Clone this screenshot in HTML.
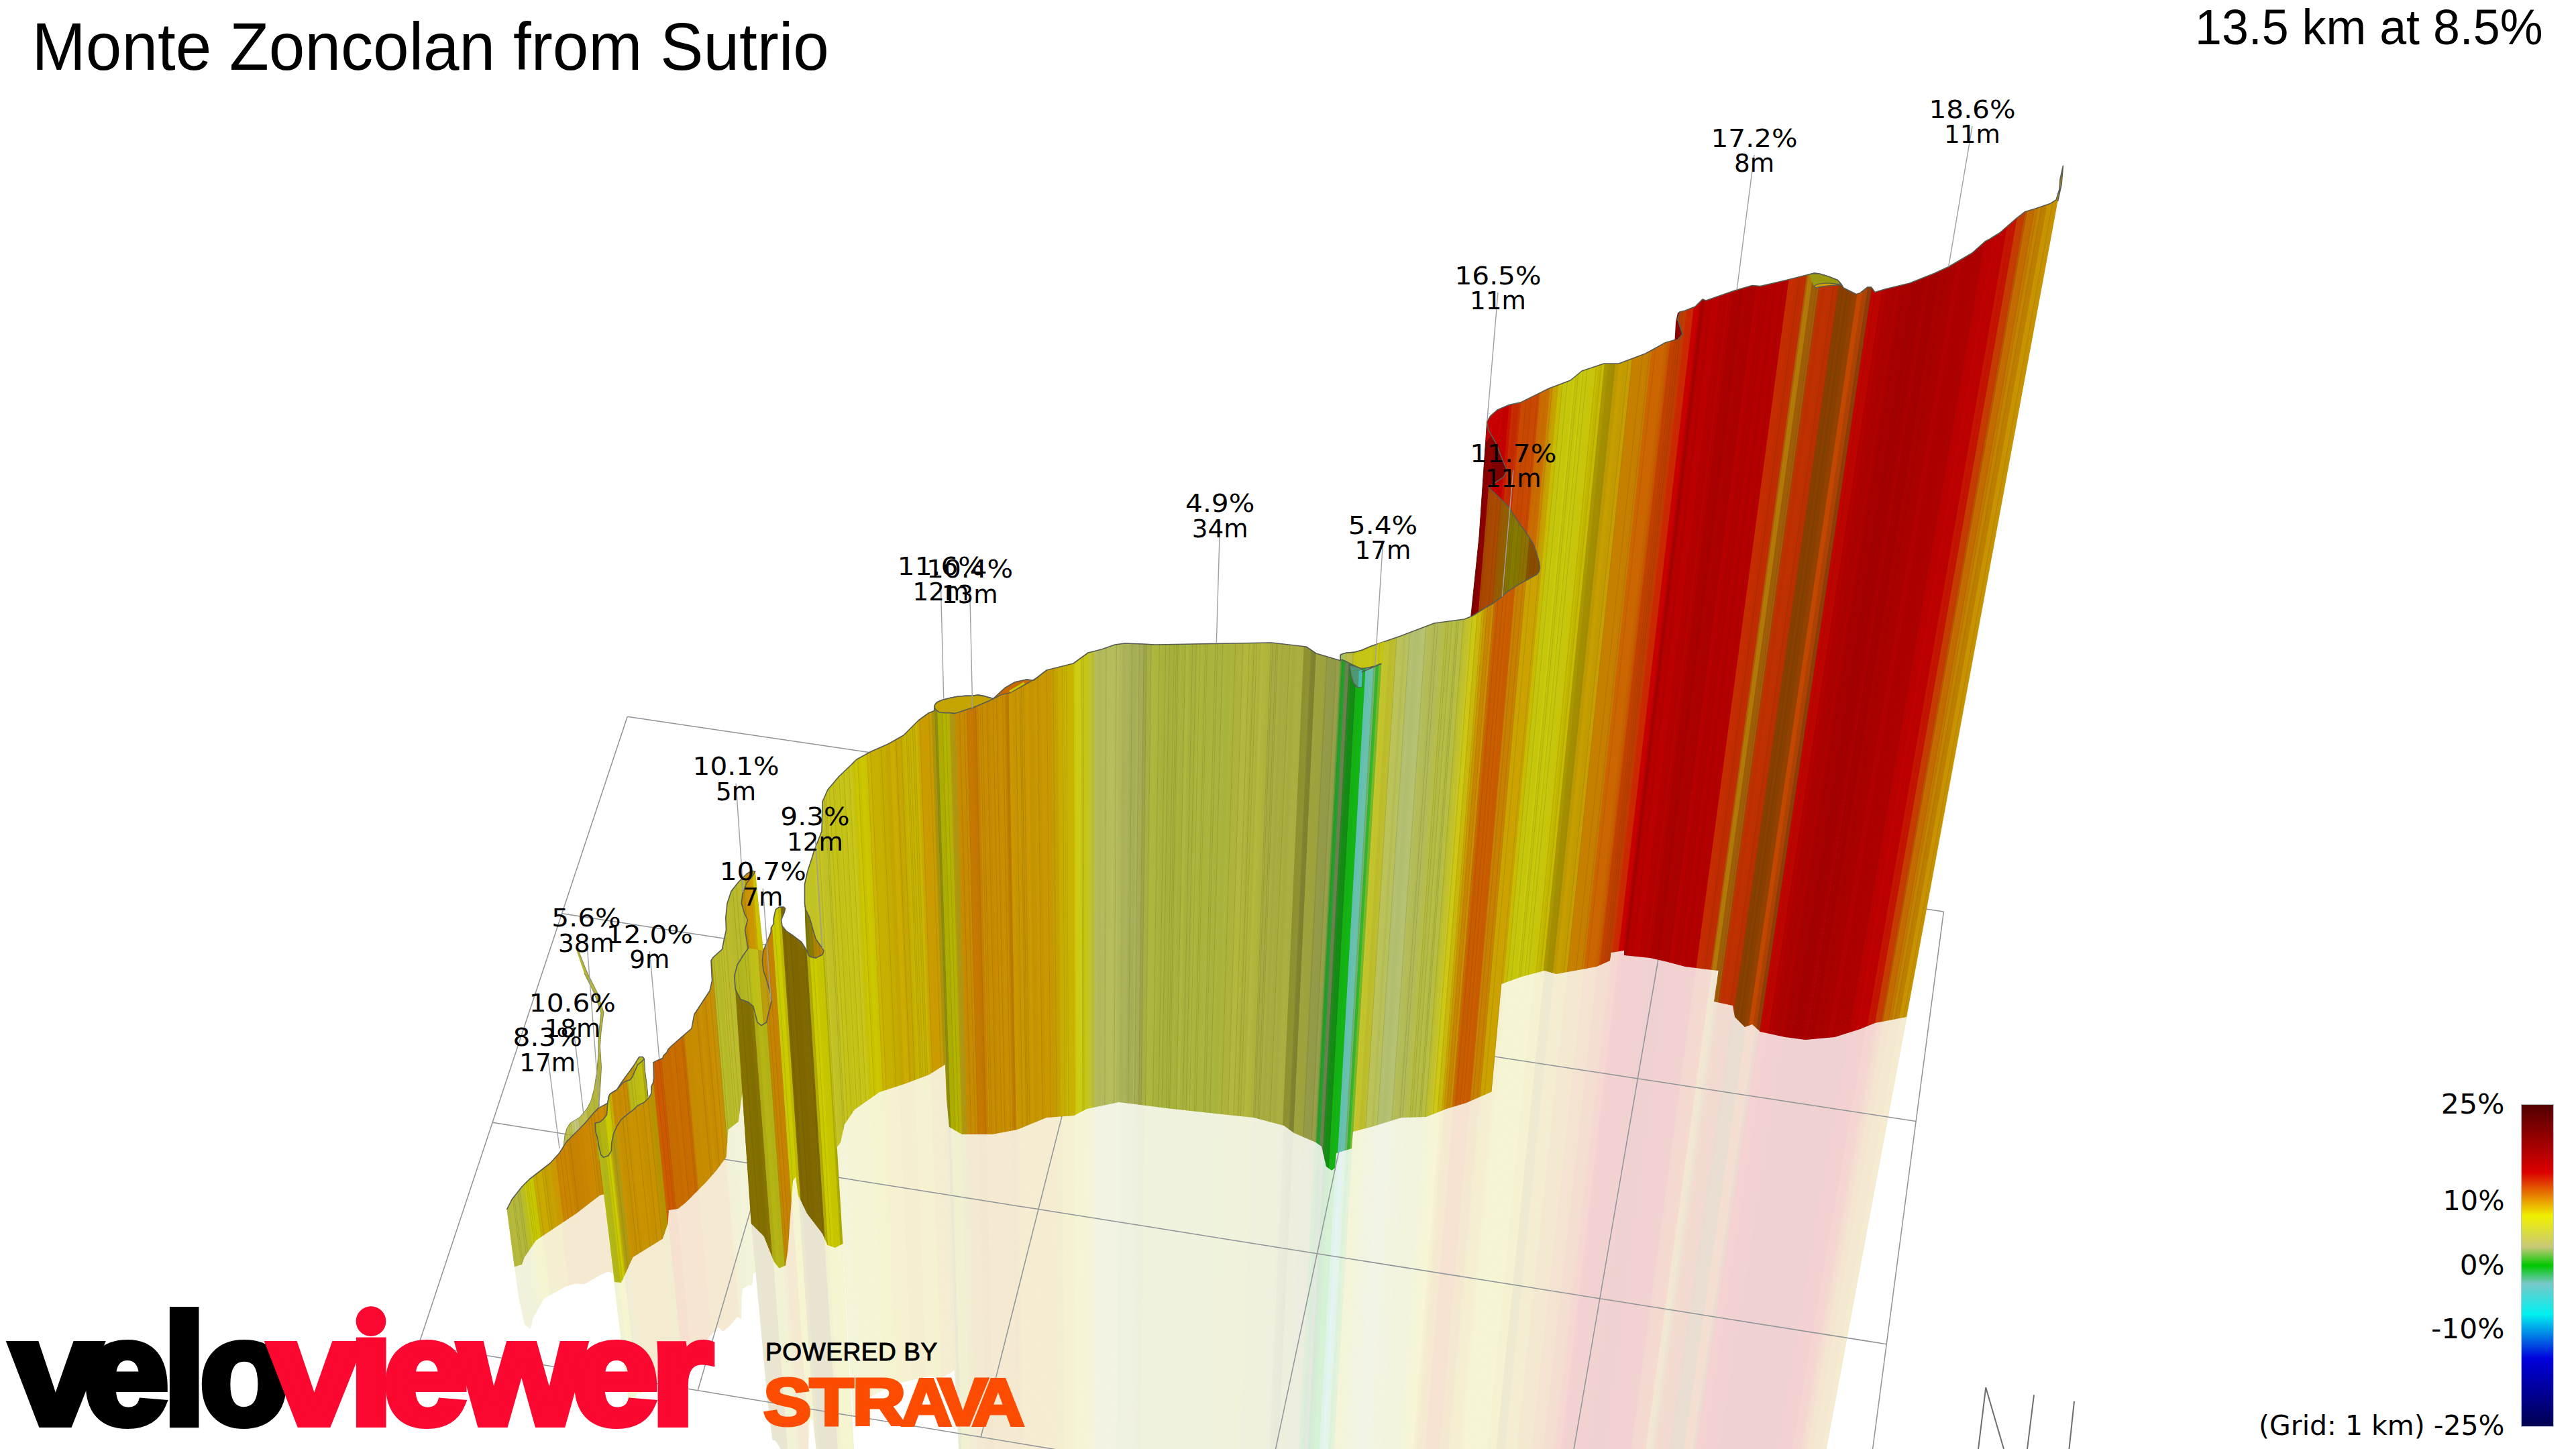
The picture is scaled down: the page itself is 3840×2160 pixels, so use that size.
<!DOCTYPE html>
<html><head><meta charset="utf-8"><title>Monte Zoncolan from Sutrio</title>
<style>
html,body{margin:0;padding:0;background:#fff;}
body{width:3840px;height:2160px;overflow:hidden;position:relative;font-family:"Liberation Sans",sans-serif;}
svg{position:absolute;left:0;top:0;display:block}
text{font-family:"DejaVu Sans","Liberation Sans",sans-serif}
.t{font-family:"Liberation Sans",sans-serif}
</style></head><body>
<svg width="3840" height="2160" viewBox="0 0 3840 2160">
<defs>
<clipPath id="c1"><polygon points="766.8,1887.5 769.7,1886.6 772.5,1885.7 775.3,1884.8 778.0,1883.5 780.2,1877.7 782.4,1872.2 784.8,1868.6 787.3,1865.0 789.8,1861.4 792.2,1857.8 794.7,1854.2 797.1,1850.5 799.7,1847.5 802.4,1845.6 805.1,1843.8 807.8,1842.0 810.6,1840.2 813.3,1838.4 816.0,1836.6 818.7,1834.8 821.4,1833.0 824.2,1831.1 826.9,1829.3 829.6,1827.5 832.4,1825.7 835.1,1823.9 837.8,1822.0 840.6,1820.2 843.3,1818.4 846.0,1816.6 848.8,1814.7 851.5,1812.9 854.3,1811.1 857.0,1809.2 859.7,1807.3 862.5,1805.2 865.2,1803.1 867.9,1801.0 870.6,1798.9 873.3,1796.8 876.1,1794.7 878.8,1792.6 881.5,1790.5 884.3,1788.4 887.0,1786.3 889.7,1784.2 892.5,1782.1 895.3,1780.6 898.2,1779.8 901.1,1779.1 903.9,1778.3 906.8,1777.5 909.7,1776.7 912.6,1775.9 915.5,1775.1 918.4,1774.3 921.3,1773.6 924.2,1772.8 927.1,1772.0 930.0,1771.2 932.9,1770.4 935.8,1769.6 938.7,1768.8 941.6,1768.0 944.5,1767.3 947.4,1766.5 950.3,1765.7 953.2,1764.9 956.1,1764.1 959.0,1763.3 961.9,1762.5 964.9,1761.7 967.8,1760.9 970.7,1760.1 973.6,1759.4 971.0,1704.2 983.7,1829.9 991.5,1935.1 988.6,1935.2 985.5,1933.1 982.3,1930.7 979.2,1928.6 976.1,1926.7 973.0,1924.8 969.9,1923.1 966.8,1921.4 963.7,1919.6 960.6,1917.7 957.5,1915.7 954.3,1913.4 951.1,1911.1 948.2,1910.7 945.2,1910.7 942.3,1910.4 939.2,1909.3 935.7,1903.7 932.4,1900.2 929.5,1900.3 926.6,1900.4 923.6,1900.5 920.7,1900.5 917.7,1899.7 914.7,1898.7 911.6,1897.6 908.5,1896.2 905.6,1896.1 902.8,1897.3 900.0,1898.4 897.2,1899.6 894.5,1901.1 891.7,1902.6 889.0,1904.1 886.2,1905.7 883.5,1907.2 880.8,1908.7 878.0,1910.3 875.3,1911.8 872.6,1913.4 869.7,1914.3 866.8,1914.1 863.9,1913.9 860.9,1913.7 858.0,1913.5 855.1,1914.2 852.3,1915.1 849.5,1915.9 846.7,1916.7 843.9,1917.5 841.1,1918.8 838.4,1920.4 835.7,1921.9 833.0,1923.4 830.3,1925.0 827.5,1926.5 824.8,1928.0 822.1,1929.6 819.4,1931.1 816.7,1932.6 814.0,1934.2 811.2,1935.5 808.8,1939.0 806.5,1943.6 804.2,1948.1 801.9,1952.6 799.5,1956.5 797.1,1960.5 794.8,1964.5 792.9,1972.0 791.1,1980.3 788.1,1979.4 784.9,1976.7 781.6,1974.1 773.2,1933.9"/></clipPath>
<clipPath id="c2"><polygon points="888.1,1687.2 916.4,1910.1 919.4,1910.3 922.3,1910.6 925.3,1910.9 927.8,1907.0 930.1,1902.0 932.5,1896.9 934.9,1891.8 937.2,1886.6 939.6,1881.4 941.9,1876.2 944.5,1872.3 947.2,1870.7 950.0,1869.0 952.7,1867.3 955.5,1865.6 958.3,1863.9 961.0,1862.2 963.8,1860.5 966.5,1858.8 969.3,1857.1 972.1,1855.4 974.8,1853.7 977.6,1852.0 980.4,1850.3 983.2,1848.5 985.9,1846.8 988.6,1843.6 990.8,1836.9 993.1,1830.1 995.4,1823.3 996.7,1806.3 999.3,1802.7 1002.2,1802.2 1005.1,1801.8 1008.1,1801.4 1011.0,1800.6 1013.7,1798.4 1016.5,1796.2 1019.2,1794.0 1022.0,1791.7 1024.7,1789.2 1027.5,1786.4 1030.2,1783.7 1032.9,1780.9 1035.6,1778.2 1038.4,1775.4 1041.1,1772.7 1043.8,1769.9 1046.6,1767.2 1049.3,1764.4 1052.0,1761.7 1054.8,1758.7 1057.5,1755.6 1060.2,1752.5 1062.9,1749.4 1065.6,1746.3 1068.4,1743.0 1071.0,1739.4 1073.7,1735.8 1076.4,1732.2 1079.1,1728.6 1081.8,1724.9 1083.5,1709.6 1084.9,1690.1 1087.2,1681.6 1090.1,1679.3 1092.9,1677.1 1095.8,1674.8 1098.6,1672.6 1101.2,1666.9 1103.1,1652.9 1105.0,1638.8 1107.3,1629.2 1110.4,1629.9 1113.5,1630.6 1116.6,1631.4 1119.7,1632.1 1122.8,1632.8 1125.9,1633.5 1129.0,1634.2 1132.1,1634.9 1135.2,1635.6 1138.3,1636.3 1141.4,1637.1 1144.5,1637.8 1147.6,1638.5 1170.4,1948.2 1167.4,1946.7 1164.3,1943.8 1161.1,1940.9 1158.0,1937.3 1154.8,1933.6 1151.6,1929.8 1148.4,1926.0 1145.1,1921.8 1141.9,1917.4 1138.6,1913.1 1135.3,1908.4 1131.8,1900.5 1128.2,1892.6 1125.7,1897.7 1122.9,1898.6 1121.3,1915.6 1118.5,1916.6 1115.5,1915.7 1112.7,1917.6 1110.0,1919.6 1107.2,1921.5 1105.4,1935.1 1105.2,1967.3 1102.1,1964.6 1099.1,1963.3 1096.5,1966.5 1093.9,1969.6 1091.2,1972.6 1088.6,1975.7 1085.9,1978.2 1083.2,1980.3 1080.5,1982.5 1077.8,1984.7 1074.8,1982.5 1071.5,1978.5 1068.8,1980.3 1066.2,1983.2 1063.6,1986.2 1060.9,1989.2 1058.3,1992.1 1055.7,1995.1 1053.1,1998.1 1050.5,2001.0 1047.9,2004.0 1045.3,2006.9 1042.7,2009.6 1040.0,2011.2 1037.1,2011.4 1034.4,2012.6 1031.7,2014.4 1028.6,2011.9 1025.7,2011.7 1022.8,2011.4 1019.8,2010.9 1017.5,2016.5 1015.5,2024.8 1013.2,2031.0 1010.5,2031.9 1008.4,2040.3 1005.9,2043.8 1003.2,2044.6 1000.4,2045.9 997.8,2047.9 995.1,2049.8 992.5,2051.8 989.7,2052.6 986.9,2053.4 984.2,2054.5 981.5,2055.8 978.8,2057.1 976.1,2058.4 973.3,2059.5 970.6,2060.6 967.9,2061.6 964.9,2061.1 962.5,2064.6 960.2,2070.1 957.9,2075.1 955.4,2077.8 952.4,2076.3 949.7,2077.5 947.5,2083.1 945.3,2089.5 942.3,2088.1 939.5,2088.1 937.5,2095.0 888.9,1694.3"/></clipPath>
<clipPath id="c3"><polygon points="1119.9,1823.3 1123.2,1826.5 1126.4,1829.8 1129.6,1833.0 1132.8,1836.2 1136.0,1839.4 1139.3,1843.6 1142.9,1852.8 1146.6,1861.9 1150.2,1870.9 1153.8,1880.0 1157.1,1884.1 1160.3,1888.1 1163.3,1888.6 1166.1,1887.5 1169.0,1886.4 1171.5,1881.5 1173.5,1868.4 1175.3,1851.8 1176.7,1831.0 1178.2,1810.3 1179.7,1789.4 1181.3,1768.4 1183.5,1757.1 1186.5,1757.9 1191.3,1783.8 1194.7,1791.0 1198.2,1798.2 1201.6,1805.3 1205.0,1810.7 1208.2,1814.9 1211.5,1819.1 1214.7,1823.3 1217.9,1827.6 1221.2,1831.8 1224.4,1836.0 1227.7,1842.0 1231.2,1849.8 1234.5,1855.4 1237.5,1856.4 1240.5,1857.4 1243.5,1858.5 1246.4,1858.2 1249.3,1856.7 1252.1,1855.2 1255.0,1853.7 1275.4,2200.0 1272.6,2200.0 1269.8,2200.0 1267.0,2200.0 1264.2,2200.0 1261.5,2200.0 1258.7,2200.0 1255.9,2200.0 1253.1,2200.0 1250.3,2200.0 1247.5,2200.0 1244.8,2200.0 1242.0,2200.0 1239.2,2199.7 1236.0,2194.2 1232.9,2188.7 1229.7,2182.9 1226.4,2175.2 1224.7,2191.0 1221.0,2178.4 1217.3,2165.7 1211.3,2118.2 1208.2,2114.0 1206.2,2125.6 1205.3,2153.5 1204.5,2182.3 1203.0,2200.0 1200.2,2200.0 1197.4,2200.0 1194.6,2200.0 1191.8,2200.0 1189.1,2200.0 1186.3,2200.0 1183.5,2200.0 1180.7,2200.0 1177.9,2200.0 1175.1,2200.0 1171.7,2191.0 1167.8,2176.7 1163.8,2161.2 1160.5,2154.5 1157.3,2149.7 1154.2,2146.8 1151.5,2147.0 1143.6,2083.5 1122.0,1848.5"/></clipPath>
<clipPath id="c4"><polygon points="2192.7,922.7 2191.4,979.6 2190.1,1035.6 2188.9,1090.6 2187.6,1144.9 2186.4,1198.3 2185.1,1250.9 2183.9,1302.8 2182.8,1353.8 2181.6,1404.1 2180.4,1453.7 2182.1,1468.9 2185.0,1468.7 2188.0,1468.6 2190.9,1468.4 2193.9,1468.3 2196.8,1468.1 2199.7,1468.0 2202.7,1467.8 2205.6,1467.7 2208.6,1467.5 2211.5,1467.4 2214.4,1467.2 2217.4,1467.1 2220.3,1466.9 2223.3,1466.8 2226.2,1466.6 2229.1,1466.5 2232.1,1466.3 2235.0,1466.2 2238.0,1466.0 2241.0,1464.9 2244.0,1463.8 2247.0,1462.7 2250.1,1461.6 2253.1,1460.5 2256.2,1459.4 2259.2,1458.3 2262.2,1457.2 2265.3,1456.0 2268.3,1454.9 2271.3,1454.2 2274.3,1453.4 2277.3,1452.6 2280.3,1451.8 2283.3,1451.0 2286.4,1450.2 2289.4,1449.4 2292.4,1448.6 2295.4,1447.8 2298.4,1447.0 2301.4,1446.2 2304.3,1446.6 2307.2,1447.4 2310.0,1448.2 2312.9,1449.0 2315.7,1449.8 2318.6,1450.6 2321.5,1450.7 2324.5,1450.2 2327.5,1449.6 2330.5,1449.1 2333.5,1448.5 2336.5,1448.0 2339.5,1447.5 2342.5,1446.9 2345.5,1446.4 2348.4,1445.8 2351.4,1445.3 2354.4,1444.7 2357.4,1444.2 2360.4,1443.6 2363.4,1443.1 2366.4,1442.5 2369.4,1442.0 2372.4,1441.4 2375.4,1440.9 2378.4,1440.3 2381.5,1439.4 2384.6,1438.0 2387.7,1436.6 2390.8,1435.2 2393.9,1433.8 2397.0,1432.4 2400.1,1431.0 2404.4,1418.6 2407.4,1418.2 2410.4,1417.7 2413.5,1417.2 2416.5,1416.7 2419.5,1416.3 2421.6,1423.1 2424.5,1423.3 2427.4,1423.6 2430.3,1423.9 2433.2,1424.2 2436.2,1424.5 2439.1,1424.8 2442.0,1425.1 2444.9,1425.4 2447.8,1425.7 2450.7,1426.0 2453.6,1426.3 2456.5,1426.6 2459.4,1426.9 2462.3,1427.5 2465.2,1428.2 2468.0,1428.8 2470.9,1429.5 2473.7,1430.1 2476.6,1430.8 2479.5,1431.5 2482.3,1432.1 2485.2,1432.8 2488.0,1433.5 2490.9,1434.3 2493.7,1435.0 2496.6,1435.8 2499.4,1436.6 2502.2,1437.3 2505.1,1438.1 2507.9,1438.9 2510.8,1439.6 2513.6,1440.2 2516.5,1440.5 2519.4,1440.9 2522.3,1441.2 2525.2,1441.6 2528.1,1441.9 2531.0,1442.3 2533.9,1442.6 2536.7,1443.0 2539.6,1443.3 2542.5,1443.7 2545.4,1444.0 2548.3,1444.4 2551.2,1444.7 2554.1,1445.1 2557.0,1445.4 2559.9,1445.8 2556.3,1492.2 2559.1,1492.9 2562.0,1493.5 2564.8,1494.1 2567.6,1494.7 2570.4,1495.3 2573.3,1495.9 2576.1,1496.5 2578.9,1497.1 2581.8,1497.7 2584.0,1502.6 2585.6,1511.7 2587.8,1516.6 2590.3,1519.1 2592.8,1521.7 2595.4,1524.2 2597.9,1526.7 2600.4,1529.3 2603.3,1529.2 2606.4,1528.1 2609.5,1527.0 2612.5,1526.3 2615.0,1528.6 2617.6,1531.0 2620.1,1533.3 2622.7,1535.6 2625.3,1537.3 2628.1,1537.9 2630.9,1538.5 2633.7,1539.1 2636.5,1539.7 2639.3,1540.3 2642.1,1540.9 2644.9,1541.5 2647.7,1542.1 2650.5,1542.7 2653.3,1543.3 2656.1,1543.9 2658.9,1544.5 2661.7,1545.1 2664.6,1545.5 2667.4,1545.8 2670.2,1546.2 2673.1,1546.6 2675.9,1547.0 2678.7,1547.3 2681.6,1547.7 2684.4,1548.1 2687.2,1548.5 2690.0,1548.9 2692.9,1548.8 2695.9,1548.6 2698.8,1548.3 2701.7,1548.0 2704.7,1547.8 2707.6,1547.5 2710.6,1547.2 2713.5,1547.0 2716.4,1546.7 2719.4,1546.4 2722.3,1546.2 2725.2,1545.9 2728.2,1545.6 2731.1,1545.4 2734.0,1545.1 2737.1,1544.4 2740.1,1543.4 2743.2,1542.5 2746.2,1541.5 2749.3,1540.5 2752.3,1539.6 2755.4,1538.6 2758.5,1537.6 2761.5,1536.7 2764.6,1535.7 2767.6,1534.7 2770.7,1533.8 2773.8,1532.7 2776.9,1531.5 2780.0,1530.2 2783.2,1528.9 2786.3,1527.6 2789.4,1526.4 2792.5,1525.1 2795.6,1523.9 2798.6,1523.3 2801.6,1522.8 2804.6,1522.2 2807.7,1521.6 2810.7,1521.0 2813.7,1520.5 2816.7,1519.9 2819.7,1519.3 2822.7,1518.7 2825.7,1518.2 2828.7,1517.6 2831.7,1517.0 2834.7,1516.4 2837.7,1515.9 2840.7,1515.3 2989.2,722.4 2913.0,1137.6 2715.4,2200.0 2712.8,2200.0 2710.2,2200.0 2707.6,2200.0 2705.0,2200.0 2702.4,2200.0 2699.7,2200.0 2697.1,2200.0 2694.5,2200.0 2691.9,2200.0 2689.3,2200.0 2686.7,2200.0 2684.1,2200.0 2681.5,2200.0 2678.9,2200.0 2676.3,2200.0 2673.7,2200.0 2671.1,2200.0 2668.5,2200.0 2665.9,2200.0 2663.3,2200.0 2660.7,2200.0 2658.1,2200.0 2655.4,2200.0 2652.8,2200.0 2650.2,2200.0 2647.6,2200.0 2645.0,2200.0 2642.4,2200.0 2639.8,2200.0 2637.2,2200.0 2634.6,2200.0 2632.0,2200.0 2629.4,2200.0 2626.8,2200.0 2624.2,2200.0 2621.6,2200.0 2619.0,2200.0 2616.4,2200.0 2613.8,2200.0 2611.1,2200.0 2608.5,2200.0 2605.9,2200.0 2603.3,2200.0 2600.7,2200.0 2598.1,2200.0 2595.5,2200.0 2592.9,2200.0 2590.3,2200.0 2587.7,2200.0 2585.1,2200.0 2582.5,2200.0 2579.9,2200.0 2577.3,2200.0 2574.7,2200.0 2572.1,2200.0 2569.5,2200.0 2566.8,2200.0 2564.2,2200.0 2561.6,2200.0 2559.0,2200.0 2556.4,2200.0 2553.8,2200.0 2551.2,2200.0 2548.6,2200.0 2546.0,2200.0 2543.4,2200.0 2540.8,2200.0 2538.2,2200.0 2535.6,2200.0 2533.0,2200.0 2530.4,2200.0 2527.8,2200.0 2525.2,2200.0 2522.5,2200.0 2519.9,2200.0 2517.3,2200.0 2514.7,2200.0 2512.1,2200.0 2509.5,2200.0 2506.9,2200.0 2504.3,2200.0 2501.7,2200.0 2499.1,2200.0 2496.5,2200.0 2493.9,2200.0 2491.3,2200.0 2488.7,2200.0 2486.1,2200.0 2483.5,2200.0 2480.9,2200.0 2478.2,2200.0 2475.6,2200.0 2473.0,2200.0 2470.4,2200.0 2467.8,2200.0 2465.2,2200.0 2462.6,2200.0 2460.0,2200.0 2457.4,2200.0 2454.8,2200.0 2452.2,2200.0 2449.6,2200.0 2447.0,2200.0 2444.4,2200.0 2441.8,2200.0 2439.2,2200.0 2436.6,2200.0 2434.0,2200.0 2431.3,2200.0 2428.7,2200.0 2426.1,2200.0 2423.5,2200.0 2420.9,2200.0 2418.3,2200.0 2415.7,2200.0 2413.1,2200.0 2410.5,2200.0 2407.9,2200.0 2405.3,2200.0 2402.7,2200.0 2400.1,2200.0 2397.5,2200.0 2394.9,2200.0 2392.3,2200.0 2389.7,2200.0 2387.0,2200.0 2384.4,2200.0 2381.8,2200.0 2379.2,2200.0 2376.6,2200.0 2374.0,2200.0 2371.4,2199.8 2369.0,2198.2 2366.6,2196.5 2364.2,2194.9 2361.8,2193.7 2359.3,2192.5 2356.8,2191.3 2354.4,2190.1 2351.9,2188.9 2349.5,2187.7 2347.0,2186.5 2344.5,2185.2 2342.1,2184.0 2339.6,2182.8 2337.1,2181.6 2334.5,2181.6 2331.9,2181.2 2330.9,2168.2 2328.4,2166.6 2325.9,2165.6 2323.3,2165.5 2320.7,2165.4 2318.1,2165.3 2313.3,2184.0 2310.5,2185.7 2307.7,2187.4 2307.7,2164.2 2304.9,2165.8 2302.1,2167.3 2299.3,2168.9 2296.6,2169.7 2294.0,2169.5 2291.5,2169.2 2288.9,2168.9 2286.3,2168.5 2283.7,2168.2 2281.1,2167.9 2278.5,2167.5 2276.0,2167.2 2273.3,2167.1 2270.7,2167.2 2268.1,2167.3 2265.5,2167.3 2262.8,2167.4 2260.2,2167.5 2257.6,2167.6 2254.9,2167.6 2252.3,2167.7 2249.7,2167.8 2247.1,2167.8 2244.5,2166.9 2242.1,2165.6 2239.6,2164.4 2237.1,2163.1 2234.6,2161.8 2232.1,2160.6 2229.5,2159.9 2226.8,2160.8 2224.1,2161.3 2221.5,2161.9 2218.8,2162.4 2216.1,2163.0 2213.4,2163.6 2210.7,2164.1 2208.1,2164.7 2205.4,2165.3 2202.7,2165.8 2200.1,2165.3 2197.5,2165.2 2194.9,2165.1 2192.3,2165.1 2189.7,2165.2 2187.0,2166.2 2184.2,2167.2 2181.5,2168.2 2178.8,2169.2 2176.1,2170.1 2173.4,2171.0 2170.8,2170.5 2168.3,2169.9 2165.7,2169.4 2163.2,2168.5 2160.6,2167.7 2158.1,2166.9 2155.5,2166.1 2153.0,2165.2 2150.4,2164.4 2147.9,2163.6 2145.3,2162.7 2142.8,2161.9 2140.2,2161.1 2137.7,2160.2 2135.1,2159.4 2132.5,2159.0 2129.9,2158.8 2127.3,2158.6 2124.7,2158.4 2124.2,2133.4 2128.2,2052.2 2132.4,1968.5 2136.7,1882.4 2141.1,1794.0 2145.7,1703.0 2150.4,1608.8 2155.3,1511.1 2160.4,1410.4 2165.8,1305.1 2191.2,942.1"/></clipPath>
<clipPath id="c5"><polygon points="1199.9,1348.7 1203.6,1360.4 1207.0,1367.4 1210.9,1381.3 1214.6,1393.9 1218.0,1401.6 1221.2,1406.1 1224.5,1410.5 1227.7,1416.2 1247.9,1708.8 1250.5,1705.3 1253.1,1701.4 1255.3,1691.3 1257.6,1681.2 1260.0,1673.5 1262.6,1669.6 1265.2,1665.8 1267.8,1661.9 1270.5,1658.1 1273.1,1654.2 1275.8,1651.7 1278.6,1649.8 1281.3,1647.8 1284.1,1645.9 1286.8,1644.0 1289.5,1642.0 1292.3,1640.1 1295.1,1638.2 1297.8,1636.2 1300.6,1634.3 1303.3,1632.4 1306.1,1630.4 1308.8,1628.5 1311.6,1626.8 1314.4,1625.9 1317.2,1625.0 1320.1,1624.0 1322.9,1623.1 1325.7,1622.2 1328.5,1621.3 1331.3,1620.4 1334.1,1619.5 1337.0,1618.6 1339.8,1617.7 1342.6,1616.7 1345.4,1615.8 1348.2,1614.9 1351.1,1613.8 1353.9,1612.8 1356.7,1611.7 1359.5,1610.6 1362.3,1609.6 1365.2,1608.5 1368.0,1607.4 1370.8,1606.4 1373.6,1605.3 1376.5,1604.2 1379.3,1603.1 1382.1,1602.1 1384.9,1601.0 1387.7,1599.2 1390.6,1597.5 1393.4,1595.7 1396.2,1593.9 1399.0,1592.1 1401.8,1590.4 1404.6,1588.6 1407.4,1586.8 1412.5,1653.6 1416.2,1679.7 1419.1,1681.4 1422.0,1683.0 1424.8,1684.7 1427.7,1686.4 1430.6,1688.0 1433.5,1689.7 1436.3,1690.0 1439.1,1690.0 1442.0,1690.0 1444.8,1690.0 1447.6,1690.0 1450.5,1690.0 1453.3,1690.0 1456.1,1690.0 1459.0,1690.0 1461.8,1690.0 1464.6,1690.0 1467.4,1690.0 1470.3,1690.0 1473.1,1690.0 1475.9,1690.0 1478.8,1690.0 1481.6,1689.5 1484.4,1689.0 1487.2,1688.4 1490.0,1687.9 1492.8,1687.4 1495.7,1686.8 1498.5,1686.3 1501.3,1685.8 1504.1,1685.2 1506.9,1684.7 1509.8,1684.2 1512.6,1683.6 1515.4,1683.1 1518.2,1682.1 1521.0,1680.9 1523.9,1679.8 1526.7,1678.6 1529.5,1677.5 1532.3,1676.3 1535.1,1675.2 1538.0,1674.0 1540.8,1672.9 1543.6,1671.7 1546.4,1670.6 1549.2,1669.4 1552.1,1668.2 1554.9,1667.1 1557.7,1665.9 1560.5,1665.0 1563.4,1664.8 1566.2,1664.5 1569.1,1664.3 1571.9,1664.1 1574.7,1663.9 1577.6,1663.7 1580.4,1663.5 1583.3,1663.3 1586.1,1663.1 1588.9,1662.9 1591.8,1662.7 1594.6,1662.5 1597.5,1662.3 1600.3,1662.1 1603.1,1660.9 1606.0,1659.4 1608.8,1657.9 1611.7,1656.4 1614.5,1654.9 1617.3,1653.4 1620.2,1652.0 1623.0,1651.4 1625.9,1650.8 1628.7,1650.2 1631.6,1649.6 1634.4,1649.0 1637.3,1648.4 1640.1,1647.8 1643.0,1647.2 1645.8,1646.6 1648.7,1646.0 1651.5,1645.4 1654.4,1644.8 1657.2,1644.2 1660.1,1643.7 1662.9,1643.1 1665.8,1642.5 1668.6,1642.1 1671.5,1642.4 1674.3,1642.8 1677.2,1643.2 1680.0,1643.5 1682.9,1643.9 1685.7,1644.2 1688.6,1644.6 1691.4,1645.0 1694.2,1645.3 1697.1,1645.7 1699.9,1646.0 1702.8,1646.4 1705.6,1646.8 1708.5,1647.1 1711.3,1647.5 1714.2,1647.8 1717.0,1648.2 1719.8,1648.6 1722.7,1648.9 1725.5,1649.3 1728.4,1649.6 1731.2,1650.0 1734.0,1650.4 1736.9,1650.7 1739.7,1651.1 1742.6,1651.4 1745.4,1651.7 1748.2,1652.0 1751.1,1652.3 1753.9,1652.6 1756.8,1652.9 1759.6,1653.3 1762.4,1653.6 1765.3,1653.9 1768.1,1654.2 1771.0,1654.5 1773.8,1654.8 1776.6,1655.1 1779.5,1655.4 1782.3,1655.8 1785.1,1656.1 1788.0,1656.4 1790.8,1656.7 1793.6,1657.0 1796.5,1657.3 1799.3,1657.6 1802.2,1657.9 1805.0,1658.2 1807.8,1658.6 1810.7,1658.9 1813.5,1659.2 1816.3,1659.5 1819.2,1659.8 1822.0,1660.1 1824.8,1660.4 1827.7,1660.7 1830.5,1661.0 1833.3,1661.3 1836.2,1661.6 1839.0,1661.9 1841.8,1662.2 1844.7,1662.5 1847.5,1662.8 1850.3,1663.0 1853.1,1663.3 1856.0,1663.6 1858.8,1663.9 1861.6,1664.2 1864.5,1664.5 1867.3,1664.8 1870.1,1665.3 1872.9,1666.0 1875.7,1666.8 1878.5,1667.5 1881.4,1668.3 1884.2,1669.0 1887.0,1669.8 1889.8,1670.5 1892.6,1671.3 1895.4,1672.0 1898.2,1672.8 1901.0,1673.5 1903.8,1674.3 1906.6,1675.0 1909.4,1675.8 1912.2,1676.5 1915.0,1677.7 1917.7,1679.7 1920.5,1681.7 1923.2,1683.7 1926.0,1685.7 1928.7,1687.7 1931.5,1689.0 1934.2,1690.2 1937.0,1691.4 1939.8,1692.6 1942.6,1693.8 1945.3,1695.0 1948.1,1696.2 1950.9,1697.4 1953.6,1698.6 1956.4,1699.7 1959.2,1700.9 1961.9,1702.2 1964.6,1704.1 1967.4,1706.1 1970.1,1708.1 1972.4,1717.9 1974.6,1727.7 1976.9,1737.5 1979.6,1739.8 1982.3,1741.7 1985.0,1743.6 1987.9,1741.6 1992.1,1718.0 1994.9,1717.1 1997.8,1716.2 2000.7,1715.4 2003.5,1714.5 2006.4,1713.6 2009.3,1712.8 2012.2,1711.9 2015.0,1711.0 2019.4,1685.4 2022.3,1684.6 2025.2,1683.9 2028.0,1683.2 2030.9,1682.4 2033.8,1681.7 2036.7,1680.9 2039.6,1680.2 2042.4,1679.4 2045.3,1678.6 2048.2,1677.7 2051.1,1676.8 2054.0,1675.9 2056.9,1675.0 2059.8,1674.1 2062.7,1673.2 2065.6,1672.3 2068.5,1671.4 2071.4,1670.5 2074.3,1669.6 2077.2,1668.7 2080.1,1667.8 2083.0,1666.9 2085.9,1666.0 2088.8,1665.1 2091.7,1664.9 2094.5,1664.9 2097.4,1664.8 2100.2,1664.7 2103.0,1664.6 2105.9,1664.5 2108.7,1664.5 2111.6,1664.4 2114.4,1664.3 2117.3,1664.2 2120.1,1664.2 2123.0,1664.1 2125.8,1664.0 2128.7,1662.9 2131.7,1661.8 2134.6,1660.6 2137.5,1659.4 2140.5,1658.2 2143.4,1657.1 2146.3,1655.9 2149.3,1654.7 2152.2,1653.5 2155.2,1652.4 2158.1,1651.4 2161.0,1650.5 2163.9,1649.6 2166.9,1648.8 2169.8,1647.9 2172.7,1647.0 2175.6,1646.1 2178.5,1645.3 2181.5,1644.4 2184.4,1643.5 2187.3,1642.4 2190.3,1641.1 2193.3,1639.8 2196.2,1638.5 2199.2,1637.2 2202.2,1635.9 2205.1,1634.5 2208.1,1633.2 2211.1,1631.9 2214.0,1630.6 2217.0,1629.3 2220.0,1628.0 2223.0,1626.6 2170.5,2200.0 2167.9,2200.0 2165.3,2200.0 2162.7,2200.0 2160.1,2200.0 2157.5,2200.0 2154.9,2200.0 2152.3,2200.0 2149.7,2200.0 2147.1,2200.0 2144.4,2200.0 2141.8,2200.0 2139.2,2200.0 2136.6,2200.0 2134.0,2200.0 2131.4,2200.0 2128.8,2200.0 2126.2,2200.0 2123.6,2200.0 2121.0,2200.0 2118.4,2200.0 2115.8,2200.0 2113.2,2200.0 2110.6,2200.0 2108.0,2200.0 2105.4,2200.0 2102.8,2200.0 2100.1,2200.0 2097.5,2200.0 2094.9,2200.0 2092.3,2200.0 2089.7,2200.0 2087.1,2200.0 2084.5,2200.0 2081.9,2200.0 2079.3,2200.0 2076.7,2200.0 2074.1,2200.0 2071.5,2200.0 2068.9,2200.0 2066.3,2200.0 2063.7,2200.0 2061.1,2200.0 2058.5,2200.0 2055.8,2200.0 2053.2,2200.0 2050.6,2200.0 2048.0,2200.0 2045.4,2200.0 2042.8,2200.0 2040.2,2200.0 2037.6,2200.0 2035.0,2200.0 2032.4,2200.0 2029.8,2200.0 2027.2,2200.0 2024.6,2200.0 2022.0,2200.0 2019.4,2200.0 2016.8,2200.0 2014.2,2200.0 2011.5,2200.0 2008.9,2200.0 2006.3,2200.0 2003.7,2200.0 2001.1,2200.0 1998.5,2200.0 1995.9,2200.0 1993.3,2200.0 1990.7,2200.0 1988.1,2200.0 1985.5,2200.0 1982.9,2200.0 1980.3,2200.0 1977.7,2200.0 1975.1,2200.0 1972.5,2200.0 1969.9,2200.0 1967.2,2200.0 1964.6,2200.0 1962.0,2200.0 1959.4,2200.0 1956.8,2200.0 1954.2,2200.0 1951.6,2200.0 1949.0,2200.0 1946.4,2200.0 1943.8,2200.0 1941.2,2200.0 1938.6,2200.0 1936.0,2200.0 1933.4,2200.0 1930.8,2200.0 1928.2,2200.0 1925.6,2200.0 1922.9,2200.0 1920.3,2200.0 1917.7,2200.0 1915.1,2200.0 1912.5,2200.0 1909.9,2200.0 1907.3,2200.0 1904.7,2200.0 1902.1,2200.0 1899.5,2200.0 1896.9,2200.0 1894.3,2200.0 1891.7,2200.0 1889.1,2200.0 1886.5,2200.0 1883.9,2200.0 1881.3,2200.0 1878.7,2200.0 1876.0,2200.0 1873.4,2200.0 1870.8,2200.0 1868.2,2200.0 1865.6,2200.0 1863.0,2200.0 1860.4,2200.0 1857.8,2200.0 1855.2,2200.0 1852.6,2200.0 1850.0,2200.0 1847.4,2200.0 1844.8,2200.0 1842.2,2200.0 1839.6,2200.0 1837.0,2200.0 1834.4,2200.0 1831.7,2200.0 1829.1,2200.0 1826.5,2200.0 1823.9,2200.0 1821.3,2200.0 1818.7,2200.0 1816.1,2200.0 1813.5,2200.0 1810.9,2200.0 1808.3,2200.0 1805.7,2200.0 1803.1,2200.0 1800.5,2200.0 1797.9,2200.0 1795.3,2200.0 1792.7,2200.0 1790.1,2200.0 1787.4,2200.0 1784.8,2200.0 1782.2,2200.0 1779.6,2200.0 1777.0,2200.0 1774.4,2200.0 1771.8,2200.0 1769.2,2200.0 1766.6,2200.0 1764.0,2200.0 1761.4,2200.0 1758.8,2200.0 1756.2,2200.0 1753.6,2200.0 1751.0,2200.0 1748.4,2200.0 1745.8,2200.0 1743.1,2200.0 1740.5,2200.0 1737.9,2200.0 1735.3,2200.0 1732.7,2200.0 1730.1,2200.0 1727.5,2200.0 1724.9,2200.0 1722.3,2200.0 1719.7,2200.0 1717.1,2200.0 1714.5,2200.0 1711.9,2200.0 1709.3,2200.0 1706.7,2200.0 1704.1,2200.0 1701.5,2200.0 1698.8,2200.0 1696.2,2200.0 1693.6,2200.0 1691.0,2200.0 1688.4,2200.0 1685.8,2200.0 1683.2,2200.0 1680.6,2200.0 1678.0,2200.0 1675.4,2200.0 1672.8,2200.0 1670.2,2200.0 1667.6,2200.0 1665.0,2200.0 1662.4,2200.0 1659.8,2200.0 1657.2,2200.0 1654.5,2200.0 1651.9,2200.0 1649.3,2200.0 1646.7,2200.0 1644.1,2200.0 1641.5,2200.0 1638.9,2200.0 1636.3,2200.0 1633.7,2200.0 1631.1,2200.0 1628.5,2200.0 1625.9,2200.0 1623.3,2200.0 1620.7,2200.0 1618.1,2200.0 1615.5,2200.0 1612.9,2200.0 1610.2,2200.0 1607.6,2200.0 1605.0,2200.0 1602.4,2200.0 1599.8,2200.0 1597.2,2200.0 1594.6,2200.0 1592.0,2200.0 1589.4,2200.0 1586.8,2200.0 1584.2,2200.0 1581.6,2200.0 1579.0,2200.0 1576.4,2200.0 1573.8,2200.0 1571.2,2200.0 1568.6,2200.0 1565.9,2200.0 1563.3,2200.0 1560.7,2200.0 1558.1,2200.0 1555.5,2200.0 1552.9,2200.0 1550.3,2200.0 1547.7,2200.0 1545.1,2200.0 1542.5,2200.0 1539.9,2200.0 1537.3,2200.0 1534.7,2200.0 1532.1,2200.0 1529.5,2200.0 1526.9,2200.0 1524.3,2200.0 1521.7,2200.0 1519.0,2200.0 1516.4,2200.0 1513.8,2200.0 1511.2,2200.0 1508.6,2200.0 1506.0,2200.0 1503.4,2200.0 1500.8,2200.0 1498.2,2200.0 1495.6,2200.0 1493.0,2200.0 1490.4,2200.0 1487.8,2200.0 1485.2,2200.0 1482.6,2200.0 1480.0,2200.0 1477.4,2200.0 1474.7,2200.0 1472.1,2200.0 1469.5,2200.0 1466.9,2200.0 1464.3,2200.0 1461.7,2200.0 1459.1,2200.0 1456.5,2200.0 1453.9,2200.0 1451.3,2200.0 1448.7,2200.0 1446.1,2200.0 1443.5,2200.0 1440.9,2200.0 1438.3,2200.0 1435.7,2200.0 1433.1,2200.0 1429.2,2162.0 1422.6,2042.0 1420.0,2044.2 1417.4,2046.3 1414.7,2047.7 1412.1,2049.1 1409.5,2050.6 1406.9,2052.0 1404.3,2053.4 1401.6,2054.2 1398.9,2053.9 1396.3,2053.5 1393.6,2053.1 1390.9,2052.8 1388.2,2052.4 1385.5,2052.0 1382.9,2052.4 1380.2,2052.9 1377.6,2053.5 1374.9,2054.1 1372.3,2054.7 1369.6,2055.3 1367.0,2055.8 1364.3,2056.2 1361.7,2056.8 1359.1,2057.4 1356.4,2058.0 1353.8,2058.6 1351.1,2059.2 1348.5,2059.8 1345.8,2060.4 1343.2,2061.0 1340.6,2061.4 1337.9,2061.7 1335.3,2062.1 1332.6,2062.4 1330.0,2064.2 1327.5,2066.3 1324.9,2068.5 1322.3,2070.1 1319.7,2071.3 1317.1,2072.5 1314.5,2073.8 1311.9,2075.1 1309.3,2076.3 1306.7,2077.6 1304.2,2078.9 1301.6,2080.2 1299.0,2081.2 1296.4,2083.1 1294.0,2087.3 1291.6,2091.5 1289.1,2095.6 1286.7,2099.8 1284.2,2102.6 1282.1,2111.4 1280.2,2124.5 1277.3,2120.2 1274.2,2111.6 1271.6,2112.6 1236.9,1570.9 1233.0,1554.0 1229.2,1538.7 1225.3,1522.5 1221.1,1500.3 1216.2,1468.7 1211.1,1433.1 1206.7,1409.2 1200.5,1357.4"/></clipPath>
<clipPath id="c6"><polygon points="858.0,1413.0 861.0,1414.0 875.0,1449.0 890.0,1479.0 900.0,1509.0 896.0,1539.0 894.5,1560.0 896.5,1591.0 894.0,1634.0 892.0,1652.0 885.0,1659.0 871.0,1675.0 857.0,1689.0 845.0,1702.0 840.0,1709.0 842.0,1692.0 845.0,1682.0 850.0,1674.0 863.5,1666.0 874.7,1653.0 881.0,1641.0 886.0,1622.0 889.6,1597.0 892.0,1572.0 892.0,1545.0 896.0,1510.0 886.0,1481.0 871.0,1451.0"/></clipPath>
<clipPath id="c7"><polygon points="755.5,1803.0 763.0,1788.0 778.0,1769.0 789.0,1758.0 820.0,1734.0 833.7,1719.0 844.8,1701.6 857.3,1689.2 870.9,1675.5 884.6,1659.4 892.0,1651.9 905.7,1644.5 907.6,1634.5 909.4,1630.8 915.7,1626.5 919.4,1624.6 925.6,1614.7 931.8,1606.0 939.3,1596.0 945.5,1587.3 949.2,1581.1 952.9,1575.5 957.9,1575.5 960.4,1578.6 961.6,1597.3 964.1,1615.9 966.0,1634.5 975.0,1760.0 894.0,1782.0 859.0,1809.0 829.0,1829.0 799.0,1849.0 782.0,1874.0 778.0,1885.0 766.7,1888.6"/></clipPath>
<clipPath id="c8"><polygon points="960.4,1578.6 956.6,1582.4 950.4,1587.3 946.7,1596.0 943.0,1604.7 939.3,1609.7 931.8,1612.2 928.0,1614.7 919.4,1624.6 909.4,1630.8 907.6,1634.5 905.7,1645.7 904.5,1661.9 899.5,1668.1 894.5,1672.4 887.1,1674.3 892.0,1730.0 975.0,1730.0 966.0,1634.5 964.1,1615.9 961.6,1597.3"/></clipPath>
<clipPath id="c9"><polygon points="887.1,1674.3 887.7,1686.7 890.8,1696.6 893.3,1711.6 895.8,1721.5 899.5,1725.2 907.0,1722.7 911.3,1715.3 911.9,1702.9 914.4,1690.4 919.4,1679.3 925.6,1669.3 934.3,1661.9 944.2,1654.4 950.4,1648.2 960.4,1643.2 967.8,1635.8 970.9,1629.6 970.9,1619.6 973.4,1614.7 974.7,1607.2 974.0,1583.6 981.5,1579.9 987.7,1577.4 988.9,1573.7 993.9,1568.7 996.4,1563.7 1000.0,1560.0 1031.0,1533.0 1035.0,1512.0 1058.0,1477.0 1061.5,1462.0 1060.0,1432.0 1062.8,1427.3 1076.4,1415.2 1079.5,1400.0 1082.5,1386.3 1081.8,1368.0 1084.0,1346.8 1090.0,1328.6 1100.7,1315.0 1112.9,1302.8 1120.5,1298.0 1125.8,1299.0 1150.0,1640.0 1106.4,1630.0 1100.7,1672.0 1085.5,1684.0 1082.6,1725.0 1067.7,1745.0 1052.8,1762.0 1023.0,1792.0 1010.6,1802.0 997.0,1804.0 995.6,1824.0 988.0,1846.6 968.0,1859.0 943.5,1874.0 933.5,1896.0 926.0,1912.0 916.0,1911.0"/></clipPath>
<clipPath id="c10"><polygon points="1125.8,1299.0 1122.0,1305.8 1112.9,1316.4 1106.8,1333.0 1105.3,1346.8 1109.9,1362.0 1114.4,1371.0 1110.6,1386.3 1112.9,1400.0 1115.2,1413.6 1138.0,1416.7"/></clipPath>
<clipPath id="c11"><polygon points="1115.2,1413.6 1106.8,1425.8 1099.2,1438.0 1094.7,1454.6 1096.2,1474.4 1103.8,1489.6 1115.9,1494.1 1122.8,1500.0 1129.0,1524.0 1134.9,1528.8 1142.5,1524.0 1148.0,1501.0 1150.1,1492.6 1148.6,1482.0 1143.3,1462.2 1138.0,1447.0 1136.4,1431.9 1138.0,1416.7"/></clipPath>
<clipPath id="c12"><polygon points="1202.5,1416.7 1205.5,1424.3 1208.6,1426.5 1216.2,1428.1 1225.3,1423.5 1228.3,1418.2 1226.0,1413.6 1216.2,1400.0 1211.6,1384.8 1207.0,1368.1 1201.0,1355.9 1199.5,1346.8 1200.0,1370.0 1201.0,1395.0"/></clipPath>
<clipPath id="c13"><polygon points="1094.7,1454.6 1096.2,1474.4 1103.8,1489.6 1115.9,1494.1 1122.8,1500.0 1129.0,1524.0 1134.9,1528.8 1142.5,1524.0 1148.0,1501.0 1150.1,1492.6 1148.6,1482.0 1143.3,1462.2 1138.0,1447.0 1136.4,1431.9 1138.0,1416.7 1143.3,1404.5 1149.3,1389.3 1149.3,1383.3 1153.1,1377.2 1153.1,1369.6 1156.2,1355.9 1161.5,1352.1 1168.3,1352.1 1170.6,1354.4 1169.1,1360.5 1164.5,1371.1 1166.0,1380.2 1172.1,1387.8 1181.2,1393.9 1194.9,1404.5 1202.5,1416.7 1205.5,1424.3 1208.6,1426.5 1216.2,1428.1 1225.3,1423.5 1228.3,1418.2 1230.4,1419.0 1256.4,1854.0 1245.0,1860.0 1233.5,1856.0 1226.0,1839.0 1203.0,1809.0 1190.0,1782.0 1186.0,1755.0 1182.0,1760.0 1176.6,1835.0 1174.7,1862.0 1171.0,1886.6 1161.4,1890.4 1153.9,1881.0 1138.7,1843.0 1119.7,1824.0"/></clipPath>
<clipPath id="c14"><polygon points="2192.8,918.0 2205.0,800.0 2216.6,628.4 2222.0,619.8 2232.0,611.0 2249.4,603.6 2266.8,599.9 2279.3,593.7 2309.0,579.0 2341.0,567.0 2358.0,553.0 2391.0,542.0 2413.0,542.0 2453.0,527.0 2482.0,511.0 2502.0,505.0 2508.0,498.0 2500.6,476.0 2504.0,465.0 2512.0,463.0 2527.0,457.0 2538.0,446.0 2543.0,448.0 2586.0,433.0 2612.0,425.5 2624.0,426.6 2661.0,418.0 2697.0,409.0 2704.0,407.4 2711.0,407.7 2725.0,412.0 2739.0,417.5 2742.0,420.3 2745.0,424.0 2748.0,429.0 2767.0,438.5 2773.0,436.7 2784.0,428.0 2789.5,428.0 2795.0,435.6 2810.0,431.0 2847.0,422.0 2884.5,407.0 2905.0,397.5 2940.0,377.0 2959.0,360.0 2966.5,356.0 2981.0,347.0 3004.0,327.0 3019.0,315.5 3034.0,311.0 3056.0,303.6 3065.0,298.0 3070.0,282.0 3071.0,267.0 3075.4,247.3 3073.0,275.0 3067.5,300.0 2842.0,1516.0 2795.0,1525.0 2773.0,1534.0 2735.0,1546.0 2691.0,1550.0 2661.0,1546.0 2624.0,1538.0 2612.0,1527.0 2601.0,1531.0 2586.0,1516.0 2583.0,1499.0 2555.0,1493.0 2561.5,1447.0 2512.0,1441.0 2486.0,1434.0 2460.0,1428.0 2421.0,1424.0 2421.0,1417.0 2402.0,1420.0 2400.0,1432.0 2380.0,1441.0 2320.0,1452.0 2302.0,1447.0 2268.0,1456.0 2238.0,1467.0 2180.0,1470.0"/></clipPath>
<clipPath id="c15"><polygon points="2214.5,660.0 2222.0,650.0 2229.0,658.8 2239.0,683.6 2246.5,701.0 2241.5,710.9 2226.6,720.9 2219.0,727.0 2204.5,918.0 2192.8,918.0 2205.0,800.0"/></clipPath>
<clipPath id="c16"><polygon points="2219.0,727.0 2229.0,735.8 2249.0,755.7 2264.5,780.0 2271.1,788.3 2279.4,800.7 2286.0,811.5 2290.1,823.1 2294.3,838.0 2295.5,846.3 2294.3,852.0 2291.0,856.2 2279.4,862.8 2262.8,871.9 2246.3,882.7 2238.0,890.1 2224.7,900.0 2212.7,906.8 2203.8,912.5"/></clipPath>
<clipPath id="c17"><polygon points="1228.3,1418.2 1226.0,1413.6 1216.2,1400.0 1211.6,1384.8 1207.0,1368.1 1201.0,1355.9 1199.5,1346.8 1199.5,1318.0 1204.0,1298.2 1210.0,1280.0 1214.0,1267.0 1225.0,1239.0 1226.0,1195.0 1234.0,1177.0 1251.0,1157.0 1269.0,1140.0 1277.0,1132.0 1299.0,1120.0 1324.0,1109.0 1347.0,1096.0 1369.0,1074.0 1384.0,1063.0 1392.7,1059.5 1392.7,1053.3 1393.9,1050.2 1396.6,1047.1 1404.3,1043.6 1416.0,1040.5 1427.6,1038.2 1439.3,1037.4 1448.6,1037.2 1458.4,1036.1 1468.3,1037.9 1480.7,1041.6 1498.0,1025.5 1513.0,1016.8 1530.4,1013.0 1540.4,1014.3 1546.0,1010.0 1560.0,999.0 1600.0,989.0 1622.0,973.0 1642.0,968.0 1662.0,961.0 1677.0,959.0 1704.0,960.0 1722.0,961.0 1840.0,959.0 1895.0,958.0 1947.0,964.0 1962.0,974.0 1998.2,984.8 1998.2,976.3 2000.8,975.1 2006.6,973.2 2018.2,972.4 2029.9,969.3 2041.5,964.3 2053.2,960.0 2088.0,948.0 2138.0,929.0 2183.0,923.0 2195.3,918.0 2212.7,906.8 2224.7,900.0 2238.0,890.1 2246.3,882.7 2262.8,871.9 2279.4,862.8 2291.0,856.2 2294.3,852.0 2295.5,846.3 2223.4,1627.4 2186.0,1644.0 2156.0,1653.0 2126.0,1665.0 2089.0,1666.0 2044.0,1680.0 2017.0,1687.0 2015.0,1712.0 1992.0,1719.0 1990.0,1741.0 1985.1,1744.7 1977.0,1739.0 1970.0,1709.0 1961.6,1703.0 1929.0,1689.0 1914.0,1678.0 1869.0,1666.0 1821.0,1661.0 1739.0,1652.0 1668.0,1643.0 1620.0,1653.0 1601.0,1663.0 1560.0,1666.0 1516.0,1684.0 1479.0,1691.0 1434.0,1691.0 1415.0,1680.0 1411.0,1639.0 1408.7,1587.0 1385.0,1602.0 1348.0,1616.0 1311.0,1628.0 1274.0,1654.0 1259.0,1676.0 1253.0,1703.0 1246.3,1712.0"/></clipPath>
<clipPath id="c18"><polygon points="1998.2,984.8 1998.2,976.3 2000.8,975.1 2006.6,973.2 2018.2,972.4 2029.9,969.3 2041.5,964.3 2053.2,960.0 2060.5,957.4 2063.2,956.3 2061.2,989.3 2058.6,989.5 2049.3,993.0 2041.5,994.9 2033.8,996.3 2027.9,996.1 2022.1,993.8 2014.3,989.9 2006.6,986.0 2000.4,983.3"/></clipPath>
<linearGradient id="lg" x1="0" y1="0" x2="0" y2="1"><stop offset="0" stop-color="#500000"/><stop offset="0.21" stop-color="#dc0000"/><stop offset="0.346" stop-color="#f0f000"/><stop offset="0.443" stop-color="#c8c878"/><stop offset="0.5" stop-color="#00c800"/><stop offset="0.556" stop-color="#78c8c8"/><stop offset="0.652" stop-color="#00f0f0"/><stop offset="0.79" stop-color="#0000dc"/><stop offset="1" stop-color="#000050"/></linearGradient>
</defs>
<g clip-path="url(#c1)">
<path d="M740.1 1700.2L745.9 1700.2L784.6 1984.3L779.2 1984.3z" fill="#f2f2dc"/>
<path d="M745.2 1700.2L750.9 1700.2L789.5 1984.3L784.0 1984.3z" fill="#f2f2dc"/>
<path d="M750.2 1700.2L755.9 1700.2L794.3 1984.3L788.8 1984.3z" fill="#f2f2dc"/>
<path d="M755.2 1700.2L761.0 1700.2L799.1 1984.3L793.6 1984.3z" fill="#f2f2dc"/>
<path d="M760.3 1700.2L766.0 1700.2L803.9 1984.3L798.4 1984.3z" fill="#f2f2dc"/>
<path d="M765.3 1700.2L771.0 1700.2L808.7 1984.3L803.2 1984.3z" fill="#f3f3d8"/>
<path d="M770.3 1700.2L776.1 1700.2L813.5 1984.3L808.0 1984.3z" fill="#f3f4d7"/>
<path d="M775.4 1700.2L781.1 1700.2L818.3 1984.3L812.8 1984.3z" fill="#f5f5d1"/>
<path d="M780.4 1700.2L786.1 1700.2L823.1 1984.3L817.6 1984.3z" fill="#f5f5d1"/>
<path d="M785.4 1700.2L791.2 1700.2L827.9 1984.3L822.5 1984.3z" fill="#f5f4d1"/>
<path d="M790.5 1700.2L796.2 1700.2L832.7 1984.3L827.3 1984.3z" fill="#f5efd1"/>
<path d="M795.5 1700.2L801.2 1700.2L837.6 1984.3L832.1 1984.3z" fill="#f5efd1"/>
<path d="M800.5 1700.2L806.2 1700.2L842.4 1984.3L836.9 1984.3z" fill="#f5efd1"/>
<path d="M805.5 1700.2L811.3 1700.2L847.2 1984.3L841.7 1984.3z" fill="#f5eed1"/>
<path d="M810.6 1700.2L816.3 1700.2L852.0 1984.3L846.5 1984.3z" fill="#f5eed1"/>
<path d="M815.6 1700.2L821.3 1700.2L856.8 1984.3L851.3 1984.3z" fill="#f5eed1"/>
<path d="M820.6 1700.2L826.4 1700.2L861.6 1984.3L856.1 1984.3z" fill="#f5ead1"/>
<path d="M825.7 1700.2L831.4 1700.2L866.4 1984.3L860.9 1984.3z" fill="#f5e9d1"/>
<path d="M830.7 1700.2L836.4 1700.2L871.2 1984.3L865.7 1984.3z" fill="#f5e9d1"/>
<path d="M835.7 1700.2L841.5 1700.2L876.0 1984.3L870.5 1984.3z" fill="#f5e9d1"/>
<path d="M840.8 1700.2L846.5 1700.2L880.8 1984.3L875.4 1984.3z" fill="#f5e9d1"/>
<path d="M845.8 1700.2L851.5 1700.2L885.6 1984.3L880.2 1984.3z" fill="#f5e9d1"/>
<path d="M850.8 1700.2L856.6 1700.2L890.5 1984.3L885.0 1984.3z" fill="#f5e9d1"/>
<path d="M855.9 1700.2L861.6 1700.2L895.3 1984.3L889.8 1984.3z" fill="#f5e9d1"/>
<path d="M860.9 1700.2L866.6 1700.2L900.1 1984.3L894.6 1984.3z" fill="#f5e9d1"/>
<path d="M865.9 1700.2L871.7 1700.2L904.9 1984.3L899.4 1984.3z" fill="#f5e9d1"/>
<path d="M870.9 1700.2L876.7 1700.2L909.7 1984.3L904.2 1984.3z" fill="#f5e9d1"/>
<path d="M876.0 1700.2L881.7 1700.2L914.5 1984.3L909.0 1984.3z" fill="#f5ead1"/>
<path d="M881.0 1700.2L886.7 1700.2L919.3 1984.3L913.8 1984.3z" fill="#f5ead1"/>
<path d="M886.0 1700.2L891.8 1700.2L924.1 1984.3L918.6 1984.3z" fill="#f5ead1"/>
<path d="M891.1 1700.2L896.8 1700.2L928.9 1984.3L923.4 1984.3z" fill="#f5ead1"/>
<path d="M896.1 1700.2L901.8 1700.2L933.7 1984.3L928.3 1984.3z" fill="#f5ead1"/>
<path d="M901.1 1700.2L906.9 1700.2L938.5 1984.3L933.1 1984.3z" fill="#f5ead1"/>
<path d="M906.2 1700.2L911.9 1700.2L943.4 1984.3L937.9 1984.3z" fill="#f5ead1"/>
<path d="M911.2 1700.2L916.9 1700.2L948.2 1984.3L942.7 1984.3z" fill="#f5ead1"/>
<path d="M916.2 1700.2L922.0 1700.2L953.0 1984.3L947.5 1984.3z" fill="#f5ead1"/>
<path d="M921.3 1700.2L927.0 1700.2L957.8 1984.3L952.3 1984.3z" fill="#f5ead1"/>
<path d="M926.3 1700.2L932.0 1700.2L962.6 1984.3L957.1 1984.3z" fill="#f5ead1"/>
<path d="M931.3 1700.2L937.1 1700.2L967.4 1984.3L961.9 1984.3z" fill="#f5ead1"/>
<path d="M936.4 1700.2L942.1 1700.2L972.2 1984.3L966.7 1984.3z" fill="#f5ead1"/>
<path d="M941.4 1700.2L947.1 1700.2L977.0 1984.3L971.5 1984.3z" fill="#f5ead1"/>
<path d="M946.4 1700.2L952.1 1700.2L981.8 1984.3L976.4 1984.3z" fill="#f4edd3"/>
<path d="M951.4 1700.2L957.2 1700.2L986.6 1984.3L981.2 1984.3z" fill="#f4edd3"/>
<path d="M956.5 1700.2L962.2 1700.2L991.5 1984.3L986.0 1984.3z" fill="#f2f2d5"/>
<path d="M961.5 1700.2L967.2 1700.2L996.3 1984.3L990.8 1984.3z" fill="#f2f2d5"/>
<path d="M966.5 1700.2L972.3 1700.2L1001.1 1984.3L995.6 1984.3z" fill="#f2f2d5"/>
</g>
<g clip-path="url(#c2)">
<path d="M880.0 1625.2L885.8 1625.2L939.5 2099.0L934.1 2099.0z" fill="#f2f2d5"/>
<path d="M885.1 1625.2L890.9 1625.2L944.2 2099.0L938.9 2099.0z" fill="#f2f2d5"/>
<path d="M890.1 1625.2L895.9 1625.2L949.0 2099.0L943.6 2099.0z" fill="#f5f5d1"/>
<path d="M895.2 1625.2L901.0 1625.2L953.7 2099.0L948.3 2099.0z" fill="#f5f5d1"/>
<path d="M900.3 1625.2L906.1 1625.2L958.4 2099.0L953.0 2099.0z" fill="#f1edd4"/>
<path d="M905.4 1625.2L911.2 1625.2L963.1 2099.0L957.7 2099.0z" fill="#f1edd4"/>
<path d="M910.5 1625.2L916.3 1625.2L967.8 2099.0L962.5 2099.0z" fill="#f5ebd1"/>
<path d="M915.6 1625.2L921.4 1625.2L972.6 2099.0L967.2 2099.0z" fill="#f5ebd1"/>
<path d="M920.7 1625.2L926.5 1625.2L977.3 2099.0L971.9 2099.0z" fill="#f5ebd1"/>
<path d="M925.8 1625.2L931.6 1625.2L982.0 2099.0L976.6 2099.0z" fill="#f5ebd1"/>
<path d="M930.9 1625.2L936.7 1625.2L986.7 2099.0L981.3 2099.0z" fill="#f5ebd1"/>
<path d="M935.9 1625.2L941.8 1625.2L991.4 2099.0L986.1 2099.0z" fill="#f5ebd1"/>
<path d="M941.0 1625.2L946.8 1625.2L996.2 2099.0L990.8 2099.0z" fill="#f5ebd1"/>
<path d="M946.1 1625.2L951.9 1625.2L1000.9 2099.0L995.5 2099.0z" fill="#f5ebd1"/>
<path d="M951.2 1625.2L957.0 1625.2L1005.6 2099.0L1000.2 2099.0z" fill="#f5ebd1"/>
<path d="M956.3 1625.2L962.1 1625.2L1010.3 2099.0L1004.9 2099.0z" fill="#f5ebd1"/>
<path d="M961.4 1625.2L967.2 1625.2L1015.0 2099.0L1009.7 2099.0z" fill="#f5ebd1"/>
<path d="M966.5 1625.2L972.3 1625.2L1019.8 2099.0L1014.4 2099.0z" fill="#f2ecd1"/>
<path d="M971.6 1625.2L977.4 1625.2L1024.5 2099.0L1019.1 2099.0z" fill="#f2ecd1"/>
<path d="M976.7 1625.2L982.5 1625.2L1029.2 2099.0L1023.8 2099.0z" fill="#f6e1d1"/>
<path d="M981.8 1625.2L987.6 1625.2L1033.9 2099.0L1028.5 2099.0z" fill="#f6e1d1"/>
<path d="M986.8 1625.2L992.6 1625.2L1038.6 2099.0L1033.3 2099.0z" fill="#f6e1d1"/>
<path d="M991.9 1625.2L997.7 1625.2L1043.4 2099.0L1038.0 2099.0z" fill="#f5e5d1"/>
<path d="M997.0 1625.2L1002.8 1625.2L1048.1 2099.0L1042.7 2099.0z" fill="#f5e5d1"/>
<path d="M1002.1 1625.2L1007.9 1625.2L1052.8 2099.0L1047.4 2099.0z" fill="#f5e5d1"/>
<path d="M1007.2 1625.2L1013.0 1625.2L1057.5 2099.0L1052.1 2099.0z" fill="#f5e5d1"/>
<path d="M1012.3 1625.2L1018.1 1625.2L1062.2 2099.0L1056.9 2099.0z" fill="#f5e5d1"/>
<path d="M1017.4 1625.2L1023.2 1625.2L1067.0 2099.0L1061.6 2099.0z" fill="#f5e5d1"/>
<path d="M1022.5 1625.2L1028.3 1625.2L1071.7 2099.0L1066.3 2099.0z" fill="#f5e5d1"/>
<path d="M1027.6 1625.2L1033.4 1625.2L1076.4 2099.0L1071.0 2099.0z" fill="#f5ead1"/>
<path d="M1032.7 1625.2L1038.5 1625.2L1081.1 2099.0L1075.7 2099.0z" fill="#f5ead1"/>
<path d="M1037.7 1625.2L1043.5 1625.2L1085.8 2099.0L1080.5 2099.0z" fill="#f5ead1"/>
<path d="M1042.8 1625.2L1048.6 1625.2L1090.6 2099.0L1085.2 2099.0z" fill="#f5ead1"/>
<path d="M1047.9 1625.2L1053.7 1625.2L1095.3 2099.0L1089.9 2099.0z" fill="#f5ead1"/>
<path d="M1053.0 1625.2L1058.8 1625.2L1100.0 2099.0L1094.6 2099.0z" fill="#f5ead1"/>
<path d="M1058.1 1625.2L1063.9 1625.2L1104.7 2099.0L1099.3 2099.0z" fill="#f5ead1"/>
<path d="M1063.2 1625.2L1069.0 1625.2L1109.4 2099.0L1104.1 2099.0z" fill="#f5ead1"/>
<path d="M1068.3 1625.2L1074.1 1625.2L1114.2 2099.0L1108.8 2099.0z" fill="#f5ead1"/>
<path d="M1073.4 1625.2L1079.2 1625.2L1118.9 2099.0L1113.5 2099.0z" fill="#f3f0d6"/>
<path d="M1078.5 1625.2L1084.3 1625.2L1123.6 2099.0L1118.2 2099.0z" fill="#f2f2d8"/>
<path d="M1083.5 1625.2L1089.3 1625.2L1128.3 2099.0L1122.9 2099.0z" fill="#f2f2d8"/>
<path d="M1088.6 1625.2L1094.4 1625.2L1133.0 2099.0L1127.7 2099.0z" fill="#f3f3d9"/>
<path d="M1093.7 1625.2L1099.5 1625.2L1137.8 2099.0L1132.4 2099.0z" fill="#f3f3d9"/>
<path d="M1098.8 1625.2L1104.6 1625.2L1142.5 2099.0L1137.1 2099.0z" fill="#f3f3d9"/>
<path d="M1103.9 1625.2L1109.7 1625.2L1147.2 2099.0L1141.8 2099.0z" fill="#f3f3d9"/>
<path d="M1109.0 1625.2L1114.8 1625.2L1151.9 2099.0L1146.5 2099.0z" fill="#f3f3d9"/>
<path d="M1114.1 1625.2L1119.9 1625.2L1156.6 2099.0L1151.3 2099.0z" fill="#f3f3d9"/>
<path d="M1119.2 1625.2L1125.0 1625.2L1161.4 2099.0L1156.0 2099.0z" fill="#f3f3d9"/>
<path d="M1124.3 1625.2L1130.1 1625.2L1166.1 2099.0L1160.7 2099.0z" fill="#f3f3d9"/>
<path d="M1129.4 1625.2L1135.2 1625.2L1170.8 2099.0L1165.4 2099.0z" fill="#f3f3d9"/>
<path d="M1134.4 1625.2L1140.2 1625.2L1175.5 2099.0L1170.1 2099.0z" fill="#f5ebd1"/>
<path d="M1139.5 1625.2L1145.3 1625.2L1180.2 2099.0L1174.9 2099.0z" fill="#f5ebd1"/>
<path d="M1144.6 1625.2L1150.4 1625.2L1185.0 2099.0L1179.6 2099.0z" fill="#f5ebd1"/>
</g>
<g clip-path="url(#c3)">
<path d="M1113.3 1753.1L1119.0 1753.1L1154.8 2204.0L1149.5 2204.0z" fill="#e9e5d1"/>
<path d="M1118.3 1753.1L1124.0 1753.1L1159.4 2204.0L1154.1 2204.0z" fill="#e9e5d1"/>
<path d="M1123.3 1753.1L1129.0 1753.1L1164.0 2204.0L1158.7 2204.0z" fill="#e9e5d1"/>
<path d="M1128.3 1753.1L1134.0 1753.1L1168.7 2204.0L1163.4 2204.0z" fill="#e9e5d1"/>
<path d="M1133.3 1753.1L1139.0 1753.1L1173.3 2204.0L1168.0 2204.0z" fill="#e9e5d1"/>
<path d="M1138.3 1753.1L1144.0 1753.1L1177.9 2204.0L1172.7 2204.0z" fill="#e9e5d1"/>
<path d="M1143.3 1753.1L1149.0 1753.1L1182.6 2204.0L1177.3 2204.0z" fill="#f2f2d5"/>
<path d="M1148.3 1753.1L1153.9 1753.1L1187.2 2204.0L1181.9 2204.0z" fill="#f2f2d5"/>
<path d="M1153.2 1753.1L1158.9 1753.1L1191.9 2204.0L1186.6 2204.0z" fill="#f2f2d5"/>
<path d="M1158.2 1753.1L1163.9 1753.1L1196.5 2204.0L1191.2 2204.0z" fill="#f3eed3"/>
<path d="M1163.2 1753.1L1168.9 1753.1L1201.1 2204.0L1195.8 2204.0z" fill="#f5e9d1"/>
<path d="M1168.2 1753.1L1173.9 1753.1L1205.8 2204.0L1200.5 2204.0z" fill="#f5e9d1"/>
<path d="M1173.2 1753.1L1178.9 1753.1L1210.4 2204.0L1205.1 2204.0z" fill="#f5ead1"/>
<path d="M1178.2 1753.1L1183.9 1753.1L1215.0 2204.0L1209.8 2204.0z" fill="#f5f5d1"/>
<path d="M1183.2 1753.1L1188.9 1753.1L1219.7 2204.0L1214.4 2204.0z" fill="#f5f5d1"/>
<path d="M1188.2 1753.1L1193.9 1753.1L1224.3 2204.0L1219.0 2204.0z" fill="#ebe8d1"/>
<path d="M1193.2 1753.1L1198.9 1753.1L1229.0 2204.0L1223.7 2204.0z" fill="#e8e4d1"/>
<path d="M1198.2 1753.1L1203.8 1753.1L1233.6 2204.0L1228.3 2204.0z" fill="#e8e4d1"/>
<path d="M1203.1 1753.1L1208.8 1753.1L1238.2 2204.0L1232.9 2204.0z" fill="#e8e4d1"/>
<path d="M1208.1 1753.1L1213.8 1753.1L1242.9 2204.0L1237.6 2204.0z" fill="#e8e4d1"/>
<path d="M1213.1 1753.1L1218.8 1753.1L1247.5 2204.0L1242.2 2204.0z" fill="#e8e4d1"/>
<path d="M1218.1 1753.1L1223.8 1753.1L1252.2 2204.0L1246.9 2204.0z" fill="#e8e4d1"/>
<path d="M1223.1 1753.1L1228.8 1753.1L1256.8 2204.0L1251.5 2204.0z" fill="#f2f1d1"/>
<path d="M1228.1 1753.1L1233.8 1753.1L1261.4 2204.0L1256.1 2204.0z" fill="#f5f5d1"/>
<path d="M1233.1 1753.1L1238.8 1753.1L1266.1 2204.0L1260.8 2204.0z" fill="#f5f5d1"/>
<path d="M1238.1 1753.1L1243.8 1753.1L1270.7 2204.0L1265.4 2204.0z" fill="#f5f5d1"/>
<path d="M1243.1 1753.1L1248.7 1753.1L1275.3 2204.0L1270.1 2204.0z" fill="#f5f5d1"/>
<path d="M1248.1 1753.1L1253.7 1753.1L1280.0 2204.0L1274.7 2204.0z" fill="#efefd1"/>
</g>
<g clip-path="url(#c4)">
<path d="M2207.7 718.4L2213.9 718.4L2096.4 2204.0L2091.4 2204.0z" fill="#f5d1d1"/>
<path d="M2213.1 718.4L2219.3 718.4L2100.7 2204.0L2095.7 2204.0z" fill="#f5d1d1"/>
<path d="M2218.5 718.4L2224.7 718.4L2105.0 2204.0L2100.1 2204.0z" fill="#f5d1d1"/>
<path d="M2224.0 718.4L2230.1 718.4L2109.4 2204.0L2104.4 2204.0z" fill="#f5d1d1"/>
<path d="M2229.4 718.4L2235.6 718.4L2113.7 2204.0L2108.8 2204.0z" fill="#f5d1d1"/>
<path d="M2234.8 718.4L2241.0 718.4L2118.1 2204.0L2113.1 2204.0z" fill="#f5d1d1"/>
<path d="M2240.2 718.4L2246.4 718.4L2122.4 2204.0L2117.4 2204.0z" fill="#f5d7d1"/>
<path d="M2245.7 718.4L2251.8 718.4L2126.7 2204.0L2121.8 2204.0z" fill="#f4d9d1"/>
<path d="M2251.1 718.4L2257.3 718.4L2131.1 2204.0L2126.1 2204.0z" fill="#f4d9d1"/>
<path d="M2256.5 718.4L2262.7 718.4L2135.4 2204.0L2130.5 2204.0z" fill="#f5ded1"/>
<path d="M2261.9 718.4L2268.1 718.4L2139.8 2204.0L2134.8 2204.0z" fill="#f5ded1"/>
<path d="M2267.4 718.4L2273.5 718.4L2144.1 2204.0L2139.1 2204.0z" fill="#f5ded1"/>
<path d="M2272.8 718.4L2279.0 718.4L2148.4 2204.0L2143.5 2204.0z" fill="#f5ded1"/>
<path d="M2278.2 718.4L2284.4 718.4L2152.8 2204.0L2147.8 2204.0z" fill="#f5ded1"/>
<path d="M2283.6 718.4L2289.8 718.4L2157.1 2204.0L2152.2 2204.0z" fill="#f5e5d1"/>
<path d="M2289.1 718.4L2295.2 718.4L2161.5 2204.0L2156.5 2204.0z" fill="#f5e5d1"/>
<path d="M2294.5 718.4L2300.7 718.4L2165.8 2204.0L2160.8 2204.0z" fill="#f5e5d1"/>
<path d="M2299.9 718.4L2306.1 718.4L2170.1 2204.0L2165.2 2204.0z" fill="#f5ecd1"/>
<path d="M2305.3 718.4L2311.5 718.4L2174.5 2204.0L2169.5 2204.0z" fill="#f5f0d1"/>
<path d="M2310.7 718.4L2316.9 718.4L2178.8 2204.0L2173.9 2204.0z" fill="#f5f3d2"/>
<path d="M2316.2 718.4L2322.4 718.4L2183.2 2204.0L2178.2 2204.0z" fill="#f5f5d3"/>
<path d="M2321.6 718.4L2327.8 718.4L2187.5 2204.0L2182.5 2204.0z" fill="#f5f5d3"/>
<path d="M2327.0 718.4L2333.2 718.4L2191.8 2204.0L2186.9 2204.0z" fill="#f5f5d3"/>
<path d="M2332.4 718.4L2338.6 718.4L2196.2 2204.0L2191.2 2204.0z" fill="#f5f5d3"/>
<path d="M2337.9 718.4L2344.1 718.4L2200.5 2204.0L2195.6 2204.0z" fill="#f5f5d3"/>
<path d="M2343.3 718.4L2349.5 718.4L2204.9 2204.0L2199.9 2204.0z" fill="#f5f5d3"/>
<path d="M2348.7 718.4L2354.9 718.4L2209.2 2204.0L2204.2 2204.0z" fill="#f5f5d3"/>
<path d="M2354.1 718.4L2360.3 718.4L2213.5 2204.0L2208.6 2204.0z" fill="#f5f5d3"/>
<path d="M2359.6 718.4L2365.8 718.4L2217.9 2204.0L2212.9 2204.0z" fill="#f4f2d1"/>
<path d="M2365.0 718.4L2371.2 718.4L2222.2 2204.0L2217.3 2204.0z" fill="#f4f2d1"/>
<path d="M2370.4 718.4L2376.6 718.4L2226.6 2204.0L2221.6 2204.0z" fill="#f4f2d1"/>
<path d="M2375.8 718.4L2382.0 718.4L2230.9 2204.0L2225.9 2204.0z" fill="#eeead1"/>
<path d="M2381.3 718.4L2387.5 718.4L2235.2 2204.0L2230.3 2204.0z" fill="#eeead1"/>
<path d="M2386.7 718.4L2392.9 718.4L2239.6 2204.0L2234.6 2204.0z" fill="#eeead1"/>
<path d="M2392.1 718.4L2398.3 718.4L2243.9 2204.0L2239.0 2204.0z" fill="#f4edd1"/>
<path d="M2397.5 718.4L2403.7 718.4L2248.3 2204.0L2243.3 2204.0z" fill="#f4edd1"/>
<path d="M2403.0 718.4L2409.1 718.4L2252.6 2204.0L2247.6 2204.0z" fill="#f4edd1"/>
<path d="M2408.4 718.4L2414.6 718.4L2256.9 2204.0L2252.0 2204.0z" fill="#f4edd1"/>
<path d="M2413.8 718.4L2420.0 718.4L2261.3 2204.0L2256.3 2204.0z" fill="#f5e8d1"/>
<path d="M2419.2 718.4L2425.4 718.4L2265.6 2204.0L2260.7 2204.0z" fill="#f5e8d1"/>
<path d="M2424.7 718.4L2430.8 718.4L2270.0 2204.0L2265.0 2204.0z" fill="#f5e8d1"/>
<path d="M2430.1 718.4L2436.3 718.4L2274.3 2204.0L2269.3 2204.0z" fill="#f5e8d1"/>
<path d="M2435.5 718.4L2441.7 718.4L2278.6 2204.0L2273.7 2204.0z" fill="#f5e8d1"/>
<path d="M2440.9 718.4L2447.1 718.4L2283.0 2204.0L2278.0 2204.0z" fill="#f5e3d1"/>
<path d="M2446.4 718.4L2452.5 718.4L2287.3 2204.0L2282.4 2204.0z" fill="#f5e3d1"/>
<path d="M2451.8 718.4L2458.0 718.4L2291.7 2204.0L2286.7 2204.0z" fill="#f5e3d1"/>
<path d="M2457.2 718.4L2463.4 718.4L2296.0 2204.0L2291.1 2204.0z" fill="#f5e3d1"/>
<path d="M2462.6 718.4L2468.8 718.4L2300.3 2204.0L2295.4 2204.0z" fill="#f4ded1"/>
<path d="M2468.1 718.4L2474.2 718.4L2304.7 2204.0L2299.7 2204.0z" fill="#f4ddd1"/>
<path d="M2473.5 718.4L2479.7 718.4L2309.0 2204.0L2304.1 2204.0z" fill="#f4ddd1"/>
<path d="M2478.9 718.4L2485.1 718.4L2313.4 2204.0L2308.4 2204.0z" fill="#f4dcd1"/>
<path d="M2484.3 718.4L2490.5 718.4L2317.7 2204.0L2312.8 2204.0z" fill="#f5d8d1"/>
<path d="M2489.8 718.4L2495.9 718.4L2322.0 2204.0L2317.1 2204.0z" fill="#f5d8d1"/>
<path d="M2495.2 718.4L2501.4 718.4L2326.4 2204.0L2321.4 2204.0z" fill="#f5d1d1"/>
<path d="M2500.6 718.4L2506.8 718.4L2330.7 2204.0L2325.8 2204.0z" fill="#f2d1d1"/>
<path d="M2506.0 718.4L2512.2 718.4L2335.1 2204.0L2330.1 2204.0z" fill="#f2d1d1"/>
<path d="M2511.5 718.4L2517.6 718.4L2339.4 2204.0L2334.5 2204.0z" fill="#f2d1d1"/>
<path d="M2516.9 718.4L2523.1 718.4L2343.7 2204.0L2338.8 2204.0z" fill="#f2d1d1"/>
<path d="M2522.3 718.4L2528.5 718.4L2348.1 2204.0L2343.1 2204.0z" fill="#f2d1d1"/>
<path d="M2527.7 718.4L2533.9 718.4L2352.4 2204.0L2347.5 2204.0z" fill="#f2d1d1"/>
<path d="M2533.2 718.4L2539.3 718.4L2356.8 2204.0L2351.8 2204.0z" fill="#f2d1d1"/>
<path d="M2538.6 718.4L2544.8 718.4L2361.1 2204.0L2356.2 2204.0z" fill="#f2d1d1"/>
<path d="M2544.0 718.4L2550.2 718.4L2365.4 2204.0L2360.5 2204.0z" fill="#f1d1d1"/>
<path d="M2549.4 718.4L2555.6 718.4L2369.8 2204.0L2364.8 2204.0z" fill="#f0d1d1"/>
<path d="M2554.9 718.4L2561.0 718.4L2374.1 2204.0L2369.2 2204.0z" fill="#f0d1d1"/>
<path d="M2560.3 718.4L2566.5 718.4L2378.5 2204.0L2373.5 2204.0z" fill="#f0d1d1"/>
<path d="M2565.7 718.4L2571.9 718.4L2382.8 2204.0L2377.9 2204.0z" fill="#f0d1d1"/>
<path d="M2571.1 718.4L2577.3 718.4L2387.1 2204.0L2382.2 2204.0z" fill="#f0d1d1"/>
<path d="M2576.5 718.4L2582.7 718.4L2391.5 2204.0L2386.5 2204.0z" fill="#f1d1d1"/>
<path d="M2582.0 718.4L2588.2 718.4L2395.8 2204.0L2390.9 2204.0z" fill="#f2d1d1"/>
<path d="M2587.4 718.4L2593.6 718.4L2400.2 2204.0L2395.2 2204.0z" fill="#f2d1d1"/>
<path d="M2592.8 718.4L2599.0 718.4L2404.5 2204.0L2399.6 2204.0z" fill="#f2d1d1"/>
<path d="M2598.2 718.4L2604.4 718.4L2408.8 2204.0L2403.9 2204.0z" fill="#f2d1d1"/>
<path d="M2603.7 718.4L2609.9 718.4L2413.2 2204.0L2408.2 2204.0z" fill="#f2d1d1"/>
<path d="M2609.1 718.4L2615.3 718.4L2417.5 2204.0L2412.6 2204.0z" fill="#f2d1d1"/>
<path d="M2614.5 718.4L2620.7 718.4L2421.9 2204.0L2416.9 2204.0z" fill="#f2d1d1"/>
<path d="M2619.9 718.4L2626.1 718.4L2426.2 2204.0L2421.3 2204.0z" fill="#f2d1d1"/>
<path d="M2625.4 718.4L2631.6 718.4L2430.5 2204.0L2425.6 2204.0z" fill="#f3d7d1"/>
<path d="M2630.8 718.4L2637.0 718.4L2434.9 2204.0L2429.9 2204.0z" fill="#f4d9d1"/>
<path d="M2636.2 718.4L2642.4 718.4L2439.2 2204.0L2434.3 2204.0z" fill="#f4d9d1"/>
<path d="M2641.6 718.4L2647.8 718.4L2443.6 2204.0L2438.6 2204.0z" fill="#f4d9d1"/>
<path d="M2647.1 718.4L2653.3 718.4L2447.9 2204.0L2443.0 2204.0z" fill="#f4dad1"/>
<path d="M2652.5 718.4L2658.7 718.4L2452.2 2204.0L2447.3 2204.0z" fill="#f1e7d3"/>
<path d="M2657.9 718.4L2664.1 718.4L2456.6 2204.0L2451.6 2204.0z" fill="#f1e6d3"/>
<path d="M2663.3 718.4L2669.5 718.4L2460.9 2204.0L2456.0 2204.0z" fill="#eee2d3"/>
<path d="M2668.8 718.4L2675.0 718.4L2465.3 2204.0L2460.3 2204.0z" fill="#f2dcd2"/>
<path d="M2674.2 718.4L2680.4 718.4L2469.6 2204.0L2464.7 2204.0z" fill="#f3dad1"/>
<path d="M2679.6 718.4L2685.8 718.4L2473.9 2204.0L2469.0 2204.0z" fill="#f3dad1"/>
<path d="M2685.0 718.4L2691.2 718.4L2478.3 2204.0L2473.3 2204.0z" fill="#f3dad1"/>
<path d="M2690.5 718.4L2696.6 718.4L2482.6 2204.0L2477.7 2204.0z" fill="#f3dad1"/>
<path d="M2695.9 718.4L2702.1 718.4L2487.0 2204.0L2482.0 2204.0z" fill="#ebdcd1"/>
<path d="M2701.3 718.4L2707.5 718.4L2491.3 2204.0L2486.4 2204.0z" fill="#eaddd1"/>
<path d="M2706.7 718.4L2712.9 718.4L2495.6 2204.0L2490.7 2204.0z" fill="#eaddd1"/>
<path d="M2712.2 718.4L2718.3 718.4L2500.0 2204.0L2495.0 2204.0z" fill="#eaddd1"/>
<path d="M2717.6 718.4L2723.8 718.4L2504.3 2204.0L2499.4 2204.0z" fill="#eaddd1"/>
<path d="M2723.0 718.4L2729.2 718.4L2508.7 2204.0L2503.7 2204.0z" fill="#f3ded1"/>
<path d="M2728.4 718.4L2734.6 718.4L2513.0 2204.0L2508.1 2204.0z" fill="#f4ded1"/>
<path d="M2733.9 718.4L2740.0 718.4L2517.3 2204.0L2512.4 2204.0z" fill="#f4ded1"/>
<path d="M2739.3 718.4L2745.5 718.4L2521.7 2204.0L2516.7 2204.0z" fill="#eadcd3"/>
<path d="M2744.7 718.4L2750.9 718.4L2526.0 2204.0L2521.1 2204.0z" fill="#f4d2d1"/>
<path d="M2750.1 718.4L2756.3 718.4L2530.4 2204.0L2525.4 2204.0z" fill="#f4d2d1"/>
<path d="M2755.6 718.4L2761.7 718.4L2534.7 2204.0L2529.8 2204.0z" fill="#f4d2d1"/>
<path d="M2761.0 718.4L2767.2 718.4L2539.0 2204.0L2534.1 2204.0z" fill="#f1d1d1"/>
<path d="M2766.4 718.4L2772.6 718.4L2543.4 2204.0L2538.4 2204.0z" fill="#f1d1d1"/>
<path d="M2771.8 718.4L2778.0 718.4L2547.7 2204.0L2542.8 2204.0z" fill="#f1d1d1"/>
<path d="M2777.3 718.4L2783.4 718.4L2552.1 2204.0L2547.1 2204.0z" fill="#f1d1d1"/>
<path d="M2782.7 718.4L2788.9 718.4L2556.4 2204.0L2551.5 2204.0z" fill="#f1d1d1"/>
<path d="M2788.1 718.4L2794.3 718.4L2560.7 2204.0L2555.8 2204.0z" fill="#efd1d1"/>
<path d="M2793.5 718.4L2799.7 718.4L2565.1 2204.0L2560.1 2204.0z" fill="#efd1d1"/>
<path d="M2799.0 718.4L2805.1 718.4L2569.4 2204.0L2564.5 2204.0z" fill="#efd1d1"/>
<path d="M2804.4 718.4L2810.6 718.4L2573.8 2204.0L2568.8 2204.0z" fill="#efd1d1"/>
<path d="M2809.8 718.4L2816.0 718.4L2578.1 2204.0L2573.2 2204.0z" fill="#efd1d1"/>
<path d="M2815.2 718.4L2821.4 718.4L2582.4 2204.0L2577.5 2204.0z" fill="#efd1d1"/>
<path d="M2820.7 718.4L2826.8 718.4L2586.8 2204.0L2581.8 2204.0z" fill="#efd1d1"/>
<path d="M2826.1 718.4L2832.3 718.4L2591.1 2204.0L2586.2 2204.0z" fill="#efd1d1"/>
<path d="M2831.5 718.4L2837.7 718.4L2595.5 2204.0L2590.5 2204.0z" fill="#efd1d1"/>
<path d="M2836.9 718.4L2843.1 718.4L2599.8 2204.0L2594.9 2204.0z" fill="#efd1d1"/>
<path d="M2842.4 718.4L2848.5 718.4L2604.1 2204.0L2599.2 2204.0z" fill="#f0d1d1"/>
<path d="M2847.8 718.4L2854.0 718.4L2608.5 2204.0L2603.5 2204.0z" fill="#f0d1d1"/>
<path d="M2853.2 718.4L2859.4 718.4L2612.8 2204.0L2607.9 2204.0z" fill="#f0d1d1"/>
<path d="M2858.6 718.4L2864.8 718.4L2617.2 2204.0L2612.2 2204.0z" fill="#f0d1d1"/>
<path d="M2864.0 718.4L2870.2 718.4L2621.5 2204.0L2616.6 2204.0z" fill="#f0d1d1"/>
<path d="M2869.5 718.4L2875.7 718.4L2625.8 2204.0L2620.9 2204.0z" fill="#f0d1d1"/>
<path d="M2874.9 718.4L2881.1 718.4L2630.2 2204.0L2625.2 2204.0z" fill="#f0d1d1"/>
<path d="M2880.3 718.4L2886.5 718.4L2634.5 2204.0L2629.6 2204.0z" fill="#f0d1d1"/>
<path d="M2885.7 718.4L2891.9 718.4L2638.9 2204.0L2633.9 2204.0z" fill="#f0d1d1"/>
<path d="M2891.2 718.4L2897.4 718.4L2643.2 2204.0L2638.3 2204.0z" fill="#f0d1d1"/>
<path d="M2896.6 718.4L2902.8 718.4L2647.5 2204.0L2642.6 2204.0z" fill="#f3d1d1"/>
<path d="M2902.0 718.4L2908.2 718.4L2651.9 2204.0L2646.9 2204.0z" fill="#f3d1d1"/>
<path d="M2907.4 718.4L2913.6 718.4L2656.2 2204.0L2651.3 2204.0z" fill="#f3d1d1"/>
<path d="M2912.9 718.4L2919.1 718.4L2660.6 2204.0L2655.6 2204.0z" fill="#f3d1d1"/>
<path d="M2918.3 718.4L2924.5 718.4L2664.9 2204.0L2660.0 2204.0z" fill="#f3d1d1"/>
<path d="M2923.7 718.4L2929.9 718.4L2669.3 2204.0L2664.3 2204.0z" fill="#f4d5d1"/>
<path d="M2929.1 718.4L2935.3 718.4L2673.6 2204.0L2668.6 2204.0z" fill="#f4d5d1"/>
<path d="M2934.6 718.4L2940.8 718.4L2677.9 2204.0L2673.0 2204.0z" fill="#f4d7d1"/>
<path d="M2940.0 718.4L2946.2 718.4L2682.3 2204.0L2677.3 2204.0z" fill="#f4dcd1"/>
<path d="M2945.4 718.4L2951.6 718.4L2686.6 2204.0L2681.7 2204.0z" fill="#f4dfd1"/>
<path d="M2950.8 718.4L2957.0 718.4L2691.0 2204.0L2686.0 2204.0z" fill="#f4e5d1"/>
<path d="M2956.3 718.4L2962.4 718.4L2695.3 2204.0L2690.3 2204.0z" fill="#f4e5d1"/>
<path d="M2961.7 718.4L2967.9 718.4L2699.6 2204.0L2694.7 2204.0z" fill="#f4e8d1"/>
<path d="M2967.1 718.4L2973.3 718.4L2704.0 2204.0L2699.0 2204.0z" fill="#f4e8d1"/>
<path d="M2972.5 718.4L2978.7 718.4L2708.3 2204.0L2703.4 2204.0z" fill="#f4e8d1"/>
<path d="M2978.0 718.4L2984.1 718.4L2712.7 2204.0L2707.7 2204.0z" fill="#f4ebd1"/>
<path d="M2983.4 718.4L2989.6 718.4L2717.0 2204.0L2712.0 2204.0z" fill="#f4ebd1"/>
<path d="M2988.8 718.4L2995.0 718.4L2721.3 2204.0L2716.4 2204.0z" fill="#f4ebd1"/>
</g>
<g clip-path="url(#c5)">
<path d="M1198.7 1344.7L1204.3 1344.7L1257.6 2204.0L1252.6 2204.0z" fill="#f4f4d8"/>
<path d="M1203.6 1344.7L1209.3 1344.7L1261.9 2204.0L1257.0 2204.0z" fill="#f4f4d8"/>
<path d="M1208.6 1344.7L1214.3 1344.7L1266.3 2204.0L1261.3 2204.0z" fill="#f4f4d8"/>
<path d="M1213.6 1344.7L1219.2 1344.7L1270.6 2204.0L1265.7 2204.0z" fill="#f4f4d8"/>
<path d="M1218.5 1344.7L1224.2 1344.7L1274.9 2204.0L1270.0 2204.0z" fill="#f4f4d8"/>
<path d="M1223.5 1344.7L1229.2 1344.7L1279.3 2204.0L1274.3 2204.0z" fill="#f4f4d8"/>
<path d="M1228.5 1344.7L1234.1 1344.7L1283.6 2204.0L1278.7 2204.0z" fill="#f4f4d8"/>
<path d="M1233.4 1344.7L1239.1 1344.7L1288.0 2204.0L1283.0 2204.0z" fill="#f4f4d8"/>
<path d="M1238.4 1344.7L1244.1 1344.7L1292.3 2204.0L1287.4 2204.0z" fill="#f4f4d8"/>
<path d="M1243.4 1344.7L1249.0 1344.7L1296.6 2204.0L1291.7 2204.0z" fill="#f5f4d5"/>
<path d="M1248.3 1344.7L1254.0 1344.7L1301.0 2204.0L1296.0 2204.0z" fill="#f5f4d5"/>
<path d="M1253.3 1344.7L1259.0 1344.7L1305.3 2204.0L1300.4 2204.0z" fill="#f5f4d5"/>
<path d="M1258.3 1344.7L1263.9 1344.7L1309.7 2204.0L1304.7 2204.0z" fill="#f5f4d5"/>
<path d="M1263.2 1344.7L1268.9 1344.7L1314.0 2204.0L1309.1 2204.0z" fill="#f5f4d5"/>
<path d="M1268.2 1344.7L1273.9 1344.7L1318.3 2204.0L1313.4 2204.0z" fill="#f5f4d5"/>
<path d="M1273.2 1344.7L1278.8 1344.7L1322.7 2204.0L1317.7 2204.0z" fill="#f5f4d5"/>
<path d="M1278.2 1344.7L1283.8 1344.7L1327.0 2204.0L1322.1 2204.0z" fill="#f5f4d5"/>
<path d="M1283.1 1344.7L1288.8 1344.7L1331.4 2204.0L1326.4 2204.0z" fill="#f5f4d1"/>
<path d="M1288.1 1344.7L1293.7 1344.7L1335.7 2204.0L1330.8 2204.0z" fill="#f5f4d1"/>
<path d="M1293.1 1344.7L1298.7 1344.7L1340.0 2204.0L1335.1 2204.0z" fill="#f5f4d1"/>
<path d="M1298.0 1344.7L1303.7 1344.7L1344.4 2204.0L1339.4 2204.0z" fill="#f5f4d1"/>
<path d="M1303.0 1344.7L1308.7 1344.7L1348.7 2204.0L1343.8 2204.0z" fill="#f5f1d1"/>
<path d="M1308.0 1344.7L1313.6 1344.7L1353.1 2204.0L1348.1 2204.0z" fill="#f5f1d1"/>
<path d="M1312.9 1344.7L1318.6 1344.7L1357.4 2204.0L1352.5 2204.0z" fill="#f5f1d1"/>
<path d="M1317.9 1344.7L1323.6 1344.7L1361.7 2204.0L1356.8 2204.0z" fill="#f5f1d1"/>
<path d="M1322.9 1344.7L1328.5 1344.7L1366.1 2204.0L1361.1 2204.0z" fill="#f5f1d1"/>
<path d="M1327.8 1344.7L1333.5 1344.7L1370.4 2204.0L1365.5 2204.0z" fill="#f5efd1"/>
<path d="M1332.8 1344.7L1338.5 1344.7L1374.8 2204.0L1369.8 2204.0z" fill="#f5efd1"/>
<path d="M1337.8 1344.7L1343.4 1344.7L1379.1 2204.0L1374.2 2204.0z" fill="#f5efd1"/>
<path d="M1342.7 1344.7L1348.4 1344.7L1383.4 2204.0L1378.5 2204.0z" fill="#f5efd1"/>
<path d="M1347.7 1344.7L1353.4 1344.7L1387.8 2204.0L1382.8 2204.0z" fill="#f5efd1"/>
<path d="M1352.7 1344.7L1358.3 1344.7L1392.1 2204.0L1387.2 2204.0z" fill="#f5f1d1"/>
<path d="M1357.6 1344.7L1363.3 1344.7L1396.5 2204.0L1391.5 2204.0z" fill="#f5f2d1"/>
<path d="M1362.6 1344.7L1368.3 1344.7L1400.8 2204.0L1395.9 2204.0z" fill="#f5f2d1"/>
<path d="M1367.6 1344.7L1373.2 1344.7L1405.1 2204.0L1400.2 2204.0z" fill="#f5f2d1"/>
<path d="M1372.5 1344.7L1378.2 1344.7L1409.5 2204.0L1404.5 2204.0z" fill="#f5f2d1"/>
<path d="M1377.5 1344.7L1383.2 1344.7L1413.8 2204.0L1408.9 2204.0z" fill="#f5edd1"/>
<path d="M1382.5 1344.7L1388.1 1344.7L1418.2 2204.0L1413.2 2204.0z" fill="#f5edd1"/>
<path d="M1387.4 1344.7L1393.1 1344.7L1422.5 2204.0L1417.6 2204.0z" fill="#f5edd1"/>
<path d="M1392.4 1344.7L1398.1 1344.7L1426.8 2204.0L1421.9 2204.0z" fill="#f5edd1"/>
<path d="M1397.4 1344.7L1403.0 1344.7L1431.2 2204.0L1426.2 2204.0z" fill="#f2ecd2"/>
<path d="M1402.3 1344.7L1408.0 1344.7L1435.5 2204.0L1430.6 2204.0z" fill="#eaead4"/>
<path d="M1407.3 1344.7L1413.0 1344.7L1439.9 2204.0L1434.9 2204.0z" fill="#f1f1d1"/>
<path d="M1412.3 1344.7L1417.9 1344.7L1444.2 2204.0L1439.3 2204.0z" fill="#f1f1d1"/>
<path d="M1417.2 1344.7L1422.9 1344.7L1448.5 2204.0L1443.6 2204.0z" fill="#f1f1d1"/>
<path d="M1422.2 1344.7L1427.9 1344.7L1452.9 2204.0L1447.9 2204.0z" fill="#f1ecd4"/>
<path d="M1427.2 1344.7L1432.8 1344.7L1457.2 2204.0L1452.3 2204.0z" fill="#f1ecd4"/>
<path d="M1432.1 1344.7L1437.8 1344.7L1461.6 2204.0L1456.6 2204.0z" fill="#f4ead1"/>
<path d="M1437.1 1344.7L1442.8 1344.7L1465.9 2204.0L1461.0 2204.0z" fill="#f4ead1"/>
<path d="M1442.1 1344.7L1447.7 1344.7L1470.2 2204.0L1465.3 2204.0z" fill="#f4ead1"/>
<path d="M1447.0 1344.7L1452.7 1344.7L1474.6 2204.0L1469.6 2204.0z" fill="#f4e8d1"/>
<path d="M1452.0 1344.7L1457.7 1344.7L1478.9 2204.0L1474.0 2204.0z" fill="#f4e7d1"/>
<path d="M1457.0 1344.7L1462.6 1344.7L1483.3 2204.0L1478.3 2204.0z" fill="#f4e7d1"/>
<path d="M1461.9 1344.7L1467.6 1344.7L1487.6 2204.0L1482.7 2204.0z" fill="#f5e9d1"/>
<path d="M1466.9 1344.7L1472.6 1344.7L1491.9 2204.0L1487.0 2204.0z" fill="#f5ead1"/>
<path d="M1471.9 1344.7L1477.5 1344.7L1496.3 2204.0L1491.3 2204.0z" fill="#f5ead1"/>
<path d="M1476.8 1344.7L1482.5 1344.7L1500.6 2204.0L1495.7 2204.0z" fill="#f5ead1"/>
<path d="M1481.8 1344.7L1487.5 1344.7L1505.0 2204.0L1500.0 2204.0z" fill="#f5ead1"/>
<path d="M1486.8 1344.7L1492.4 1344.7L1509.3 2204.0L1504.4 2204.0z" fill="#f5ead1"/>
<path d="M1491.7 1344.7L1497.4 1344.7L1513.6 2204.0L1508.7 2204.0z" fill="#f5ead1"/>
<path d="M1496.7 1344.7L1502.4 1344.7L1518.0 2204.0L1513.0 2204.0z" fill="#f5ead1"/>
<path d="M1501.7 1344.7L1507.3 1344.7L1522.3 2204.0L1517.4 2204.0z" fill="#f3e8d1"/>
<path d="M1506.7 1344.7L1512.3 1344.7L1526.7 2204.0L1521.7 2204.0z" fill="#f4ead1"/>
<path d="M1511.6 1344.7L1517.3 1344.7L1531.0 2204.0L1526.1 2204.0z" fill="#f5ecd1"/>
<path d="M1516.6 1344.7L1522.2 1344.7L1535.3 2204.0L1530.4 2204.0z" fill="#f5ecd1"/>
<path d="M1521.6 1344.7L1527.2 1344.7L1539.7 2204.0L1534.7 2204.0z" fill="#f5ecd1"/>
<path d="M1526.5 1344.7L1532.2 1344.7L1544.0 2204.0L1539.1 2204.0z" fill="#f5ecd1"/>
<path d="M1531.5 1344.7L1537.1 1344.7L1548.4 2204.0L1543.4 2204.0z" fill="#f5ecd1"/>
<path d="M1536.5 1344.7L1542.1 1344.7L1552.7 2204.0L1547.8 2204.0z" fill="#f5ecd1"/>
<path d="M1541.4 1344.7L1547.1 1344.7L1557.0 2204.0L1552.1 2204.0z" fill="#f5ecd1"/>
<path d="M1546.4 1344.7L1552.1 1344.7L1561.4 2204.0L1556.4 2204.0z" fill="#f5ecd1"/>
<path d="M1551.4 1344.7L1557.0 1344.7L1565.7 2204.0L1560.8 2204.0z" fill="#f5ecd1"/>
<path d="M1556.3 1344.7L1562.0 1344.7L1570.1 2204.0L1565.1 2204.0z" fill="#f5ecd1"/>
<path d="M1561.3 1344.7L1567.0 1344.7L1574.4 2204.0L1569.5 2204.0z" fill="#f5ecd1"/>
<path d="M1566.3 1344.7L1571.9 1344.7L1578.7 2204.0L1573.8 2204.0z" fill="#f5ecd1"/>
<path d="M1571.2 1344.7L1576.9 1344.7L1583.1 2204.0L1578.1 2204.0z" fill="#f4eed1"/>
<path d="M1576.2 1344.7L1581.9 1344.7L1587.4 2204.0L1582.5 2204.0z" fill="#f4eed1"/>
<path d="M1581.2 1344.7L1586.8 1344.7L1591.8 2204.0L1586.8 2204.0z" fill="#f5f1d1"/>
<path d="M1586.1 1344.7L1591.8 1344.7L1596.1 2204.0L1591.2 2204.0z" fill="#f5f2d1"/>
<path d="M1591.1 1344.7L1596.8 1344.7L1600.5 2204.0L1595.5 2204.0z" fill="#f5f2d1"/>
<path d="M1596.1 1344.7L1601.7 1344.7L1604.8 2204.0L1599.8 2204.0z" fill="#f5f2d1"/>
<path d="M1601.0 1344.7L1606.7 1344.7L1609.1 2204.0L1604.2 2204.0z" fill="#f5f5d5"/>
<path d="M1606.0 1344.7L1611.7 1344.7L1613.5 2204.0L1608.5 2204.0z" fill="#f5f5d5"/>
<path d="M1611.0 1344.7L1616.6 1344.7L1617.8 2204.0L1612.9 2204.0z" fill="#f5f5d5"/>
<path d="M1615.9 1344.7L1621.6 1344.7L1622.2 2204.0L1617.2 2204.0z" fill="#f5f5d5"/>
<path d="M1620.9 1344.7L1626.6 1344.7L1626.5 2204.0L1621.5 2204.0z" fill="#f3f4da"/>
<path d="M1625.9 1344.7L1631.5 1344.7L1630.8 2204.0L1625.9 2204.0z" fill="#f3f4da"/>
<path d="M1630.8 1344.7L1636.5 1344.7L1635.2 2204.0L1630.2 2204.0z" fill="#f2f3e1"/>
<path d="M1635.8 1344.7L1641.5 1344.7L1639.5 2204.0L1634.6 2204.0z" fill="#f2f3e2"/>
<path d="M1640.8 1344.7L1646.4 1344.7L1643.9 2204.0L1638.9 2204.0z" fill="#f2f3e2"/>
<path d="M1645.7 1344.7L1651.4 1344.7L1648.2 2204.0L1643.2 2204.0z" fill="#f2f3e2"/>
<path d="M1650.7 1344.7L1656.4 1344.7L1652.5 2204.0L1647.6 2204.0z" fill="#f2f3e2"/>
<path d="M1655.7 1344.7L1661.3 1344.7L1656.9 2204.0L1651.9 2204.0z" fill="#f2f3e2"/>
<path d="M1660.6 1344.7L1666.3 1344.7L1661.2 2204.0L1656.3 2204.0z" fill="#f2f3e2"/>
<path d="M1665.6 1344.7L1671.3 1344.7L1665.6 2204.0L1660.6 2204.0z" fill="#f2f3e2"/>
<path d="M1670.6 1344.7L1676.2 1344.7L1669.9 2204.0L1664.9 2204.0z" fill="#eff1e1"/>
<path d="M1675.5 1344.7L1681.2 1344.7L1674.2 2204.0L1669.3 2204.0z" fill="#eff1e1"/>
<path d="M1680.5 1344.7L1686.2 1344.7L1678.6 2204.0L1673.6 2204.0z" fill="#eff1e1"/>
<path d="M1685.5 1344.7L1691.1 1344.7L1682.9 2204.0L1678.0 2204.0z" fill="#eff1e1"/>
<path d="M1690.4 1344.7L1696.1 1344.7L1687.3 2204.0L1682.3 2204.0z" fill="#eff1e1"/>
<path d="M1695.4 1344.7L1701.1 1344.7L1691.6 2204.0L1686.6 2204.0z" fill="#eff0e0"/>
<path d="M1700.4 1344.7L1706.0 1344.7L1695.9 2204.0L1691.0 2204.0z" fill="#eeefde"/>
<path d="M1705.3 1344.7L1711.0 1344.7L1700.3 2204.0L1695.3 2204.0z" fill="#eef0dd"/>
<path d="M1710.3 1344.7L1716.0 1344.7L1704.6 2204.0L1699.7 2204.0z" fill="#eff2dc"/>
<path d="M1715.3 1344.7L1720.9 1344.7L1709.0 2204.0L1704.0 2204.0z" fill="#eff2dc"/>
<path d="M1720.2 1344.7L1725.9 1344.7L1713.3 2204.0L1708.3 2204.0z" fill="#eff2dc"/>
<path d="M1725.2 1344.7L1730.9 1344.7L1717.6 2204.0L1712.7 2204.0z" fill="#eff2dc"/>
<path d="M1730.2 1344.7L1735.8 1344.7L1722.0 2204.0L1717.0 2204.0z" fill="#eff2dc"/>
<path d="M1735.1 1344.7L1740.8 1344.7L1726.3 2204.0L1721.4 2204.0z" fill="#eff2dc"/>
<path d="M1740.1 1344.7L1745.8 1344.7L1730.7 2204.0L1725.7 2204.0z" fill="#eff2dc"/>
<path d="M1745.1 1344.7L1750.7 1344.7L1735.0 2204.0L1730.0 2204.0z" fill="#eff2dc"/>
<path d="M1750.1 1344.7L1755.7 1344.7L1739.3 2204.0L1734.4 2204.0z" fill="#eff2dc"/>
<path d="M1755.0 1344.7L1760.7 1344.7L1743.7 2204.0L1738.7 2204.0z" fill="#eff2dc"/>
<path d="M1760.0 1344.7L1765.6 1344.7L1748.0 2204.0L1743.1 2204.0z" fill="#eff2dc"/>
<path d="M1765.0 1344.7L1770.6 1344.7L1752.4 2204.0L1747.4 2204.0z" fill="#eff2dc"/>
<path d="M1769.9 1344.7L1775.6 1344.7L1756.7 2204.0L1751.7 2204.0z" fill="#eff2dc"/>
<path d="M1774.9 1344.7L1780.6 1344.7L1761.0 2204.0L1756.1 2204.0z" fill="#eff2dc"/>
<path d="M1779.9 1344.7L1785.5 1344.7L1765.4 2204.0L1760.4 2204.0z" fill="#eff2dc"/>
<path d="M1784.8 1344.7L1790.5 1344.7L1769.7 2204.0L1764.8 2204.0z" fill="#eff2dc"/>
<path d="M1789.8 1344.7L1795.5 1344.7L1774.1 2204.0L1769.1 2204.0z" fill="#eff2dc"/>
<path d="M1794.8 1344.7L1800.4 1344.7L1778.4 2204.0L1773.4 2204.0z" fill="#eff2dc"/>
<path d="M1799.7 1344.7L1805.4 1344.7L1782.7 2204.0L1777.8 2204.0z" fill="#eff2dc"/>
<path d="M1804.7 1344.7L1810.4 1344.7L1787.1 2204.0L1782.1 2204.0z" fill="#eff2dc"/>
<path d="M1809.7 1344.7L1815.3 1344.7L1791.4 2204.0L1786.5 2204.0z" fill="#eff2dc"/>
<path d="M1814.6 1344.7L1820.3 1344.7L1795.8 2204.0L1790.8 2204.0z" fill="#eff2dc"/>
<path d="M1819.6 1344.7L1825.3 1344.7L1800.1 2204.0L1795.1 2204.0z" fill="#eff2dc"/>
<path d="M1824.6 1344.7L1830.2 1344.7L1804.4 2204.0L1799.5 2204.0z" fill="#eff2dc"/>
<path d="M1829.5 1344.7L1835.2 1344.7L1808.8 2204.0L1803.8 2204.0z" fill="#f1f2dc"/>
<path d="M1834.5 1344.7L1840.2 1344.7L1813.1 2204.0L1808.2 2204.0z" fill="#f1f2dc"/>
<path d="M1839.5 1344.7L1845.1 1344.7L1817.5 2204.0L1812.5 2204.0z" fill="#f1f2dc"/>
<path d="M1844.4 1344.7L1850.1 1344.7L1821.8 2204.0L1816.9 2204.0z" fill="#f1f2dc"/>
<path d="M1849.4 1344.7L1855.1 1344.7L1826.1 2204.0L1821.2 2204.0z" fill="#f1f2dc"/>
<path d="M1854.4 1344.7L1860.0 1344.7L1830.5 2204.0L1825.5 2204.0z" fill="#f1f2dc"/>
<path d="M1859.3 1344.7L1865.0 1344.7L1834.8 2204.0L1829.9 2204.0z" fill="#f1f2dc"/>
<path d="M1864.3 1344.7L1870.0 1344.7L1839.2 2204.0L1834.2 2204.0z" fill="#f1f2dc"/>
<path d="M1869.3 1344.7L1874.9 1344.7L1843.5 2204.0L1838.6 2204.0z" fill="#f1f2dc"/>
<path d="M1874.2 1344.7L1879.9 1344.7L1847.8 2204.0L1842.9 2204.0z" fill="#f1f2dc"/>
<path d="M1879.2 1344.7L1884.9 1344.7L1852.2 2204.0L1847.2 2204.0z" fill="#eff0dd"/>
<path d="M1884.2 1344.7L1889.8 1344.7L1856.5 2204.0L1851.6 2204.0z" fill="#eff0dd"/>
<path d="M1889.1 1344.7L1894.8 1344.7L1860.9 2204.0L1855.9 2204.0z" fill="#eff0dd"/>
<path d="M1894.1 1344.7L1899.8 1344.7L1865.2 2204.0L1860.3 2204.0z" fill="#eff0dd"/>
<path d="M1899.1 1344.7L1904.7 1344.7L1869.5 2204.0L1864.6 2204.0z" fill="#eff0dd"/>
<path d="M1904.0 1344.7L1909.7 1344.7L1873.9 2204.0L1868.9 2204.0z" fill="#eff0dd"/>
<path d="M1909.0 1344.7L1914.7 1344.7L1878.2 2204.0L1873.3 2204.0z" fill="#eff0dd"/>
<path d="M1914.0 1344.7L1919.6 1344.7L1882.6 2204.0L1877.6 2204.0z" fill="#eff0dd"/>
<path d="M1918.9 1344.7L1924.6 1344.7L1886.9 2204.0L1882.0 2204.0z" fill="#eff0dd"/>
<path d="M1923.9 1344.7L1929.6 1344.7L1891.2 2204.0L1886.3 2204.0z" fill="#eeefdc"/>
<path d="M1928.9 1344.7L1934.5 1344.7L1895.6 2204.0L1890.6 2204.0z" fill="#eaebda"/>
<path d="M1933.8 1344.7L1939.5 1344.7L1899.9 2204.0L1895.0 2204.0z" fill="#eaeada"/>
<path d="M1938.8 1344.7L1944.5 1344.7L1904.3 2204.0L1899.3 2204.0z" fill="#e8e9da"/>
<path d="M1943.8 1344.7L1949.4 1344.7L1908.6 2204.0L1903.7 2204.0z" fill="#edeedc"/>
<path d="M1948.7 1344.7L1954.4 1344.7L1912.9 2204.0L1908.0 2204.0z" fill="#edeedc"/>
<path d="M1953.7 1344.7L1959.4 1344.7L1917.3 2204.0L1912.3 2204.0z" fill="#edeedc"/>
<path d="M1958.7 1344.7L1964.3 1344.7L1921.6 2204.0L1916.7 2204.0z" fill="#ecedde"/>
<path d="M1963.6 1344.7L1969.3 1344.7L1926.0 2204.0L1921.0 2204.0z" fill="#ecedde"/>
<path d="M1968.6 1344.7L1974.3 1344.7L1930.3 2204.0L1925.4 2204.0z" fill="#ecedde"/>
<path d="M1973.6 1344.7L1979.2 1344.7L1934.6 2204.0L1929.7 2204.0z" fill="#ecedde"/>
<path d="M1978.5 1344.7L1984.2 1344.7L1939.0 2204.0L1934.0 2204.0z" fill="#dfeeda"/>
<path d="M1983.5 1344.7L1989.2 1344.7L1943.3 2204.0L1938.4 2204.0z" fill="#dbecda"/>
<path d="M1988.5 1344.7L1994.1 1344.7L1947.7 2204.0L1942.7 2204.0z" fill="#e5e8e0"/>
<path d="M1993.5 1344.7L1999.1 1344.7L1952.0 2204.0L1947.1 2204.0z" fill="#d5ead5"/>
<path d="M1998.4 1344.7L2004.1 1344.7L1956.3 2204.0L1951.4 2204.0z" fill="#d5ecd5"/>
<path d="M2003.4 1344.7L2009.0 1344.7L1960.7 2204.0L1955.7 2204.0z" fill="#d5f2d5"/>
<path d="M2008.4 1344.7L2014.0 1344.7L1965.0 2204.0L1960.1 2204.0z" fill="#d5f2d5"/>
<path d="M2013.3 1344.7L2019.0 1344.7L1969.4 2204.0L1964.4 2204.0z" fill="#e0f3ea"/>
<path d="M2018.3 1344.7L2024.0 1344.7L1973.7 2204.0L1968.8 2204.0z" fill="#e3f4f2"/>
<path d="M2023.3 1344.7L2028.9 1344.7L1978.0 2204.0L1973.1 2204.0z" fill="#e6f3e8"/>
<path d="M2028.2 1344.7L2033.9 1344.7L1982.4 2204.0L1977.4 2204.0z" fill="#dcf2db"/>
<path d="M2033.2 1344.7L2038.9 1344.7L1986.7 2204.0L1981.8 2204.0z" fill="#e4f2d9"/>
<path d="M2038.2 1344.7L2043.8 1344.7L1991.1 2204.0L1986.1 2204.0z" fill="#f4f4d9"/>
<path d="M2043.1 1344.7L2048.8 1344.7L1995.4 2204.0L1990.5 2204.0z" fill="#f4f4d9"/>
<path d="M2048.1 1344.7L2053.8 1344.7L1999.7 2204.0L1994.8 2204.0z" fill="#f4f4d9"/>
<path d="M2053.1 1344.7L2058.7 1344.7L2004.1 2204.0L1999.1 2204.0z" fill="#f3f4dc"/>
<path d="M2058.0 1344.7L2063.7 1344.7L2008.4 2204.0L2003.5 2204.0z" fill="#f2f4e1"/>
<path d="M2063.0 1344.7L2068.7 1344.7L2012.8 2204.0L2007.8 2204.0z" fill="#f2f4e1"/>
<path d="M2068.0 1344.7L2073.6 1344.7L2017.1 2204.0L2012.2 2204.0z" fill="#f2f4e1"/>
<path d="M2072.9 1344.7L2078.6 1344.7L2021.4 2204.0L2016.5 2204.0z" fill="#f2f4e3"/>
<path d="M2077.9 1344.7L2083.6 1344.7L2025.8 2204.0L2020.8 2204.0z" fill="#f2f4e5"/>
<path d="M2082.9 1344.7L2088.5 1344.7L2030.1 2204.0L2025.2 2204.0z" fill="#f2f4e5"/>
<path d="M2087.8 1344.7L2093.5 1344.7L2034.5 2204.0L2029.5 2204.0z" fill="#f2f4e5"/>
<path d="M2092.8 1344.7L2098.5 1344.7L2038.8 2204.0L2033.9 2204.0z" fill="#f2f4e5"/>
<path d="M2097.8 1344.7L2103.4 1344.7L2043.1 2204.0L2038.2 2204.0z" fill="#f2f3e1"/>
<path d="M2102.7 1344.7L2108.4 1344.7L2047.5 2204.0L2042.5 2204.0z" fill="#f2f3e1"/>
<path d="M2107.7 1344.7L2113.4 1344.7L2051.8 2204.0L2046.9 2204.0z" fill="#f2f3e1"/>
<path d="M2112.7 1344.7L2118.3 1344.7L2056.2 2204.0L2051.2 2204.0z" fill="#f2f3e1"/>
<path d="M2117.6 1344.7L2123.3 1344.7L2060.5 2204.0L2055.6 2204.0z" fill="#f2f3df"/>
<path d="M2122.6 1344.7L2128.3 1344.7L2064.8 2204.0L2059.9 2204.0z" fill="#f2f3dd"/>
<path d="M2127.6 1344.7L2133.2 1344.7L2069.2 2204.0L2064.2 2204.0z" fill="#f2f3dd"/>
<path d="M2132.5 1344.7L2138.2 1344.7L2073.5 2204.0L2068.6 2204.0z" fill="#f2f3dd"/>
<path d="M2137.5 1344.7L2143.2 1344.7L2077.9 2204.0L2072.9 2204.0z" fill="#f2f3dd"/>
<path d="M2142.5 1344.7L2148.1 1344.7L2082.2 2204.0L2077.3 2204.0z" fill="#f2f3dd"/>
<path d="M2147.4 1344.7L2153.1 1344.7L2086.5 2204.0L2081.6 2204.0z" fill="#f4f4da"/>
<path d="M2152.4 1344.7L2158.1 1344.7L2090.9 2204.0L2085.9 2204.0z" fill="#f4f4da"/>
<path d="M2157.4 1344.7L2163.0 1344.7L2095.2 2204.0L2090.3 2204.0z" fill="#f5f5d7"/>
<path d="M2162.3 1344.7L2168.0 1344.7L2099.6 2204.0L2094.6 2204.0z" fill="#f6f5d5"/>
<path d="M2167.3 1344.7L2173.0 1344.7L2103.9 2204.0L2099.0 2204.0z" fill="#f6f5d5"/>
<path d="M2172.3 1344.7L2177.9 1344.7L2108.2 2204.0L2103.3 2204.0z" fill="#f6efd1"/>
<path d="M2177.2 1344.7L2182.9 1344.7L2112.6 2204.0L2107.6 2204.0z" fill="#f5ebd1"/>
<path d="M2182.2 1344.7L2187.9 1344.7L2116.9 2204.0L2112.0 2204.0z" fill="#f5ead1"/>
<path d="M2187.2 1344.7L2192.8 1344.7L2121.3 2204.0L2116.3 2204.0z" fill="#f5ead1"/>
<path d="M2192.1 1344.7L2197.8 1344.7L2125.6 2204.0L2120.7 2204.0z" fill="#f5e2d1"/>
<path d="M2197.1 1344.7L2202.8 1344.7L2129.9 2204.0L2125.0 2204.0z" fill="#f5e2d1"/>
<path d="M2202.1 1344.7L2207.7 1344.7L2134.3 2204.0L2129.3 2204.0z" fill="#f5e2d1"/>
<path d="M2207.0 1344.7L2212.7 1344.7L2138.6 2204.0L2133.7 2204.0z" fill="#f5e2d1"/>
<path d="M2212.0 1344.7L2217.7 1344.7L2143.0 2204.0L2138.0 2204.0z" fill="#f5e2d1"/>
<path d="M2217.0 1344.7L2222.6 1344.7L2147.3 2204.0L2142.4 2204.0z" fill="#f5e8d1"/>
<path d="M2222.0 1344.7L2227.6 1344.7L2151.6 2204.0L2146.7 2204.0z" fill="#f5e8d1"/>
<path d="M2226.9 1344.7L2232.6 1344.7L2156.0 2204.0L2151.0 2204.0z" fill="#f5e8d1"/>
<path d="M2231.9 1344.7L2237.5 1344.7L2160.3 2204.0L2155.4 2204.0z" fill="#f5edd1"/>
<path d="M2236.9 1344.7L2242.5 1344.7L2164.7 2204.0L2159.7 2204.0z" fill="#f5eed1"/>
<path d="M2241.8 1344.7L2247.5 1344.7L2169.0 2204.0L2164.1 2204.0z" fill="#f5eed1"/>
<path d="M2246.8 1344.7L2252.4 1344.7L2173.3 2204.0L2168.4 2204.0z" fill="#f5eed1"/>
</g>
<path d="M935.2 1068.2L624.2 2004.0M1317.4 1124.8L1040.2 2072.7M1704.6 1182.2L1462.2 2142.3M2096.9 1240.3L1890.3 2213.0M2494.5 1299.2L2324.7 2284.7M2897.4 1358.9L2765.5 2357.4M935.2 1068.2L2897.4 1358.9M837.6 1361.8L2856.1 1671.5M734.1 1673.2L2812.2 2003.7M624.2 2004.0L2765.5 2357.4" stroke="#8f9499" stroke-width="1.5" fill="none"/>
<path d="M2949 2160L2960.2 2068.3L2987 2160M3022 2160L3032 2079.3M3084.4 2160L3092 2088.8" stroke="#6e6e6e" stroke-width="2" fill="none"/>
<g clip-path="url(#c6)" opacity="0.850">
<path d="M802.3 1409.0L806.2 1409.0L843.2 1713.0L839.5 1713.0z" fill="#adad27"/>
<path d="M805.5 1409.0L811.6 1409.0L848.3 1713.0L842.5 1713.0z" fill="#b0b028"/>
<path d="M810.9 1409.0L817.0 1409.0L853.4 1713.0L847.6 1713.0z" fill="#b3b72c"/>
<path d="M816.2 1409.0L820.1 1409.0L856.5 1713.0L852.7 1713.0z" fill="#b2b62c"/>
<path d="M819.4 1409.0L825.5 1409.0L861.6 1713.0L855.8 1713.0z" fill="#b4b842"/>
<path d="M824.7 1409.0L828.6 1409.0L864.6 1713.0L860.9 1713.0z" fill="#bbbf6f"/>
<path d="M827.9 1409.0L832.7 1409.0L868.5 1713.0L863.9 1713.0z" fill="#b8bb63"/>
<path d="M832.0 1409.0L836.8 1409.0L872.4 1713.0L867.8 1713.0z" fill="#b2b22f"/>
<path d="M836.1 1409.0L840.0 1409.0L875.4 1713.0L871.7 1713.0z" fill="#b1b12f"/>
<path d="M839.3 1409.0L846.9 1409.0L882.1 1713.0L874.7 1713.0z" fill="#b6b631"/>
<path d="M846.2 1409.0L852.3 1409.0L887.2 1713.0L881.4 1713.0z" fill="#a6a618"/>
<path d="M851.6 1409.0L859.2 1409.0L893.8 1713.0L886.5 1713.0z" fill="#abab18"/>
<path d="M858.5 1409.0L863.3 1409.0L897.7 1713.0L893.1 1713.0z" fill="#a9a918"/>
<path d="M862.6 1409.0L865.9 1409.0L900.1 1713.0L897.0 1713.0z" fill="#a8a818"/>
<path d="M865.1 1409.0L868.4 1409.0L902.5 1713.0L899.4 1713.0z" fill="#a7a718"/>
<path d="M867.6 1409.0L870.9 1409.0L905.0 1713.0L901.8 1713.0z" fill="#a8a818"/>
<path d="M870.2 1409.0L873.4 1409.0L907.4 1713.0L904.3 1713.0z" fill="#a7a718"/>
<path d="M872.7 1409.0L876.0 1409.0L909.8 1713.0L906.7 1713.0z" fill="#aaaa18"/>
<path d="M875.2 1409.0L882.9 1409.0L916.4 1713.0L909.1 1713.0z" fill="#a9a918"/>
<path d="M882.2 1409.0L889.8 1409.0L923.0 1713.0L915.7 1713.0z" fill="#a8a818"/>
<path d="M889.1 1409.0L892.4 1409.0L925.4 1713.0L922.3 1713.0z" fill="#aaaa18"/>
<path d="M810.9 1409.0L847.6 1713.0M816.2 1409.0L852.7 1713.0M819.4 1409.0L855.8 1713.0M827.9 1409.0L863.9 1713.0M832.0 1409.0L867.8 1713.0M846.2 1409.0L881.4 1713.0M858.5 1409.0L893.1 1713.0M870.2 1409.0L904.3 1713.0M872.7 1409.0L906.7 1713.0M882.2 1409.0L915.7 1713.0M891.6 1409.0L924.7 1713.0" stroke="#302800" stroke-opacity="0.13" stroke-width="1" fill="none"/>
</g>
<polyline points="858.0,1413.0 861.0,1414.0 875.0,1449.0 890.0,1479.0 900.0,1509.0 896.0,1539.0 894.5,1560.0 896.5,1591.0 894.0,1634.0 892.0,1652.0 885.0,1659.0" fill="none" stroke="#6a6c40" stroke-width="0.8" stroke-linejoin="round" stroke-linecap="round"/>
<polyline points="840.0,1709.0 842.0,1692.0 845.0,1682.0 850.0,1674.0 863.5,1666.0 874.7,1653.0 881.0,1641.0 886.0,1622.0 889.6,1597.0 892.0,1572.0 892.0,1545.0 896.0,1510.0 886.0,1481.0 871.0,1451.0" fill="none" stroke="#6a6c40" stroke-width="0.8" stroke-linejoin="round" stroke-linecap="round"/>
<g clip-path="url(#c7)">
<path d="M722.2 1571.5L726.0 1571.5L769.9 1892.6L766.3 1892.6z" fill="#b6ba3d"/>
<path d="M725.2 1571.5L729.0 1571.5L772.8 1892.6L769.2 1892.6z" fill="#b2b63b"/>
<path d="M728.3 1571.5L735.8 1571.5L779.3 1892.6L772.1 1892.6z" fill="#b5b93c"/>
<path d="M735.1 1571.5L738.3 1571.5L781.6 1892.6L778.6 1892.6z" fill="#b5b93c"/>
<path d="M737.5 1571.5L745.0 1571.5L788.0 1892.6L780.9 1892.6z" fill="#b3b73c"/>
<path d="M744.3 1571.5L748.1 1571.5L791.0 1892.6L787.4 1892.6z" fill="#b2b63b"/>
<path d="M747.4 1571.5L751.2 1571.5L793.9 1892.6L790.3 1892.6z" fill="#b5b933"/>
<path d="M750.5 1571.5L753.7 1571.5L796.2 1892.6L793.2 1892.6z" fill="#babe20"/>
<path d="M752.9 1571.5L756.7 1571.5L799.2 1892.6L795.6 1892.6z" fill="#b9bd20"/>
<path d="M756.0 1571.5L759.8 1571.5L802.1 1892.6L798.5 1892.6z" fill="#c5c712"/>
<path d="M759.1 1571.5L762.3 1571.5L804.4 1892.6L801.4 1892.6z" fill="#c8c800"/>
<path d="M761.6 1571.5L765.4 1571.5L807.4 1892.6L803.8 1892.6z" fill="#caca00"/>
<path d="M764.6 1571.5L768.4 1571.5L810.3 1892.6L806.7 1892.6z" fill="#c8c800"/>
<path d="M767.7 1571.5L772.4 1571.5L814.1 1892.6L809.6 1892.6z" fill="#c5c500"/>
<path d="M771.7 1571.5L776.4 1571.5L817.9 1892.6L813.4 1892.6z" fill="#cbab00"/>
<path d="M775.7 1571.5L778.9 1571.5L820.3 1892.6L817.2 1892.6z" fill="#c8a800"/>
<path d="M778.2 1571.5L781.4 1571.5L822.6 1892.6L819.6 1892.6z" fill="#caa900"/>
<path d="M780.7 1571.5L786.6 1571.5L827.6 1892.6L821.9 1892.6z" fill="#cbaa00"/>
<path d="M785.9 1571.5L790.6 1571.5L831.4 1892.6L826.9 1892.6z" fill="#c4a500"/>
<path d="M789.9 1571.5L795.8 1571.5L836.4 1892.6L830.7 1892.6z" fill="#c59e00"/>
<path d="M795.1 1571.5L799.8 1571.5L840.2 1892.6L835.7 1892.6z" fill="#caa200"/>
<path d="M799.1 1571.5L802.9 1571.5L843.1 1892.6L839.5 1892.6z" fill="#c49d00"/>
<path d="M802.2 1571.5L809.7 1571.5L849.5 1892.6L842.4 1892.6z" fill="#cc9800"/>
<path d="M809.0 1571.5L812.2 1571.5L851.9 1892.6L848.9 1892.6z" fill="#c48100"/>
<path d="M811.4 1571.5L814.6 1571.5L854.2 1892.6L851.2 1892.6z" fill="#c88400"/>
<path d="M813.9 1571.5L817.7 1571.5L857.2 1892.6L853.5 1892.6z" fill="#cc8600"/>
<path d="M817.0 1571.5L824.5 1571.5L863.6 1892.6L856.5 1892.6z" fill="#ca8500"/>
<path d="M823.8 1571.5L829.7 1571.5L868.6 1892.6L862.9 1892.6z" fill="#cb8600"/>
<path d="M829.0 1571.5L834.9 1571.5L873.6 1892.6L867.9 1892.6z" fill="#c48100"/>
<path d="M834.2 1571.5L841.7 1571.5L880.0 1892.6L872.9 1892.6z" fill="#c58200"/>
<path d="M841.0 1571.5L848.5 1571.5L886.4 1892.6L879.3 1892.6z" fill="#c78300"/>
<path d="M847.8 1571.5L855.3 1571.5L892.9 1892.6L885.8 1892.6z" fill="#ca8500"/>
<path d="M854.5 1571.5L859.3 1571.5L896.7 1892.6L892.2 1892.6z" fill="#cc8700"/>
<path d="M858.5 1571.5L864.5 1571.5L901.7 1892.6L896.0 1892.6z" fill="#ca8800"/>
<path d="M863.8 1571.5L867.0 1571.5L904.0 1892.6L901.0 1892.6z" fill="#cc8b00"/>
<path d="M866.2 1571.5L871.0 1571.5L907.8 1892.6L903.3 1892.6z" fill="#ca8900"/>
<path d="M870.2 1571.5L876.2 1571.5L912.8 1892.6L907.1 1892.6z" fill="#c68700"/>
<path d="M875.5 1571.5L879.3 1571.5L915.7 1892.6L912.1 1892.6z" fill="#c88800"/>
<path d="M878.6 1571.5L882.4 1571.5L918.7 1892.6L915.0 1892.6z" fill="#ca8900"/>
<path d="M881.6 1571.5L885.4 1571.5L921.6 1892.6L918.0 1892.6z" fill="#cb8a00"/>
<path d="M884.7 1571.5L892.2 1571.5L928.0 1892.6L920.9 1892.6z" fill="#cc8b00"/>
<path d="M891.5 1571.5L899.0 1571.5L934.5 1892.6L927.3 1892.6z" fill="#c88800"/>
<path d="M898.3 1571.5L905.8 1571.5L940.9 1892.6L933.8 1892.6z" fill="#c88900"/>
<path d="M905.0 1571.5L909.8 1571.5L944.7 1892.6L940.2 1892.6z" fill="#cb8e00"/>
<path d="M909.0 1571.5L912.8 1571.5L947.6 1892.6L944.0 1892.6z" fill="#c48900"/>
<path d="M912.1 1571.5L916.8 1571.5L951.5 1892.6L947.0 1892.6z" fill="#c88c00"/>
<path d="M916.1 1571.5L920.8 1571.5L955.3 1892.6L950.8 1892.6z" fill="#c88c00"/>
<path d="M920.1 1571.5L923.3 1571.5L957.6 1892.6L954.6 1892.6z" fill="#cc8f00"/>
<path d="M922.6 1571.5L926.4 1571.5L960.5 1892.6L956.9 1892.6z" fill="#ca8d00"/>
<path d="M925.7 1571.5L931.6 1571.5L965.5 1892.6L959.9 1892.6z" fill="#c78b00"/>
<path d="M930.9 1571.5L936.9 1571.5L970.5 1892.6L964.8 1892.6z" fill="#c19b07"/>
<path d="M936.1 1571.5L939.9 1571.5L973.4 1892.6L969.8 1892.6z" fill="#bc9908"/>
<path d="M939.2 1571.5L942.4 1571.5L975.8 1892.6L972.7 1892.6z" fill="#c19d08"/>
<path d="M941.7 1571.5L944.9 1571.5L978.1 1892.6L975.1 1892.6z" fill="#bf9b08"/>
<path d="M944.1 1571.5L948.9 1571.5L981.9 1892.6L977.4 1892.6z" fill="#b6b618"/>
<path d="M948.1 1571.5L954.1 1571.5L986.9 1892.6L981.2 1892.6z" fill="#bcbc18"/>
<path d="M953.4 1571.5L956.6 1571.5L989.2 1892.6L986.2 1892.6z" fill="#b4b418"/>
<path d="M955.8 1571.5L963.3 1571.5L995.7 1892.6L988.6 1892.6z" fill="#b9b918"/>
<path d="M735.1 1571.5L778.6 1892.6M737.5 1571.5L780.9 1892.6M744.3 1571.5L787.4 1892.6M747.4 1571.5L790.3 1892.6M759.1 1571.5L801.4 1892.6M761.6 1571.5L803.8 1892.6M764.6 1571.5L806.7 1892.6M771.7 1571.5L813.4 1892.6M775.7 1571.5L817.2 1892.6M785.9 1571.5L826.9 1892.6M789.9 1571.5L830.7 1892.6M817.0 1571.5L856.5 1892.6M823.8 1571.5L862.9 1892.6M834.2 1571.5L872.9 1892.6M866.2 1571.5L903.3 1892.6M870.2 1571.5L907.1 1892.6M875.5 1571.5L912.1 1892.6M881.6 1571.5L918.0 1892.6M891.5 1571.5L927.3 1892.6M898.3 1571.5L933.8 1892.6M905.0 1571.5L940.2 1892.6M909.0 1571.5L944.0 1892.6M939.2 1571.5L972.7 1892.6M941.7 1571.5L975.1 1892.6M948.1 1571.5L981.2 1892.6" stroke="#302800" stroke-opacity="0.13" stroke-width="1" fill="none"/>
</g>
<polyline points="755.5,1803.0 763.0,1788.0 778.0,1769.0 789.0,1758.0 820.0,1734.0 833.7,1719.0 844.8,1701.6 857.3,1689.2 870.9,1675.5 884.6,1659.4 892.0,1651.9 905.7,1644.5 907.6,1634.5 909.4,1630.8 915.7,1626.5 919.4,1624.6 925.6,1614.7 931.8,1606.0 939.3,1596.0 945.5,1587.3 949.2,1581.1 952.9,1575.5 957.9,1575.5 960.4,1578.6" fill="none" stroke="#585c52" stroke-width="1.6" stroke-linejoin="round"/>
<g clip-path="url(#c8)">
<path d="M873.2 1574.6L876.4 1574.6L894.6 1734.0L891.5 1734.0z" fill="#a9a910"/>
<path d="M875.7 1574.6L883.2 1574.6L901.2 1734.0L893.9 1734.0z" fill="#acac11"/>
<path d="M882.4 1574.6L889.9 1574.6L907.8 1734.0L900.5 1734.0z" fill="#b3b314"/>
<path d="M889.2 1574.6L893.0 1574.6L910.8 1734.0L907.1 1734.0z" fill="#b5b50f"/>
<path d="M892.3 1574.6L899.8 1574.6L917.4 1734.0L910.1 1734.0z" fill="#cbcb00"/>
<path d="M899.1 1574.6L902.2 1574.6L919.8 1734.0L916.7 1734.0z" fill="#c9c900"/>
<path d="M901.5 1574.6L906.2 1574.6L923.7 1734.0L919.1 1734.0z" fill="#c5ad00"/>
<path d="M905.5 1574.6L911.5 1574.6L928.8 1734.0L923.0 1734.0z" fill="#c58a00"/>
<path d="M910.8 1574.6L914.5 1574.6L931.8 1734.0L928.1 1734.0z" fill="#cc8f00"/>
<path d="M913.8 1574.6L919.8 1574.6L936.9 1734.0L931.1 1734.0z" fill="#c58a00"/>
<path d="M919.1 1574.6L922.2 1574.6L939.3 1734.0L936.2 1734.0z" fill="#c88c00"/>
<path d="M921.5 1574.6L925.3 1574.6L942.3 1734.0L938.6 1734.0z" fill="#cb8e00"/>
<path d="M924.6 1574.6L930.5 1574.6L947.4 1734.0L941.6 1734.0z" fill="#c68b00"/>
<path d="M929.8 1574.6L933.0 1574.6L949.8 1734.0L946.7 1734.0z" fill="#bf9908"/>
<path d="M932.3 1574.6L935.5 1574.6L952.2 1734.0L949.1 1734.0z" fill="#b7b718"/>
<path d="M934.8 1574.6L938.6 1574.6L955.2 1734.0L951.5 1734.0z" fill="#b6b618"/>
<path d="M937.8 1574.6L942.6 1574.6L959.1 1734.0L954.5 1734.0z" fill="#bcbc18"/>
<path d="M941.8 1574.6L945.6 1574.6L962.1 1734.0L958.4 1734.0z" fill="#bcbc18"/>
<path d="M944.9 1574.6L949.6 1574.6L966.0 1734.0L961.4 1734.0z" fill="#bbbb14"/>
<path d="M948.9 1574.6L953.6 1574.6L969.9 1734.0L965.3 1734.0z" fill="#bfbf10"/>
<path d="M952.9 1574.6L956.7 1574.6L972.9 1734.0L969.2 1734.0z" fill="#c0c010"/>
<path d="M956.0 1574.6L961.9 1574.6L978.0 1734.0L972.2 1734.0z" fill="#acac10"/>
<path d="M875.7 1574.6L893.9 1734.0M901.5 1574.6L919.1 1734.0M924.6 1574.6L941.6 1734.0M929.8 1574.6L946.7 1734.0M937.8 1574.6L954.5 1734.0M941.8 1574.6L958.4 1734.0M956.0 1574.6L972.2 1734.0" stroke="#302800" stroke-opacity="0.13" stroke-width="1" fill="none"/>
</g>
<polyline points="960.4,1578.6 956.6,1582.4 950.4,1587.3 946.7,1596.0 943.0,1604.7 939.3,1609.7 931.8,1612.2 928.0,1614.7 919.4,1624.6 909.4,1630.8 907.6,1634.5 905.7,1645.7 904.5,1661.9 899.5,1668.1 894.5,1672.4 887.1,1674.3" fill="none" stroke="#585c52" stroke-width="1.6" stroke-linejoin="round" stroke-linecap="round"/>
<polyline points="960.4,1578.6 961.6,1597.3 964.1,1615.9 966.0,1634.5" fill="none" stroke="#585c52" stroke-width="1.0" stroke-linejoin="round" stroke-linecap="round"/>
<g clip-path="url(#c9)">
<path d="M841.8 1294.0L849.6 1294.0L920.0 1916.0L912.9 1916.0z" fill="#b3b718"/>
<path d="M848.8 1294.0L856.6 1294.0L926.4 1916.0L919.3 1916.0z" fill="#b2b516"/>
<path d="M855.9 1294.0L859.8 1294.0L929.4 1916.0L925.8 1916.0z" fill="#c4c400"/>
<path d="M859.1 1294.0L864.0 1294.0L933.1 1916.0L928.7 1916.0z" fill="#cbcb00"/>
<path d="M863.3 1294.0L866.6 1294.0L935.5 1916.0L932.5 1916.0z" fill="#baaf08"/>
<path d="M865.8 1294.0L870.8 1294.0L939.3 1916.0L934.8 1916.0z" fill="#af9b10"/>
<path d="M870.0 1294.0L876.2 1294.0L944.2 1916.0L938.6 1916.0z" fill="#ae9a10"/>
<path d="M875.5 1294.0L878.8 1294.0L946.6 1916.0L943.6 1916.0z" fill="#ca9400"/>
<path d="M878.0 1294.0L882.0 1294.0L949.5 1916.0L945.9 1916.0z" fill="#c79100"/>
<path d="M881.2 1294.0L886.2 1294.0L953.3 1916.0L948.8 1916.0z" fill="#c59000"/>
<path d="M885.4 1294.0L888.7 1294.0L955.6 1916.0L952.6 1916.0z" fill="#c48f00"/>
<path d="M888.0 1294.0L891.9 1294.0L958.5 1916.0L954.9 1916.0z" fill="#c69100"/>
<path d="M891.2 1294.0L894.5 1294.0L960.9 1916.0L957.9 1916.0z" fill="#c99300"/>
<path d="M893.8 1294.0L898.7 1294.0L964.7 1916.0L960.2 1916.0z" fill="#c48f00"/>
<path d="M897.9 1294.0L901.2 1294.0L967.0 1916.0L964.0 1916.0z" fill="#ca9300"/>
<path d="M900.5 1294.0L905.4 1294.0L970.8 1916.0L966.3 1916.0z" fill="#c89200"/>
<path d="M904.7 1294.0L910.9 1294.0L975.7 1916.0L970.1 1916.0z" fill="#c99300"/>
<path d="M910.1 1294.0L916.3 1294.0L980.7 1916.0L975.1 1916.0z" fill="#c89200"/>
<path d="M915.6 1294.0L919.5 1294.0L983.6 1916.0L980.0 1916.0z" fill="#c59000"/>
<path d="M918.8 1294.0L923.7 1294.0L987.4 1916.0L982.9 1916.0z" fill="#c59000"/>
<path d="M923.0 1294.0L929.2 1294.0L992.4 1916.0L986.7 1916.0z" fill="#c89200"/>
<path d="M928.4 1294.0L931.7 1294.0L994.7 1916.0L991.7 1916.0z" fill="#c89200"/>
<path d="M931.0 1294.0L935.9 1294.0L998.5 1916.0L994.0 1916.0z" fill="#bd9100"/>
<path d="M935.1 1294.0L943.0 1294.0L1004.9 1916.0L997.8 1916.0z" fill="#b59200"/>
<path d="M942.2 1294.0L948.4 1294.0L1009.9 1916.0L1004.2 1916.0z" fill="#cc5e00"/>
<path d="M947.7 1294.0L955.5 1294.0L1016.3 1916.0L1009.2 1916.0z" fill="#cc5800"/>
<path d="M954.7 1294.0L958.7 1294.0L1019.2 1916.0L1015.6 1916.0z" fill="#cf5900"/>
<path d="M957.9 1294.0L965.7 1294.0L1025.6 1916.0L1018.5 1916.0z" fill="#c66b00"/>
<path d="M965.0 1294.0L968.3 1294.0L1028.0 1916.0L1025.0 1916.0z" fill="#c96c00"/>
<path d="M967.6 1294.0L971.5 1294.0L1030.9 1916.0L1027.3 1916.0z" fill="#c56b00"/>
<path d="M970.8 1294.0L974.1 1294.0L1033.2 1916.0L1030.2 1916.0z" fill="#c46a00"/>
<path d="M973.3 1294.0L981.1 1294.0L1039.6 1916.0L1032.5 1916.0z" fill="#cb6e00"/>
<path d="M980.4 1294.0L983.7 1294.0L1042.0 1916.0L1039.0 1916.0z" fill="#c66b00"/>
<path d="M983.0 1294.0L986.3 1294.0L1044.3 1916.0L1041.3 1916.0z" fill="#c66b00"/>
<path d="M985.5 1294.0L993.3 1294.0L1050.7 1916.0L1043.6 1916.0z" fill="#c86c00"/>
<path d="M992.6 1294.0L995.9 1294.0L1053.1 1916.0L1050.0 1916.0z" fill="#c66b00"/>
<path d="M995.2 1294.0L998.5 1294.0L1055.4 1916.0L1052.4 1916.0z" fill="#c97600"/>
<path d="M997.7 1294.0L1001.7 1294.0L1058.3 1916.0L1054.7 1916.0z" fill="#c68a00"/>
<path d="M1000.9 1294.0L1008.7 1294.0L1064.7 1916.0L1057.6 1916.0z" fill="#c58a00"/>
<path d="M1008.0 1294.0L1015.8 1294.0L1071.2 1916.0L1064.1 1916.0z" fill="#c88c00"/>
<path d="M1015.0 1294.0L1020.0 1294.0L1074.9 1916.0L1070.5 1916.0z" fill="#c88c00"/>
<path d="M1019.2 1294.0L1024.1 1294.0L1078.7 1916.0L1074.3 1916.0z" fill="#c48900"/>
<path d="M1023.4 1294.0L1028.3 1294.0L1082.5 1916.0L1078.1 1916.0z" fill="#cb8e00"/>
<path d="M1027.6 1294.0L1030.9 1294.0L1084.9 1916.0L1081.9 1916.0z" fill="#c78c00"/>
<path d="M1030.1 1294.0L1035.0 1294.0L1088.7 1916.0L1084.2 1916.0z" fill="#c58a00"/>
<path d="M1034.3 1294.0L1039.2 1294.0L1092.5 1916.0L1088.0 1916.0z" fill="#c98d00"/>
<path d="M1038.5 1294.0L1043.4 1294.0L1096.2 1916.0L1091.8 1916.0z" fill="#cc8f00"/>
<path d="M1042.6 1294.0L1050.4 1294.0L1102.7 1916.0L1095.6 1916.0z" fill="#c49005"/>
<path d="M1049.7 1294.0L1053.7 1294.0L1105.6 1916.0L1102.0 1916.0z" fill="#b7bb29"/>
<path d="M1052.9 1294.0L1057.8 1294.0L1109.4 1916.0L1104.9 1916.0z" fill="#b8bc29"/>
<path d="M1057.1 1294.0L1063.3 1294.0L1114.3 1916.0L1108.7 1916.0z" fill="#b5b928"/>
<path d="M1062.5 1294.0L1065.8 1294.0L1116.7 1916.0L1113.7 1916.0z" fill="#bbbc2b"/>
<path d="M1065.1 1294.0L1069.1 1294.0L1119.6 1916.0L1116.0 1916.0z" fill="#bfbf2d"/>
<path d="M1068.3 1294.0L1071.6 1294.0L1121.9 1916.0L1118.9 1916.0z" fill="#bebe2c"/>
<path d="M1070.9 1294.0L1074.2 1294.0L1124.3 1916.0L1121.2 1916.0z" fill="#bbbb2c"/>
<path d="M1073.4 1294.0L1079.6 1294.0L1129.2 1916.0L1123.6 1916.0z" fill="#bbbb2c"/>
<path d="M1078.9 1294.0L1085.1 1294.0L1134.2 1916.0L1128.5 1916.0z" fill="#baba2c"/>
<path d="M1084.4 1294.0L1090.6 1294.0L1139.1 1916.0L1133.5 1916.0z" fill="#b8b82b"/>
<path d="M1089.8 1294.0L1096.0 1294.0L1144.1 1916.0L1138.5 1916.0z" fill="#baba2c"/>
<path d="M1095.3 1294.0L1099.2 1294.0L1147.0 1916.0L1143.4 1916.0z" fill="#b9b92b"/>
<path d="M1098.5 1294.0L1104.7 1294.0L1152.0 1916.0L1146.3 1916.0z" fill="#bbbb2c"/>
<path d="M1103.9 1294.0L1110.1 1294.0L1156.9 1916.0L1151.3 1916.0z" fill="#baba2b"/>
<path d="M1109.4 1294.0L1117.2 1294.0L1163.4 1916.0L1156.3 1916.0z" fill="#ca9200"/>
<path d="M1116.4 1294.0L1119.8 1294.0L1165.7 1916.0L1162.7 1916.0z" fill="#c48d00"/>
<path d="M1119.0 1294.0L1125.2 1294.0L1170.6 1916.0L1165.0 1916.0z" fill="#c48d00"/>
<path d="M1124.5 1294.0L1130.7 1294.0L1175.6 1916.0L1170.0 1916.0z" fill="#cb9200"/>
<path d="M859.1 1294.0L928.7 1916.0M870.0 1294.0L938.6 1916.0M888.0 1294.0L954.9 1916.0M893.8 1294.0L960.2 1916.0M910.1 1294.0L975.1 1916.0M923.0 1294.0L986.7 1916.0M931.0 1294.0L994.0 1916.0M947.7 1294.0L1009.2 1916.0M954.7 1294.0L1015.6 1916.0M957.9 1294.0L1018.5 1916.0M980.4 1294.0L1039.0 1916.0M992.6 1294.0L1050.0 1916.0M995.2 1294.0L1052.4 1916.0M1019.2 1294.0L1074.3 1916.0M1034.3 1294.0L1088.0 1916.0M1042.6 1294.0L1095.6 1916.0M1049.7 1294.0L1102.0 1916.0M1052.9 1294.0L1104.9 1916.0M1065.1 1294.0L1116.0 1916.0M1068.3 1294.0L1118.9 1916.0M1073.4 1294.0L1123.6 1916.0M1089.8 1294.0L1138.5 1916.0M1095.3 1294.0L1143.4 1916.0M1103.9 1294.0L1151.3 1916.0M1109.4 1294.0L1156.3 1916.0" stroke="#302800" stroke-opacity="0.13" stroke-width="1" fill="none"/>
</g>
<polyline points="887.1,1674.3 887.7,1686.7 890.8,1696.6 893.3,1711.6 895.8,1721.5 899.5,1725.2 907.0,1722.7 911.3,1715.3 911.9,1702.9 914.4,1690.4 919.4,1679.3 925.6,1669.3 934.3,1661.9 944.2,1654.4 950.4,1648.2 960.4,1643.2 967.8,1635.8 970.9,1629.6 970.9,1619.6 973.4,1614.7 974.7,1607.2 974.0,1583.6 981.5,1579.9 987.7,1577.4 988.9,1573.7 993.9,1568.7 996.4,1563.7 1000.0,1560.0 1031.0,1533.0 1035.0,1512.0 1058.0,1477.0 1061.5,1462.0 1060.0,1432.0 1062.8,1427.3 1076.4,1415.2 1079.5,1400.0 1082.5,1386.3 1081.8,1368.0 1084.0,1346.8 1090.0,1328.6 1100.7,1315.0 1112.9,1302.8 1120.5,1298.0 1125.8,1299.0" fill="none" stroke="#585c52" stroke-width="1.6" stroke-linejoin="round"/>
<g clip-path="url(#c10)">
<path d="M1100.3 1295.0L1108.1 1295.0L1117.6 1420.7L1109.9 1420.7z" fill="#ba8e00"/>
<path d="M1107.3 1295.0L1112.2 1295.0L1121.7 1420.7L1116.8 1420.7z" fill="#c79300"/>
<path d="M1111.5 1295.0L1115.5 1295.0L1124.8 1420.7L1120.9 1420.7z" fill="#c99500"/>
<path d="M1114.7 1295.0L1118.7 1295.0L1128.0 1420.7L1124.1 1420.7z" fill="#ca9600"/>
<path d="M1117.9 1295.0L1121.9 1295.0L1131.1 1420.7L1127.2 1420.7z" fill="#c8a100"/>
<path d="M1121.1 1295.0L1126.0 1295.0L1135.2 1420.7L1130.4 1420.7z" fill="#cbc200"/>
<path d="M1125.3 1295.0L1130.2 1295.0L1139.3 1420.7L1134.5 1420.7z" fill="#cac200"/>
<path d="M1129.5 1295.0L1137.3 1295.0L1146.2 1420.7L1138.6 1420.7z" fill="#c4bc00"/>
<path d="M1107.3 1295.0L1116.8 1420.7M1136.5 1295.0L1145.5 1420.7" stroke="#302800" stroke-opacity="0.13" stroke-width="1" fill="none"/>
</g>
<g clip-path="url(#c11)">
<path d="M1090.0 1409.6L1093.9 1409.6L1103.6 1532.8L1099.8 1532.8z" fill="#b0b41f"/>
<path d="M1093.2 1409.6L1098.0 1409.6L1107.6 1532.8L1102.9 1532.8z" fill="#b3b720"/>
<path d="M1097.3 1409.6L1104.9 1409.6L1114.5 1532.8L1106.9 1532.8z" fill="#b0b41f"/>
<path d="M1104.2 1409.6L1110.3 1409.6L1119.7 1532.8L1113.7 1532.8z" fill="#b3b720"/>
<path d="M1109.6 1409.6L1114.4 1409.6L1123.8 1532.8L1119.0 1532.8z" fill="#b6ba20"/>
<path d="M1113.7 1409.6L1116.9 1409.6L1126.2 1532.8L1123.0 1532.8z" fill="#b6b81c"/>
<path d="M1116.2 1409.6L1123.9 1409.6L1133.0 1532.8L1125.5 1532.8z" fill="#bebe18"/>
<path d="M1123.1 1409.6L1126.4 1409.6L1135.5 1532.8L1132.3 1532.8z" fill="#c0c018"/>
<path d="M1125.7 1409.6L1130.5 1409.6L1139.5 1532.8L1134.8 1532.8z" fill="#bfbf18"/>
<path d="M1129.8 1409.6L1137.4 1409.6L1146.4 1532.8L1138.8 1532.8z" fill="#be9c10"/>
<path d="M1136.7 1409.6L1140.0 1409.6L1148.8 1532.8L1145.6 1532.8z" fill="#bd9910"/>
<path d="M1139.2 1409.6L1143.1 1409.6L1151.9 1532.8L1148.1 1532.8z" fill="#be9a10"/>
<path d="M1142.4 1409.6L1150.0 1409.6L1158.7 1532.8L1151.2 1532.8z" fill="#c29e10"/>
<path d="M1093.2 1409.6L1102.9 1532.8M1097.3 1409.6L1106.9 1532.8M1109.6 1409.6L1119.0 1532.8M1113.7 1409.6L1123.0 1532.8M1129.8 1409.6L1138.8 1532.8M1139.2 1409.6L1148.1 1532.8M1149.3 1409.6L1158.0 1532.8" stroke="#302800" stroke-opacity="0.13" stroke-width="1" fill="none"/>
</g>
<polyline points="1125.8,1299.0 1122.0,1305.8 1112.9,1316.4 1106.8,1333.0 1105.3,1346.8 1109.9,1362.0 1114.4,1371.0 1110.6,1386.3 1112.9,1400.0 1115.2,1413.6" fill="none" stroke="#585c52" stroke-width="1.6" stroke-linejoin="round" stroke-linecap="round"/>
<polyline points="1115.2,1413.6 1106.8,1425.8 1099.2,1438.0 1094.7,1454.6" fill="none" stroke="#585c52" stroke-width="1.6" stroke-linejoin="round" stroke-linecap="round"/>
<g clip-path="url(#c12)">
<path d="M1196.7 1342.8L1200.6 1342.8L1206.2 1432.1L1202.3 1432.1z" fill="#7e7908"/>
<path d="M1199.8 1342.8L1204.7 1342.8L1210.3 1432.1L1205.4 1432.1z" fill="#807b08"/>
<path d="M1204.0 1342.8L1208.9 1342.8L1214.3 1432.1L1209.5 1432.1z" fill="#8b7a05"/>
<path d="M1208.1 1342.8L1214.3 1342.8L1219.7 1432.1L1213.6 1432.1z" fill="#ab8200"/>
<path d="M1213.5 1342.8L1218.4 1342.8L1223.8 1432.1L1218.9 1432.1z" fill="#b08300"/>
<path d="M1217.7 1342.8L1223.8 1342.8L1229.1 1432.1L1223.0 1432.1z" fill="#ba8500"/>
<path d="M1223.1 1342.8L1229.3 1342.8L1234.5 1432.1L1228.4 1432.1z" fill="#b78300"/>
<path d="M1199.8 1342.8L1205.4 1432.1M1208.1 1342.8L1213.6 1432.1M1217.7 1342.8L1223.0 1432.1M1223.1 1342.8L1228.4 1432.1M1228.5 1342.8L1233.7 1432.1" stroke="#302800" stroke-opacity="0.13" stroke-width="1" fill="none"/>
</g>
<g clip-path="url(#c13)">
<path d="M1080.6 1348.1L1083.8 1348.1L1127.4 1894.4L1124.4 1894.4z" fill="#867200"/>
<path d="M1083.1 1348.1L1089.3 1348.1L1132.4 1894.4L1126.7 1894.4z" fill="#847000"/>
<path d="M1088.5 1348.1L1091.8 1348.1L1134.7 1894.4L1131.7 1894.4z" fill="#857100"/>
<path d="M1091.1 1348.1L1094.3 1348.1L1137.0 1894.4L1134.0 1894.4z" fill="#857100"/>
<path d="M1093.6 1348.1L1099.8 1348.1L1142.0 1894.4L1136.4 1894.4z" fill="#847000"/>
<path d="M1099.0 1348.1L1106.8 1348.1L1148.5 1894.4L1141.3 1894.4z" fill="#816e00"/>
<path d="M1106.0 1348.1L1112.2 1348.1L1153.4 1894.4L1147.8 1894.4z" fill="#867200"/>
<path d="M1111.4 1348.1L1117.6 1348.1L1158.4 1894.4L1152.8 1894.4z" fill="#aeac12"/>
<path d="M1116.8 1348.1L1124.6 1348.1L1164.9 1894.4L1157.7 1894.4z" fill="#b4b414"/>
<path d="M1123.8 1348.1L1131.6 1348.1L1171.3 1894.4L1164.2 1894.4z" fill="#b1b114"/>
<path d="M1130.8 1348.1L1135.7 1348.1L1175.1 1894.4L1170.6 1894.4z" fill="#c48501"/>
<path d="M1135.0 1348.1L1141.1 1348.1L1180.1 1894.4L1174.4 1894.4z" fill="#c78400"/>
<path d="M1140.4 1348.1L1145.3 1348.1L1183.9 1894.4L1179.4 1894.4z" fill="#c68300"/>
<path d="M1144.5 1348.1L1149.4 1348.1L1187.7 1894.4L1183.2 1894.4z" fill="#c48200"/>
<path d="M1148.7 1348.1L1153.6 1348.1L1191.5 1894.4L1187.0 1894.4z" fill="#c9c900"/>
<path d="M1152.8 1348.1L1156.7 1348.1L1194.4 1894.4L1190.8 1894.4z" fill="#caca00"/>
<path d="M1156.0 1348.1L1159.9 1348.1L1197.4 1894.4L1193.7 1894.4z" fill="#cbcb00"/>
<path d="M1159.2 1348.1L1164.1 1348.1L1201.2 1894.4L1196.7 1894.4z" fill="#bdb900"/>
<path d="M1163.3 1348.1L1167.2 1348.1L1204.1 1894.4L1200.5 1894.4z" fill="#816900"/>
<path d="M1166.5 1348.1L1170.4 1348.1L1207.0 1894.4L1203.4 1894.4z" fill="#7e6600"/>
<path d="M1169.7 1348.1L1175.8 1348.1L1212.0 1894.4L1206.3 1894.4z" fill="#816800"/>
<path d="M1175.1 1348.1L1178.4 1348.1L1214.3 1894.4L1211.3 1894.4z" fill="#7e6700"/>
<path d="M1177.6 1348.1L1185.4 1348.1L1220.8 1894.4L1213.7 1894.4z" fill="#7d6600"/>
<path d="M1184.6 1348.1L1187.9 1348.1L1223.1 1894.4L1220.1 1894.4z" fill="#816900"/>
<path d="M1187.2 1348.1L1191.1 1348.1L1226.0 1894.4L1222.4 1894.4z" fill="#816800"/>
<path d="M1190.4 1348.1L1193.7 1348.1L1228.4 1894.4L1225.4 1894.4z" fill="#806800"/>
<path d="M1192.9 1348.1L1196.2 1348.1L1230.7 1894.4L1227.7 1894.4z" fill="#826a00"/>
<path d="M1195.5 1348.1L1198.8 1348.1L1233.1 1894.4L1230.0 1894.4z" fill="#806800"/>
<path d="M1198.0 1348.1L1202.9 1348.1L1236.9 1894.4L1232.4 1894.4z" fill="#b2ab00"/>
<path d="M1202.2 1348.1L1208.3 1348.1L1241.9 1894.4L1236.2 1894.4z" fill="#caca00"/>
<path d="M1207.6 1348.1L1212.4 1348.1L1245.7 1894.4L1241.2 1894.4z" fill="#cccc00"/>
<path d="M1211.7 1348.1L1217.9 1348.1L1250.6 1894.4L1245.0 1894.4z" fill="#c5c500"/>
<path d="M1217.1 1348.1L1223.3 1348.1L1255.6 1894.4L1250.0 1894.4z" fill="#c4c400"/>
<path d="M1222.5 1348.1L1225.8 1348.1L1258.0 1894.4L1254.9 1894.4z" fill="#aaaa00"/>
<path d="M1225.1 1348.1L1231.2 1348.1L1262.9 1894.4L1257.3 1894.4z" fill="#a5a500"/>
<path d="M1083.1 1348.1L1126.7 1894.4M1093.6 1348.1L1136.4 1894.4M1130.8 1348.1L1170.6 1894.4M1135.0 1348.1L1174.4 1894.4M1140.4 1348.1L1179.4 1894.4M1152.8 1348.1L1190.8 1894.4M1166.5 1348.1L1203.4 1894.4M1175.1 1348.1L1211.3 1894.4M1195.5 1348.1L1230.0 1894.4M1198.0 1348.1L1232.4 1894.4M1202.2 1348.1L1236.2 1894.4M1207.6 1348.1L1241.2 1894.4" stroke="#302800" stroke-opacity="0.13" stroke-width="1" fill="none"/>
</g>
<polyline points="1094.7,1454.6 1096.2,1474.4 1103.8,1489.6 1115.9,1494.1 1122.8,1500.0 1129.0,1524.0 1134.9,1528.8 1142.5,1524.0 1148.0,1501.0 1150.1,1492.6 1148.6,1482.0 1143.3,1462.2 1138.0,1447.0 1136.4,1431.9 1138.0,1416.7 1143.3,1404.5 1149.3,1389.3 1149.3,1383.3 1153.1,1377.2 1153.1,1369.6 1156.2,1355.9 1161.5,1352.1 1168.3,1352.1 1170.6,1354.4 1169.1,1360.5 1164.5,1371.1 1166.0,1380.2 1172.1,1387.8 1181.2,1393.9 1194.9,1404.5 1202.5,1416.7 1205.5,1424.3 1208.6,1426.5 1216.2,1428.1 1225.3,1423.5 1228.3,1418.2 1230.4,1419.0" fill="none" stroke="#585c52" stroke-width="1.6" stroke-linejoin="round"/>
<g clip-path="url(#c14)">
<path d="M2244.5 243.3L2248.8 243.3L2145.6 1554.0L2142.0 1554.0z" fill="#ca0000"/>
<path d="M2248.0 243.3L2252.3 243.3L2148.4 1554.0L2144.9 1554.0z" fill="#cc0000"/>
<path d="M2251.5 243.3L2256.8 243.3L2152.2 1554.0L2147.8 1554.0z" fill="#cb0000"/>
<path d="M2256.0 243.3L2259.5 243.3L2154.5 1554.0L2151.5 1554.0z" fill="#c50000"/>
<path d="M2258.7 243.3L2263.0 243.3L2157.4 1554.0L2153.8 1554.0z" fill="#c80000"/>
<path d="M2262.2 243.3L2265.8 243.3L2159.7 1554.0L2156.7 1554.0z" fill="#c70000"/>
<path d="M2265.0 243.3L2268.5 243.3L2162.0 1554.0L2159.0 1554.0z" fill="#cb0000"/>
<path d="M2267.7 243.3L2271.3 243.3L2164.3 1554.0L2161.3 1554.0z" fill="#cc0000"/>
<path d="M2270.5 243.3L2274.1 243.3L2166.6 1554.0L2163.7 1554.0z" fill="#c80000"/>
<path d="M2273.3 243.3L2280.0 243.3L2171.6 1554.0L2166.0 1554.0z" fill="#c40000"/>
<path d="M2279.2 243.3L2284.5 243.3L2175.3 1554.0L2170.9 1554.0z" fill="#c71300"/>
<path d="M2283.7 243.3L2287.2 243.3L2177.6 1554.0L2174.6 1554.0z" fill="#c82d00"/>
<path d="M2286.4 243.3L2294.9 243.3L2184.0 1554.0L2176.9 1554.0z" fill="#c22b00"/>
<path d="M2294.0 243.3L2298.3 243.3L2186.9 1554.0L2183.3 1554.0z" fill="#c63300"/>
<path d="M2297.5 243.3L2305.9 243.3L2193.2 1554.0L2186.2 1554.0z" fill="#ca4900"/>
<path d="M2305.1 243.3L2313.5 243.3L2199.6 1554.0L2192.5 1554.0z" fill="#c64700"/>
<path d="M2312.7 243.3L2317.0 243.3L2202.5 1554.0L2198.9 1554.0z" fill="#c94800"/>
<path d="M2316.2 243.3L2322.9 243.3L2207.4 1554.0L2201.8 1554.0z" fill="#ca4900"/>
<path d="M2322.1 243.3L2326.4 243.3L2210.3 1554.0L2206.7 1554.0z" fill="#c74800"/>
<path d="M2325.6 243.3L2330.9 243.3L2214.0 1554.0L2209.6 1554.0z" fill="#ca6700"/>
<path d="M2330.1 243.3L2333.6 243.3L2216.3 1554.0L2213.3 1554.0z" fill="#ca6d00"/>
<path d="M2332.8 243.3L2337.1 243.3L2219.2 1554.0L2215.7 1554.0z" fill="#c56b00"/>
<path d="M2336.3 243.3L2341.6 243.3L2223.0 1554.0L2218.5 1554.0z" fill="#cb6d00"/>
<path d="M2340.8 243.3L2345.1 243.3L2225.9 1554.0L2222.3 1554.0z" fill="#ca8700"/>
<path d="M2344.3 243.3L2348.5 243.3L2228.8 1554.0L2225.2 1554.0z" fill="#cb9800"/>
<path d="M2347.7 243.3L2354.4 243.3L2233.7 1554.0L2228.1 1554.0z" fill="#c4a300"/>
<path d="M2353.6 243.3L2360.3 243.3L2238.6 1554.0L2233.0 1554.0z" fill="#c9bb02"/>
<path d="M2359.5 243.3L2367.9 243.3L2244.9 1554.0L2237.9 1554.0z" fill="#c4c40c"/>
<path d="M2367.1 243.3L2370.7 243.3L2247.2 1554.0L2244.3 1554.0z" fill="#c8c80c"/>
<path d="M2369.9 243.3L2376.6 243.3L2252.1 1554.0L2246.6 1554.0z" fill="#c5c50c"/>
<path d="M2375.8 243.3L2380.0 243.3L2255.0 1554.0L2251.5 1554.0z" fill="#cbcb0c"/>
<path d="M2379.2 243.3L2383.5 243.3L2257.9 1554.0L2254.4 1554.0z" fill="#c4c40c"/>
<path d="M2382.7 243.3L2388.0 243.3L2261.7 1554.0L2257.3 1554.0z" fill="#c5c50c"/>
<path d="M2387.2 243.3L2390.8 243.3L2264.0 1554.0L2261.0 1554.0z" fill="#cbcb0c"/>
<path d="M2390.0 243.3L2396.7 243.3L2268.9 1554.0L2263.3 1554.0z" fill="#c6c60c"/>
<path d="M2395.8 243.3L2402.5 243.3L2273.8 1554.0L2268.2 1554.0z" fill="#c6c60c"/>
<path d="M2401.7 243.3L2410.2 243.3L2280.2 1554.0L2273.1 1554.0z" fill="#c8c409"/>
<path d="M2409.4 243.3L2413.6 243.3L2283.1 1554.0L2279.5 1554.0z" fill="#c8bc00"/>
<path d="M2412.8 243.3L2418.1 243.3L2286.8 1554.0L2282.4 1554.0z" fill="#c1b500"/>
<path d="M2417.3 243.3L2422.6 243.3L2290.6 1554.0L2286.1 1554.0z" fill="#c7bb00"/>
<path d="M2421.8 243.3L2428.5 243.3L2295.5 1554.0L2289.9 1554.0z" fill="#a99600"/>
<path d="M2427.7 243.3L2436.1 243.3L2301.8 1554.0L2294.8 1554.0z" fill="#a28e00"/>
<path d="M2435.3 243.3L2439.6 243.3L2304.7 1554.0L2301.2 1554.0z" fill="#9f8b00"/>
<path d="M2438.8 243.3L2445.5 243.3L2309.6 1554.0L2304.1 1554.0z" fill="#bc9900"/>
<path d="M2444.7 243.3L2451.4 243.3L2314.5 1554.0L2309.0 1554.0z" fill="#c79e00"/>
<path d="M2450.6 243.3L2459.0 243.3L2320.9 1554.0L2313.9 1554.0z" fill="#c29b00"/>
<path d="M2458.2 243.3L2464.9 243.3L2325.8 1554.0L2320.2 1554.0z" fill="#c69e00"/>
<path d="M2464.1 243.3L2472.5 243.3L2332.2 1554.0L2325.1 1554.0z" fill="#c77f00"/>
<path d="M2471.7 243.3L2480.1 243.3L2338.5 1554.0L2331.5 1554.0z" fill="#c77f00"/>
<path d="M2479.3 243.3L2486.0 243.3L2343.4 1554.0L2337.8 1554.0z" fill="#c77f00"/>
<path d="M2485.2 243.3L2490.5 243.3L2347.2 1554.0L2342.8 1554.0z" fill="#c57e00"/>
<path d="M2489.7 243.3L2493.3 243.3L2349.5 1554.0L2346.5 1554.0z" fill="#c77c00"/>
<path d="M2492.5 243.3L2499.2 243.3L2354.4 1554.0L2348.8 1554.0z" fill="#cb6500"/>
<path d="M2498.3 243.3L2506.8 243.3L2360.8 1554.0L2353.7 1554.0z" fill="#cc6600"/>
<path d="M2506.0 243.3L2512.7 243.3L2365.7 1554.0L2360.1 1554.0z" fill="#cc6600"/>
<path d="M2511.9 243.3L2517.2 243.3L2369.4 1554.0L2365.0 1554.0z" fill="#c56200"/>
<path d="M2516.4 243.3L2520.6 243.3L2372.3 1554.0L2368.8 1554.0z" fill="#c75500"/>
<path d="M2519.8 243.3L2528.2 243.3L2378.7 1554.0L2371.6 1554.0z" fill="#c04000"/>
<path d="M2527.4 243.3L2531.0 243.3L2381.0 1554.0L2378.0 1554.0z" fill="#c24100"/>
<path d="M2530.2 243.3L2534.5 243.3L2383.9 1554.0L2380.3 1554.0z" fill="#bd3f00"/>
<path d="M2533.7 243.3L2540.4 243.3L2388.8 1554.0L2383.2 1554.0z" fill="#bf3c00"/>
<path d="M2539.6 243.3L2543.1 243.3L2391.1 1554.0L2388.1 1554.0z" fill="#cc2900"/>
<path d="M2542.3 243.3L2550.8 243.3L2397.5 1554.0L2390.4 1554.0z" fill="#ca2800"/>
<path d="M2549.9 243.3L2558.4 243.3L2403.8 1554.0L2396.8 1554.0z" fill="#c70000"/>
<path d="M2557.6 243.3L2561.8 243.3L2406.7 1554.0L2403.1 1554.0z" fill="#b80000"/>
<path d="M2561.0 243.3L2565.3 243.3L2409.6 1554.0L2406.0 1554.0z" fill="#a60000"/>
<path d="M2564.5 243.3L2568.8 243.3L2412.5 1554.0L2408.9 1554.0z" fill="#b50000"/>
<path d="M2567.9 243.3L2572.2 243.3L2415.4 1554.0L2411.8 1554.0z" fill="#b90000"/>
<path d="M2571.4 243.3L2576.7 243.3L2419.1 1554.0L2414.7 1554.0z" fill="#b60000"/>
<path d="M2575.9 243.3L2580.2 243.3L2422.0 1554.0L2418.4 1554.0z" fill="#bc0000"/>
<path d="M2579.4 243.3L2584.7 243.3L2425.8 1554.0L2421.3 1554.0z" fill="#ba0000"/>
<path d="M2583.9 243.3L2589.2 243.3L2429.5 1554.0L2425.1 1554.0z" fill="#bb0000"/>
<path d="M2588.4 243.3L2596.8 243.3L2435.9 1554.0L2428.8 1554.0z" fill="#b60000"/>
<path d="M2596.0 243.3L2599.6 243.3L2438.2 1554.0L2435.2 1554.0z" fill="#b70000"/>
<path d="M2598.8 243.3L2604.1 243.3L2441.9 1554.0L2437.5 1554.0z" fill="#ba0000"/>
<path d="M2603.3 243.3L2608.6 243.3L2445.7 1554.0L2441.3 1554.0z" fill="#b50000"/>
<path d="M2607.8 243.3L2616.2 243.3L2452.1 1554.0L2445.0 1554.0z" fill="#ab0000"/>
<path d="M2615.4 243.3L2619.0 243.3L2454.4 1554.0L2451.4 1554.0z" fill="#ac0000"/>
<path d="M2618.2 243.3L2622.4 243.3L2457.3 1554.0L2453.7 1554.0z" fill="#a90000"/>
<path d="M2621.6 243.3L2628.3 243.3L2462.2 1554.0L2456.6 1554.0z" fill="#ae0000"/>
<path d="M2627.5 243.3L2632.8 243.3L2465.9 1554.0L2461.5 1554.0z" fill="#a90000"/>
<path d="M2632.0 243.3L2635.6 243.3L2468.2 1554.0L2465.2 1554.0z" fill="#ab0000"/>
<path d="M2634.8 243.3L2641.5 243.3L2473.1 1554.0L2467.6 1554.0z" fill="#ab0000"/>
<path d="M2640.7 243.3L2646.0 243.3L2476.9 1554.0L2472.5 1554.0z" fill="#b70000"/>
<path d="M2645.2 243.3L2651.9 243.3L2481.8 1554.0L2476.2 1554.0z" fill="#b60000"/>
<path d="M2651.1 243.3L2659.5 243.3L2488.2 1554.0L2481.1 1554.0z" fill="#b20000"/>
<path d="M2658.7 243.3L2662.3 243.3L2490.5 1554.0L2487.5 1554.0z" fill="#b40000"/>
<path d="M2661.4 243.3L2669.9 243.3L2496.8 1554.0L2489.8 1554.0z" fill="#b40000"/>
<path d="M2669.1 243.3L2674.4 243.3L2500.6 1554.0L2496.2 1554.0z" fill="#b20000"/>
<path d="M2673.6 243.3L2680.3 243.3L2505.5 1554.0L2499.9 1554.0z" fill="#b50000"/>
<path d="M2679.5 243.3L2683.0 243.3L2507.8 1554.0L2504.8 1554.0z" fill="#b30000"/>
<path d="M2682.2 243.3L2690.6 243.3L2514.2 1554.0L2507.1 1554.0z" fill="#b40000"/>
<path d="M2689.8 243.3L2698.3 243.3L2520.5 1554.0L2513.5 1554.0z" fill="#c42d00"/>
<path d="M2697.5 243.3L2701.7 243.3L2523.4 1554.0L2519.8 1554.0z" fill="#c32d00"/>
<path d="M2700.9 243.3L2706.2 243.3L2527.2 1554.0L2522.7 1554.0z" fill="#be2c00"/>
<path d="M2705.4 243.3L2712.1 243.3L2532.1 1554.0L2526.5 1554.0z" fill="#bd2b00"/>
<path d="M2711.3 243.3L2716.6 243.3L2535.8 1554.0L2531.4 1554.0z" fill="#c12c00"/>
<path d="M2715.8 243.3L2719.4 243.3L2538.1 1554.0L2535.2 1554.0z" fill="#b25905"/>
<path d="M2718.6 243.3L2727.0 243.3L2544.5 1554.0L2537.5 1554.0z" fill="#b27908"/>
<path d="M2726.2 243.3L2734.6 243.3L2550.8 1554.0L2543.8 1554.0z" fill="#a05d08"/>
<path d="M2733.8 243.3L2738.1 243.3L2553.7 1554.0L2550.2 1554.0z" fill="#a15d08"/>
<path d="M2737.3 243.3L2740.9 243.3L2556.0 1554.0L2553.1 1554.0z" fill="#b73801"/>
<path d="M2740.0 243.3L2743.6 243.3L2558.4 1554.0L2555.4 1554.0z" fill="#bd3000"/>
<path d="M2742.8 243.3L2748.1 243.3L2562.1 1554.0L2557.7 1554.0z" fill="#bc3000"/>
<path d="M2747.3 243.3L2755.7 243.3L2568.5 1554.0L2561.4 1554.0z" fill="#bf3100"/>
<path d="M2754.9 243.3L2760.2 243.3L2572.2 1554.0L2567.8 1554.0z" fill="#bd3000"/>
<path d="M2759.4 243.3L2767.9 243.3L2578.6 1554.0L2571.5 1554.0z" fill="#ba2f00"/>
<path d="M2767.1 243.3L2775.5 243.3L2584.9 1554.0L2577.9 1554.0z" fill="#863f00"/>
<path d="M2774.7 243.3L2780.0 243.3L2588.7 1554.0L2584.3 1554.0z" fill="#894000"/>
<path d="M2779.2 243.3L2782.8 243.3L2591.0 1554.0L2588.0 1554.0z" fill="#863f00"/>
<path d="M2781.9 243.3L2790.4 243.3L2597.4 1554.0L2590.3 1554.0z" fill="#884000"/>
<path d="M2789.6 243.3L2798.0 243.3L2603.7 1554.0L2596.7 1554.0z" fill="#914200"/>
<path d="M2797.2 243.3L2805.6 243.3L2610.1 1554.0L2603.0 1554.0z" fill="#c24700"/>
<path d="M2804.8 243.3L2813.2 243.3L2616.4 1554.0L2609.4 1554.0z" fill="#ac4203"/>
<path d="M2812.4 243.3L2819.1 243.3L2621.3 1554.0L2615.7 1554.0z" fill="#8e3d08"/>
<path d="M2818.3 243.3L2825.0 243.3L2626.2 1554.0L2620.7 1554.0z" fill="#c10400"/>
<path d="M2824.2 243.3L2832.6 243.3L2632.6 1554.0L2625.6 1554.0z" fill="#bc0400"/>
<path d="M2831.8 243.3L2835.4 243.3L2634.9 1554.0L2631.9 1554.0z" fill="#c00400"/>
<path d="M2834.6 243.3L2838.2 243.3L2637.2 1554.0L2634.2 1554.0z" fill="#b10000"/>
<path d="M2837.4 243.3L2841.6 243.3L2640.1 1554.0L2636.5 1554.0z" fill="#b40000"/>
<path d="M2840.8 243.3L2844.4 243.3L2642.4 1554.0L2639.4 1554.0z" fill="#ad0000"/>
<path d="M2843.6 243.3L2852.0 243.3L2648.8 1554.0L2641.7 1554.0z" fill="#ad0000"/>
<path d="M2851.2 243.3L2855.5 243.3L2651.7 1554.0L2648.1 1554.0z" fill="#ad0000"/>
<path d="M2854.7 243.3L2863.1 243.3L2658.0 1554.0L2651.0 1554.0z" fill="#af0000"/>
<path d="M2862.3 243.3L2867.6 243.3L2661.8 1554.0L2657.3 1554.0z" fill="#ac0000"/>
<path d="M2866.8 243.3L2875.2 243.3L2668.1 1554.0L2661.1 1554.0z" fill="#a70000"/>
<path d="M2874.4 243.3L2882.8 243.3L2674.5 1554.0L2667.5 1554.0z" fill="#a70000"/>
<path d="M2882.0 243.3L2886.3 243.3L2677.4 1554.0L2673.8 1554.0z" fill="#a70000"/>
<path d="M2885.5 243.3L2893.9 243.3L2683.7 1554.0L2676.7 1554.0z" fill="#a70000"/>
<path d="M2893.1 243.3L2899.8 243.3L2688.6 1554.0L2683.1 1554.0z" fill="#a60000"/>
<path d="M2899.0 243.3L2903.3 243.3L2691.5 1554.0L2688.0 1554.0z" fill="#ab0000"/>
<path d="M2902.5 243.3L2906.7 243.3L2694.4 1554.0L2690.9 1554.0z" fill="#ab0000"/>
<path d="M2905.9 243.3L2909.5 243.3L2696.7 1554.0L2693.7 1554.0z" fill="#a80000"/>
<path d="M2908.7 243.3L2917.1 243.3L2703.1 1554.0L2696.1 1554.0z" fill="#a50000"/>
<path d="M2916.3 243.3L2919.9 243.3L2705.4 1554.0L2702.4 1554.0z" fill="#ab0000"/>
<path d="M2919.1 243.3L2924.4 243.3L2709.2 1554.0L2704.7 1554.0z" fill="#a90000"/>
<path d="M2923.6 243.3L2927.2 243.3L2711.5 1554.0L2708.5 1554.0z" fill="#ab0000"/>
<path d="M2926.3 243.3L2934.8 243.3L2717.8 1554.0L2710.8 1554.0z" fill="#a90000"/>
<path d="M2934.0 243.3L2942.4 243.3L2724.2 1554.0L2717.1 1554.0z" fill="#a90000"/>
<path d="M2941.6 243.3L2950.0 243.3L2730.5 1554.0L2723.5 1554.0z" fill="#b00000"/>
<path d="M2949.2 243.3L2957.6 243.3L2736.9 1554.0L2729.9 1554.0z" fill="#ac0000"/>
<path d="M2956.8 243.3L2961.1 243.3L2739.8 1554.0L2736.2 1554.0z" fill="#a90000"/>
<path d="M2960.3 243.3L2968.7 243.3L2746.1 1554.0L2739.1 1554.0z" fill="#ac0000"/>
<path d="M2967.9 243.3L2972.2 243.3L2749.0 1554.0L2745.5 1554.0z" fill="#aa0000"/>
<path d="M2971.4 243.3L2978.1 243.3L2753.9 1554.0L2748.3 1554.0z" fill="#af0000"/>
<path d="M2977.3 243.3L2980.8 243.3L2756.2 1554.0L2753.3 1554.0z" fill="#b70000"/>
<path d="M2980.0 243.3L2984.3 243.3L2759.1 1554.0L2755.6 1554.0z" fill="#b80000"/>
<path d="M2983.5 243.3L2988.8 243.3L2762.9 1554.0L2758.5 1554.0z" fill="#bc0000"/>
<path d="M2988.0 243.3L2992.3 243.3L2765.8 1554.0L2762.2 1554.0z" fill="#be0000"/>
<path d="M2991.4 243.3L2998.1 243.3L2770.7 1554.0L2765.1 1554.0z" fill="#bf0000"/>
<path d="M2997.3 243.3L3001.6 243.3L2773.6 1554.0L2770.0 1554.0z" fill="#bf0000"/>
<path d="M3000.8 243.3L3009.2 243.3L2779.9 1554.0L2772.9 1554.0z" fill="#bb0000"/>
<path d="M3008.4 243.3L3015.1 243.3L2784.8 1554.0L2779.3 1554.0z" fill="#c51400"/>
<path d="M3014.3 243.3L3018.6 243.3L2787.7 1554.0L2784.2 1554.0z" fill="#c61400"/>
<path d="M3017.8 243.3L3022.0 243.3L2790.6 1554.0L2787.1 1554.0z" fill="#c11400"/>
<path d="M3021.2 243.3L3029.7 243.3L2797.0 1554.0L2789.9 1554.0z" fill="#c53c00"/>
<path d="M3028.8 243.3L3032.4 243.3L2799.3 1554.0L2796.3 1554.0z" fill="#c43c00"/>
<path d="M3031.6 243.3L3035.2 243.3L2801.6 1554.0L2798.6 1554.0z" fill="#c25200"/>
<path d="M3034.4 243.3L3038.0 243.3L2803.9 1554.0L2800.9 1554.0z" fill="#c36c00"/>
<path d="M3037.2 243.3L3045.6 243.3L2810.3 1554.0L2803.2 1554.0z" fill="#c26b00"/>
<path d="M3044.8 243.3L3050.1 243.3L2814.0 1554.0L2809.6 1554.0z" fill="#c47800"/>
<path d="M3049.3 243.3L3056.0 243.3L2818.9 1554.0L2813.3 1554.0z" fill="#c38200"/>
<path d="M3055.2 243.3L3063.6 243.3L2825.3 1554.0L2818.2 1554.0z" fill="#bd7e00"/>
<path d="M3062.8 243.3L3071.2 243.3L2831.6 1554.0L2824.6 1554.0z" fill="#c89300"/>
<path d="M3070.4 243.3L3075.7 243.3L2835.4 1554.0L2831.0 1554.0z" fill="#c59100"/>
<path d="M3074.9 243.3L3083.3 243.3L2841.7 1554.0L2834.7 1554.0z" fill="#c79200"/>
<path d="M2251.5 243.3L2147.8 1554.0M2265.0 243.3L2159.0 1554.0M2270.5 243.3L2163.7 1554.0M2273.3 243.3L2166.0 1554.0M2305.1 243.3L2192.5 1554.0M2312.7 243.3L2198.9 1554.0M2322.1 243.3L2206.7 1554.0M2344.3 243.3L2225.2 1554.0M2359.5 243.3L2237.9 1554.0M2367.1 243.3L2244.3 1554.0M2379.2 243.3L2254.4 1554.0M2382.7 243.3L2257.3 1554.0M2390.0 243.3L2263.3 1554.0M2395.8 243.3L2268.2 1554.0M2409.4 243.3L2279.5 1554.0M2417.3 243.3L2286.1 1554.0M2458.2 243.3L2320.2 1554.0M2464.1 243.3L2325.1 1554.0M2479.3 243.3L2337.8 1554.0M2489.7 243.3L2346.5 1554.0M2498.3 243.3L2353.7 1554.0M2527.4 243.3L2378.0 1554.0M2530.2 243.3L2380.3 1554.0M2533.7 243.3L2383.2 1554.0M2561.0 243.3L2406.0 1554.0M2564.5 243.3L2408.9 1554.0M2575.9 243.3L2418.4 1554.0M2588.4 243.3L2428.8 1554.0M2596.0 243.3L2435.2 1554.0M2598.8 243.3L2437.5 1554.0M2603.3 243.3L2441.3 1554.0M2607.8 243.3L2445.0 1554.0M2618.2 243.3L2453.7 1554.0M2621.6 243.3L2456.6 1554.0M2640.7 243.3L2472.5 1554.0M2651.1 243.3L2481.1 1554.0M2658.7 243.3L2487.5 1554.0M2669.1 243.3L2496.2 1554.0M2682.2 243.3L2507.1 1554.0M2705.4 243.3L2526.5 1554.0M2715.8 243.3L2535.2 1554.0M2726.2 243.3L2543.8 1554.0M2733.8 243.3L2550.2 1554.0M2737.3 243.3L2553.1 1554.0M2759.4 243.3L2571.5 1554.0M2774.7 243.3L2584.3 1554.0M2781.9 243.3L2590.3 1554.0M2812.4 243.3L2615.7 1554.0M2818.3 243.3L2620.7 1554.0M2824.2 243.3L2625.6 1554.0M2834.6 243.3L2634.2 1554.0M2851.2 243.3L2648.1 1554.0M2854.7 243.3L2651.0 1554.0M2862.3 243.3L2657.3 1554.0M2866.8 243.3L2661.1 1554.0M2882.0 243.3L2673.8 1554.0M2885.5 243.3L2676.7 1554.0M2893.1 243.3L2683.1 1554.0M2905.9 243.3L2693.7 1554.0M2916.3 243.3L2702.4 1554.0M2926.3 243.3L2710.8 1554.0M2977.3 243.3L2753.3 1554.0M2988.0 243.3L2762.2 1554.0M2997.3 243.3L2770.0 1554.0M3014.3 243.3L2784.2 1554.0M3031.6 243.3L2798.6 1554.0M3034.4 243.3L2800.9 1554.0M3044.8 243.3L2809.6 1554.0M3049.3 243.3L2813.3 1554.0M3055.2 243.3L2818.2 1554.0M3070.4 243.3L2831.0 1554.0M3082.5 243.3L2841.1 1554.0" stroke="#302800" stroke-opacity="0.13" stroke-width="1" fill="none"/>
</g>
<polyline points="2216.6,628.4 2222.0,619.8 2232.0,611.0 2249.4,603.6 2266.8,599.9 2279.3,593.7 2309.0,579.0 2341.0,567.0 2358.0,553.0 2391.0,542.0 2413.0,542.0 2453.0,527.0 2482.0,511.0 2502.0,505.0 2508.0,498.0 2500.6,476.0 2504.0,465.0 2512.0,463.0 2527.0,457.0 2538.0,446.0 2543.0,448.0 2586.0,433.0 2612.0,425.5 2624.0,426.6 2661.0,418.0 2697.0,409.0 2704.0,407.4 2711.0,407.7 2725.0,412.0 2739.0,417.5 2742.0,420.3 2745.0,424.0 2748.0,429.0 2767.0,438.5 2773.0,436.7 2784.0,428.0 2789.5,428.0 2795.0,435.6 2810.0,431.0 2847.0,422.0 2884.5,407.0 2905.0,397.5 2940.0,377.0 2959.0,360.0 2966.5,356.0 2981.0,347.0 3004.0,327.0 3019.0,315.5 3034.0,311.0 3056.0,303.6 3065.0,298.0 3070.0,282.0 3071.0,267.0 3075.4,247.3 3073.0,275.0 3067.5,300.0" fill="none" stroke="#585c52" stroke-width="1.6" stroke-linejoin="round"/>
<g clip-path="url(#c15)">
<path d="M2213.0 646.0L2218.1 646.0L2196.3 922.0L2191.4 922.0z" fill="#7e0000"/>
<path d="M2217.3 646.0L2222.3 646.0L2200.4 922.0L2195.5 922.0z" fill="#880000"/>
<path d="M2221.6 646.0L2226.6 646.0L2204.5 922.0L2199.7 922.0z" fill="#8e0000"/>
<path d="M2225.8 646.0L2229.2 646.0L2207.0 922.0L2203.8 922.0z" fill="#8e0000"/>
<path d="M2228.5 646.0L2236.5 646.0L2214.0 922.0L2206.3 922.0z" fill="#800000"/>
<path d="M2235.7 646.0L2242.1 646.0L2219.4 922.0L2213.3 922.0z" fill="#800000"/>
<path d="M2241.3 646.0L2246.3 646.0L2223.5 922.0L2218.7 922.0z" fill="#7e0000"/>
<path d="M2245.6 646.0L2249.6 646.0L2226.7 922.0L2222.8 922.0z" fill="#7f0000"/>
<path d="M2248.8 646.0L2253.9 646.0L2230.8 922.0L2225.9 922.0z" fill="#7d0000"/>
<path d="M2217.3 646.0L2195.5 922.0M2228.5 646.0L2206.3 922.0M2241.3 646.0L2218.7 922.0M2253.1 646.0L2230.1 922.0" stroke="#302800" stroke-opacity="0.13" stroke-width="1" fill="none"/>
</g>
<g clip-path="url(#c16)">
<path d="M2217.8 723.0L2221.9 723.0L2206.3 916.5L2202.4 916.5z" fill="#a64700"/>
<path d="M2221.1 723.0L2229.0 723.0L2213.3 916.5L2205.6 916.5z" fill="#a84800"/>
<path d="M2228.3 723.0L2234.5 723.0L2218.7 916.5L2212.6 916.5z" fill="#aa4900"/>
<path d="M2233.8 723.0L2240.1 723.0L2224.1 916.5L2217.9 916.5z" fill="#ab4900"/>
<path d="M2239.3 723.0L2244.3 723.0L2228.2 916.5L2223.3 916.5z" fill="#995700"/>
<path d="M2243.5 723.0L2247.6 723.0L2231.4 916.5L2227.5 916.5z" fill="#975b00"/>
<path d="M2246.8 723.0L2253.1 723.0L2236.7 916.5L2230.6 916.5z" fill="#935e00"/>
<path d="M2252.3 723.0L2255.7 723.0L2239.3 916.5L2236.0 916.5z" fill="#8b6b00"/>
<path d="M2254.9 723.0L2258.9 723.0L2242.4 916.5L2238.5 916.5z" fill="#887300"/>
<path d="M2258.2 723.0L2262.2 723.0L2245.6 916.5L2241.7 916.5z" fill="#817600"/>
<path d="M2261.4 723.0L2265.4 723.0L2248.8 916.5L2244.9 916.5z" fill="#857900"/>
<path d="M2264.7 723.0L2269.7 723.0L2252.9 916.5L2248.0 916.5z" fill="#857900"/>
<path d="M2268.9 723.0L2272.3 723.0L2255.4 916.5L2252.2 916.5z" fill="#837700"/>
<path d="M2271.5 723.0L2276.5 723.0L2259.6 916.5L2254.7 916.5z" fill="#837700"/>
<path d="M2275.7 723.0L2282.0 723.0L2264.9 916.5L2258.8 916.5z" fill="#8d7100"/>
<path d="M2281.3 723.0L2287.6 723.0L2270.3 916.5L2264.2 916.5z" fill="#8d7100"/>
<path d="M2286.8 723.0L2290.8 723.0L2273.5 916.5L2269.6 916.5z" fill="#865100"/>
<path d="M2290.1 723.0L2295.0 723.0L2277.6 916.5L2272.8 916.5z" fill="#874c00"/>
<path d="M2294.3 723.0L2298.3 723.0L2280.8 916.5L2276.9 916.5z" fill="#8a4d00"/>
<path d="M2297.5 723.0L2302.5 723.0L2284.9 916.5L2280.0 916.5z" fill="#8a4d00"/>
<path d="M2301.8 723.0L2309.7 723.0L2291.9 916.5L2284.2 916.5z" fill="#884c00"/>
<path d="M2221.1 723.0L2205.6 916.5M2233.8 723.0L2217.9 916.5M2239.3 723.0L2223.3 916.5M2254.9 723.0L2238.5 916.5M2258.2 723.0L2241.7 916.5M2261.4 723.0L2244.9 916.5M2268.9 723.0L2252.2 916.5M2275.7 723.0L2258.8 916.5M2281.3 723.0L2264.2 916.5M2286.8 723.0L2269.6 916.5M2297.5 723.0L2280.0 916.5" stroke="#302800" stroke-opacity="0.13" stroke-width="1" fill="none"/>
</g>
<polyline points="2295.5,846.3 2294.3,838.0 2290.1,823.1 2286.0,811.5 2279.4,800.7 2271.1,788.3 2264.5,780.0 2249.0,755.7 2229.0,735.8 2219.0,727.0 2226.6,720.9 2241.5,710.9 2246.5,701.0 2239.0,683.6 2229.0,658.8 2219.0,641.4 2216.6,629.0" fill="none" stroke="#585c52" stroke-width="1.6" stroke-linejoin="round" stroke-linecap="round"/>
<polyline points="2216.6,629.0 2205.0,800.0 2192.8,918.0" fill="none" stroke="#6a1a10" stroke-width="1.0" stroke-linejoin="round" stroke-linecap="round"/>
<polygon points="2502.4,504.7 2496.5,507.0 2498.0,480.0 2501.0,466.0 2504.0,465.0 2500.6,476.0 2508.0,498.0" fill="#8c0000"/>
<polyline points="2502.0,505.0 2508.0,498.0 2500.6,476.0 2504.0,465.0" fill="none" stroke="#585c52" stroke-width="1.6" stroke-linejoin="round" stroke-linecap="round"/>
<polygon points="2697.0,409.0 2704.0,407.4 2711.0,407.7 2725.2,412.1 2739.3,417.5 2741.7,420.3 2744.0,425.0 2734.6,423.8 2718.2,426.2 2706.5,428.5 2704.0,426.2 2700.0,418.0" fill="#9a9a10"/>
<path d="M2704 426.5C2712 421 2730 421 2744 424.5C2736 425 2716 427 2706.5 429z" fill="#d4a000" stroke="#585c52" stroke-width="1.4"/>
<polyline points="2697.0,409.0 2704.0,407.4 2711.0,407.7 2725.2,412.1 2739.3,417.5 2741.7,420.3 2744.0,425.0" fill="none" stroke="#585c52" stroke-width="1.6" stroke-linejoin="round" stroke-linecap="round"/>
<g clip-path="url(#c17)">
<path d="M1166.8 842.3L1170.8 842.3L1227.2 1748.7L1223.8 1748.7z" fill="#c6c525"/>
<path d="M1170.0 842.3L1177.8 842.3L1233.4 1748.7L1226.6 1748.7z" fill="#c4c324"/>
<path d="M1177.0 842.3L1182.0 842.3L1237.0 1748.7L1232.7 1748.7z" fill="#c1c024"/>
<path d="M1181.2 842.3L1187.4 842.3L1241.8 1748.7L1236.4 1748.7z" fill="#c2c124"/>
<path d="M1186.6 842.3L1191.6 842.3L1245.4 1748.7L1241.1 1748.7z" fill="#c6c524"/>
<path d="M1190.8 842.3L1194.1 842.3L1247.7 1748.7L1244.8 1748.7z" fill="#c3c224"/>
<path d="M1193.4 842.3L1197.3 842.3L1250.5 1748.7L1247.0 1748.7z" fill="#c2c124"/>
<path d="M1196.6 842.3L1200.5 842.3L1253.3 1748.7L1249.8 1748.7z" fill="#c7c625"/>
<path d="M1199.8 842.3L1204.7 842.3L1256.9 1748.7L1252.6 1748.7z" fill="#c1c024"/>
<path d="M1203.9 842.3L1210.1 842.3L1261.7 1748.7L1256.3 1748.7z" fill="#c0bf23"/>
<path d="M1209.4 842.3L1212.7 842.3L1263.9 1748.7L1261.0 1748.7z" fill="#c0bf24"/>
<path d="M1211.9 842.3L1218.1 842.3L1268.7 1748.7L1263.3 1748.7z" fill="#c5c31c"/>
<path d="M1217.4 842.3L1222.3 842.3L1272.4 1748.7L1268.1 1748.7z" fill="#c5c218"/>
<path d="M1221.5 842.3L1224.8 842.3L1274.6 1748.7L1271.7 1748.7z" fill="#c7c418"/>
<path d="M1224.1 842.3L1231.9 842.3L1280.8 1748.7L1273.9 1748.7z" fill="#c3c018"/>
<path d="M1231.1 842.3L1234.4 842.3L1283.0 1748.7L1280.1 1748.7z" fill="#c9c518"/>
<path d="M1233.7 842.3L1238.6 842.3L1286.7 1748.7L1282.4 1748.7z" fill="#c7c418"/>
<path d="M1237.9 842.3L1242.8 842.3L1290.3 1748.7L1286.0 1748.7z" fill="#c3c018"/>
<path d="M1242.0 842.3L1245.3 842.3L1292.5 1748.7L1289.6 1748.7z" fill="#cac719"/>
<path d="M1244.6 842.3L1250.8 842.3L1297.3 1748.7L1291.9 1748.7z" fill="#c6c318"/>
<path d="M1250.0 842.3L1254.9 842.3L1301.0 1748.7L1296.7 1748.7z" fill="#cac718"/>
<path d="M1254.2 842.3L1258.1 842.3L1303.8 1748.7L1300.3 1748.7z" fill="#c5c214"/>
<path d="M1257.4 842.3L1260.7 842.3L1306.0 1748.7L1303.1 1748.7z" fill="#c6c000"/>
<path d="M1259.9 842.3L1264.8 842.3L1309.6 1748.7L1305.3 1748.7z" fill="#cdc600"/>
<path d="M1264.1 842.3L1269.0 842.3L1313.3 1748.7L1309.0 1748.7z" fill="#c7c100"/>
<path d="M1268.3 842.3L1274.4 842.3L1318.1 1748.7L1312.6 1748.7z" fill="#cdc700"/>
<path d="M1273.7 842.3L1279.9 842.3L1322.8 1748.7L1317.4 1748.7z" fill="#cac400"/>
<path d="M1279.1 842.3L1285.3 842.3L1327.6 1748.7L1322.2 1748.7z" fill="#ccb400"/>
<path d="M1284.6 842.3L1290.8 842.3L1332.3 1748.7L1326.9 1748.7z" fill="#c8b000"/>
<path d="M1290.0 842.3L1297.8 842.3L1338.5 1748.7L1331.7 1748.7z" fill="#c8b000"/>
<path d="M1297.1 842.3L1302.0 842.3L1342.2 1748.7L1337.9 1748.7z" fill="#c5ad00"/>
<path d="M1301.2 842.3L1309.0 842.3L1348.3 1748.7L1341.5 1748.7z" fill="#c5ad00"/>
<path d="M1308.3 842.3L1316.1 842.3L1354.5 1748.7L1347.7 1748.7z" fill="#c4a400"/>
<path d="M1315.3 842.3L1323.1 842.3L1360.7 1748.7L1353.8 1748.7z" fill="#ccac00"/>
<path d="M1322.3 842.3L1325.7 842.3L1362.9 1748.7L1360.0 1748.7z" fill="#c5a500"/>
<path d="M1324.9 842.3L1328.2 842.3L1365.2 1748.7L1362.3 1748.7z" fill="#c4a400"/>
<path d="M1327.5 842.3L1333.7 842.3L1369.9 1748.7L1364.5 1748.7z" fill="#c6a600"/>
<path d="M1332.9 842.3L1336.2 842.3L1372.2 1748.7L1369.3 1748.7z" fill="#c4ac00"/>
<path d="M1335.5 842.3L1339.4 842.3L1375.0 1748.7L1371.5 1748.7z" fill="#c5b100"/>
<path d="M1338.7 842.3L1342.0 842.3L1377.2 1748.7L1374.3 1748.7z" fill="#c9b500"/>
<path d="M1341.2 842.3L1344.5 842.3L1379.4 1748.7L1376.6 1748.7z" fill="#c6b200"/>
<path d="M1343.8 842.3L1347.7 842.3L1382.3 1748.7L1378.8 1748.7z" fill="#c8b400"/>
<path d="M1347.0 842.3L1351.9 842.3L1385.9 1748.7L1381.6 1748.7z" fill="#c7b300"/>
<path d="M1351.2 842.3L1355.1 842.3L1388.7 1748.7L1385.2 1748.7z" fill="#c5b100"/>
<path d="M1354.4 842.3L1359.3 842.3L1392.3 1748.7L1388.0 1748.7z" fill="#cab500"/>
<path d="M1358.5 842.3L1363.4 842.3L1396.0 1748.7L1391.7 1748.7z" fill="#c9a600"/>
<path d="M1362.7 842.3L1370.5 842.3L1402.2 1748.7L1395.3 1748.7z" fill="#ca9c00"/>
<path d="M1369.7 842.3L1373.7 842.3L1405.0 1748.7L1401.5 1748.7z" fill="#c99b00"/>
<path d="M1372.9 842.3L1377.8 842.3L1408.6 1748.7L1404.3 1748.7z" fill="#cb9c00"/>
<path d="M1377.1 842.3L1382.0 842.3L1412.2 1748.7L1408.0 1748.7z" fill="#c99b00"/>
<path d="M1381.2 842.3L1387.4 842.3L1417.0 1748.7L1411.6 1748.7z" fill="#a99409"/>
<path d="M1386.7 842.3L1390.6 842.3L1419.8 1748.7L1416.4 1748.7z" fill="#8c8e10"/>
<path d="M1389.9 842.3L1396.1 842.3L1424.6 1748.7L1419.2 1748.7z" fill="#acac02"/>
<path d="M1395.3 842.3L1398.6 842.3L1426.8 1748.7L1423.9 1748.7z" fill="#acac00"/>
<path d="M1397.9 842.3L1404.1 842.3L1431.6 1748.7L1426.2 1748.7z" fill="#b3b300"/>
<path d="M1403.3 842.3L1409.5 842.3L1436.4 1748.7L1430.9 1748.7z" fill="#b3b102"/>
<path d="M1408.8 842.3L1412.1 842.3L1438.6 1748.7L1435.7 1748.7z" fill="#b09810"/>
<path d="M1411.3 842.3L1414.6 842.3L1440.8 1748.7L1437.9 1748.7z" fill="#ae9610"/>
<path d="M1413.9 842.3L1418.8 842.3L1444.5 1748.7L1440.2 1748.7z" fill="#ad9510"/>
<path d="M1418.0 842.3L1422.0 842.3L1447.3 1748.7L1443.8 1748.7z" fill="#c88b00"/>
<path d="M1421.2 842.3L1425.2 842.3L1450.1 1748.7L1446.6 1748.7z" fill="#c58900"/>
<path d="M1424.4 842.3L1432.2 842.3L1456.3 1748.7L1449.4 1748.7z" fill="#c88b00"/>
<path d="M1431.5 842.3L1436.4 842.3L1459.9 1748.7L1455.6 1748.7z" fill="#c88b00"/>
<path d="M1435.6 842.3L1441.8 842.3L1464.7 1748.7L1459.3 1748.7z" fill="#c67900"/>
<path d="M1441.1 842.3L1446.0 842.3L1468.3 1748.7L1464.0 1748.7z" fill="#c47800"/>
<path d="M1445.2 842.3L1450.2 842.3L1472.0 1748.7L1467.7 1748.7z" fill="#c07500"/>
<path d="M1449.4 842.3L1454.3 842.3L1475.6 1748.7L1471.3 1748.7z" fill="#c67f00"/>
<path d="M1453.6 842.3L1456.9 842.3L1477.9 1748.7L1475.0 1748.7z" fill="#cb8e00"/>
<path d="M1456.1 842.3L1460.1 842.3L1480.7 1748.7L1477.2 1748.7z" fill="#c88c00"/>
<path d="M1459.3 842.3L1467.1 842.3L1486.8 1748.7L1480.0 1748.7z" fill="#c88c00"/>
<path d="M1466.4 842.3L1471.3 842.3L1490.5 1748.7L1486.2 1748.7z" fill="#c48900"/>
<path d="M1470.5 842.3L1476.7 842.3L1495.2 1748.7L1489.8 1748.7z" fill="#c98c00"/>
<path d="M1476.0 842.3L1482.2 842.3L1500.0 1748.7L1494.6 1748.7z" fill="#c98d00"/>
<path d="M1481.4 842.3L1485.4 842.3L1502.8 1748.7L1499.3 1748.7z" fill="#c78b00"/>
<path d="M1484.6 842.3L1488.6 842.3L1505.6 1748.7L1502.1 1748.7z" fill="#cb8e00"/>
<path d="M1487.8 842.3L1491.8 842.3L1508.4 1748.7L1505.0 1748.7z" fill="#c88c00"/>
<path d="M1491.0 842.3L1494.3 842.3L1510.7 1748.7L1507.8 1748.7z" fill="#ca8e00"/>
<path d="M1493.6 842.3L1496.9 842.3L1512.9 1748.7L1510.0 1748.7z" fill="#c08200"/>
<path d="M1496.1 842.3L1501.0 842.3L1516.5 1748.7L1512.2 1748.7z" fill="#b97900"/>
<path d="M1500.3 842.3L1506.5 842.3L1521.3 1748.7L1515.9 1748.7z" fill="#ca9700"/>
<path d="M1505.7 842.3L1511.9 842.3L1526.1 1748.7L1520.7 1748.7z" fill="#c69400"/>
<path d="M1511.2 842.3L1515.1 842.3L1528.9 1748.7L1525.4 1748.7z" fill="#c99700"/>
<path d="M1514.4 842.3L1518.3 842.3L1531.7 1748.7L1528.2 1748.7z" fill="#c89600"/>
<path d="M1517.6 842.3L1520.9 842.3L1533.9 1748.7L1531.0 1748.7z" fill="#c49300"/>
<path d="M1520.1 842.3L1524.1 842.3L1536.7 1748.7L1533.3 1748.7z" fill="#c79500"/>
<path d="M1523.3 842.3L1528.2 842.3L1540.4 1748.7L1536.1 1748.7z" fill="#ca9700"/>
<path d="M1527.5 842.3L1531.4 842.3L1543.2 1748.7L1539.7 1748.7z" fill="#cc9900"/>
<path d="M1530.7 842.3L1536.9 842.3L1547.9 1748.7L1542.5 1748.7z" fill="#c49300"/>
<path d="M1536.1 842.3L1540.1 842.3L1550.7 1748.7L1547.3 1748.7z" fill="#c59400"/>
<path d="M1539.3 842.3L1545.5 842.3L1555.5 1748.7L1550.1 1748.7z" fill="#c99700"/>
<path d="M1544.8 842.3L1551.0 842.3L1560.3 1748.7L1554.9 1748.7z" fill="#c59400"/>
<path d="M1550.2 842.3L1554.2 842.3L1563.1 1748.7L1559.6 1748.7z" fill="#ca9800"/>
<path d="M1553.4 842.3L1559.6 842.3L1567.8 1748.7L1562.4 1748.7z" fill="#c99700"/>
<path d="M1558.9 842.3L1562.2 842.3L1570.1 1748.7L1567.2 1748.7z" fill="#cb9800"/>
<path d="M1561.4 842.3L1566.3 842.3L1573.7 1748.7L1569.4 1748.7z" fill="#c89600"/>
<path d="M1565.6 842.3L1569.5 842.3L1576.5 1748.7L1573.1 1748.7z" fill="#c49d00"/>
<path d="M1568.8 842.3L1576.6 842.3L1582.7 1748.7L1575.9 1748.7z" fill="#c5a100"/>
<path d="M1575.8 842.3L1583.6 842.3L1588.9 1748.7L1582.0 1748.7z" fill="#c8ad00"/>
<path d="M1582.9 842.3L1586.8 842.3L1591.7 1748.7L1588.2 1748.7z" fill="#c8b400"/>
<path d="M1586.1 842.3L1589.4 842.3L1593.9 1748.7L1591.0 1748.7z" fill="#ccb800"/>
<path d="M1588.6 842.3L1592.6 842.3L1596.7 1748.7L1593.3 1748.7z" fill="#c7b300"/>
<path d="M1591.8 842.3L1596.7 842.3L1600.4 1748.7L1596.1 1748.7z" fill="#c8b400"/>
<path d="M1596.0 842.3L1600.9 842.3L1604.0 1748.7L1599.7 1748.7z" fill="#c7b300"/>
<path d="M1600.1 842.3L1603.5 842.3L1606.3 1748.7L1603.4 1748.7z" fill="#cbc711"/>
<path d="M1602.7 842.3L1610.5 842.3L1612.4 1748.7L1605.6 1748.7z" fill="#cccc14"/>
<path d="M1609.7 842.3L1613.1 842.3L1614.7 1748.7L1611.8 1748.7z" fill="#cbcb14"/>
<path d="M1612.3 842.3L1615.6 842.3L1616.9 1748.7L1614.0 1748.7z" fill="#c4c414"/>
<path d="M1614.9 842.3L1622.7 842.3L1623.1 1748.7L1616.2 1748.7z" fill="#c5c514"/>
<path d="M1621.9 842.3L1628.1 842.3L1627.8 1748.7L1622.4 1748.7z" fill="#c0c431"/>
<path d="M1627.4 842.3L1632.3 842.3L1631.5 1748.7L1627.2 1748.7z" fill="#b8bc2f"/>
<path d="M1631.5 842.3L1637.7 842.3L1636.2 1748.7L1630.8 1748.7z" fill="#b4bc5c"/>
<path d="M1637.0 842.3L1643.1 842.3L1641.0 1748.7L1635.6 1748.7z" fill="#b0b85a"/>
<path d="M1642.4 842.3L1650.2 842.3L1647.2 1748.7L1640.4 1748.7z" fill="#b3ba5b"/>
<path d="M1649.4 842.3L1657.2 842.3L1653.3 1748.7L1646.5 1748.7z" fill="#b4bc5c"/>
<path d="M1656.5 842.3L1662.7 842.3L1658.1 1748.7L1652.7 1748.7z" fill="#b5be5d"/>
<path d="M1661.9 842.3L1665.9 842.3L1660.9 1748.7L1657.5 1748.7z" fill="#b2ba5b"/>
<path d="M1665.1 842.3L1669.1 842.3L1663.7 1748.7L1660.3 1748.7z" fill="#b5bd5d"/>
<path d="M1668.3 842.3L1674.5 842.3L1668.5 1748.7L1663.1 1748.7z" fill="#b0b85a"/>
<path d="M1673.8 842.3L1679.9 842.3L1673.3 1748.7L1667.8 1748.7z" fill="#a9b158"/>
<path d="M1679.2 842.3L1685.4 842.3L1678.0 1748.7L1672.6 1748.7z" fill="#abb359"/>
<path d="M1684.6 842.3L1689.5 842.3L1681.7 1748.7L1677.4 1748.7z" fill="#a6ae57"/>
<path d="M1688.8 842.3L1692.7 842.3L1684.5 1748.7L1681.0 1748.7z" fill="#a6ae57"/>
<path d="M1692.0 842.3L1696.9 842.3L1688.1 1748.7L1683.8 1748.7z" fill="#a5ad56"/>
<path d="M1696.2 842.3L1700.1 842.3L1690.9 1748.7L1687.5 1748.7z" fill="#abb359"/>
<path d="M1699.4 842.3L1707.1 842.3L1697.1 1748.7L1690.3 1748.7z" fill="#a5ad54"/>
<path d="M1706.4 842.3L1711.3 842.3L1700.7 1748.7L1696.4 1748.7z" fill="#9da547"/>
<path d="M1710.6 842.3L1718.4 842.3L1706.9 1748.7L1700.1 1748.7z" fill="#a6af45"/>
<path d="M1717.6 842.3L1725.4 842.3L1713.1 1748.7L1706.2 1748.7z" fill="#acb83d"/>
<path d="M1724.6 842.3L1730.8 842.3L1717.8 1748.7L1712.4 1748.7z" fill="#aab63d"/>
<path d="M1730.1 842.3L1735.0 842.3L1721.5 1748.7L1717.2 1748.7z" fill="#a8b43c"/>
<path d="M1734.2 842.3L1740.4 842.3L1726.2 1748.7L1720.8 1748.7z" fill="#a7b23b"/>
<path d="M1739.7 842.3L1745.9 842.3L1731.0 1748.7L1725.6 1748.7z" fill="#a7b33c"/>
<path d="M1745.1 842.3L1750.0 842.3L1734.7 1748.7L1730.4 1748.7z" fill="#a5b03b"/>
<path d="M1749.3 842.3L1753.2 842.3L1737.5 1748.7L1734.0 1748.7z" fill="#a5b13b"/>
<path d="M1752.5 842.3L1756.4 842.3L1740.3 1748.7L1736.8 1748.7z" fill="#a7b33c"/>
<path d="M1755.7 842.3L1759.0 842.3L1742.5 1748.7L1739.6 1748.7z" fill="#a6b23b"/>
<path d="M1758.2 842.3L1762.2 842.3L1745.3 1748.7L1741.8 1748.7z" fill="#a5b13b"/>
<path d="M1761.4 842.3L1764.8 842.3L1747.5 1748.7L1744.6 1748.7z" fill="#a8b43c"/>
<path d="M1764.0 842.3L1770.2 842.3L1752.3 1748.7L1746.9 1748.7z" fill="#a5b13b"/>
<path d="M1769.5 842.3L1775.6 842.3L1757.1 1748.7L1751.7 1748.7z" fill="#abb73d"/>
<path d="M1774.9 842.3L1781.1 842.3L1761.8 1748.7L1756.4 1748.7z" fill="#a6b23b"/>
<path d="M1780.3 842.3L1786.5 842.3L1766.6 1748.7L1761.2 1748.7z" fill="#a6b23b"/>
<path d="M1785.8 842.3L1789.7 842.3L1769.4 1748.7L1766.0 1748.7z" fill="#a7b33c"/>
<path d="M1789.0 842.3L1792.3 842.3L1771.7 1748.7L1768.8 1748.7z" fill="#abb83d"/>
<path d="M1791.5 842.3L1794.8 842.3L1773.9 1748.7L1771.0 1748.7z" fill="#abb73d"/>
<path d="M1794.1 842.3L1798.0 842.3L1776.7 1748.7L1773.2 1748.7z" fill="#a9b53c"/>
<path d="M1797.3 842.3L1800.6 842.3L1778.9 1748.7L1776.0 1748.7z" fill="#a7b33c"/>
<path d="M1799.9 842.3L1803.2 842.3L1781.2 1748.7L1778.3 1748.7z" fill="#abb83d"/>
<path d="M1802.4 842.3L1810.2 842.3L1787.4 1748.7L1780.5 1748.7z" fill="#a8b43c"/>
<path d="M1809.5 842.3L1815.6 842.3L1792.1 1748.7L1786.7 1748.7z" fill="#a9b53c"/>
<path d="M1814.9 842.3L1818.8 842.3L1794.9 1748.7L1791.5 1748.7z" fill="#a7b33c"/>
<path d="M1818.1 842.3L1821.4 842.3L1797.2 1748.7L1794.3 1748.7z" fill="#a9b53c"/>
<path d="M1820.7 842.3L1826.8 842.3L1801.9 1748.7L1796.5 1748.7z" fill="#a7b33c"/>
<path d="M1826.1 842.3L1832.3 842.3L1806.7 1748.7L1801.3 1748.7z" fill="#a9b53c"/>
<path d="M1831.5 842.3L1839.3 842.3L1812.9 1748.7L1806.0 1748.7z" fill="#a7b33c"/>
<path d="M1838.6 842.3L1841.9 842.3L1815.1 1748.7L1812.2 1748.7z" fill="#aab63d"/>
<path d="M1841.1 842.3L1846.0 842.3L1818.8 1748.7L1814.5 1748.7z" fill="#aab33c"/>
<path d="M1845.3 842.3L1850.2 842.3L1822.4 1748.7L1818.1 1748.7z" fill="#aeb23b"/>
<path d="M1849.5 842.3L1857.2 842.3L1828.6 1748.7L1821.7 1748.7z" fill="#afb33c"/>
<path d="M1856.5 842.3L1862.7 842.3L1833.3 1748.7L1827.9 1748.7z" fill="#b3b73d"/>
<path d="M1861.9 842.3L1866.9 842.3L1837.0 1748.7L1832.7 1748.7z" fill="#b3b73d"/>
<path d="M1866.1 842.3L1871.0 842.3L1840.6 1748.7L1836.3 1748.7z" fill="#b1b53c"/>
<path d="M1870.3 842.3L1874.2 842.3L1843.4 1748.7L1840.0 1748.7z" fill="#adb13b"/>
<path d="M1873.5 842.3L1878.4 842.3L1847.1 1748.7L1842.8 1748.7z" fill="#aeb23b"/>
<path d="M1877.6 842.3L1881.6 842.3L1849.9 1748.7L1846.4 1748.7z" fill="#b1b53c"/>
<path d="M1880.8 842.3L1884.8 842.3L1852.7 1748.7L1849.2 1748.7z" fill="#adb13b"/>
<path d="M1884.0 842.3L1888.9 842.3L1856.3 1748.7L1852.0 1748.7z" fill="#b4b83d"/>
<path d="M1888.2 842.3L1894.4 842.3L1861.1 1748.7L1855.7 1748.7z" fill="#b1b53c"/>
<path d="M1893.6 842.3L1899.8 842.3L1865.9 1748.7L1860.4 1748.7z" fill="#aeb23b"/>
<path d="M1899.1 842.3L1902.4 842.3L1868.1 1748.7L1865.2 1748.7z" fill="#a9ad40"/>
<path d="M1901.6 842.3L1907.8 842.3L1872.9 1748.7L1867.4 1748.7z" fill="#a6aa3f"/>
<path d="M1907.1 842.3L1910.4 842.3L1875.1 1748.7L1872.2 1748.7z" fill="#a8ac40"/>
<path d="M1909.6 842.3L1912.9 842.3L1877.3 1748.7L1874.5 1748.7z" fill="#abaf41"/>
<path d="M1912.2 842.3L1915.5 842.3L1879.6 1748.7L1876.7 1748.7z" fill="#a9ad40"/>
<path d="M1914.8 842.3L1919.7 842.3L1883.2 1748.7L1878.9 1748.7z" fill="#a5a93f"/>
<path d="M1918.9 842.3L1922.9 842.3L1886.0 1748.7L1882.6 1748.7z" fill="#a9ad40"/>
<path d="M1922.1 842.3L1928.3 842.3L1890.8 1748.7L1885.4 1748.7z" fill="#a6aa3f"/>
<path d="M1927.6 842.3L1932.5 842.3L1894.4 1748.7L1890.2 1748.7z" fill="#aaae41"/>
<path d="M1931.7 842.3L1937.9 842.3L1899.2 1748.7L1893.8 1748.7z" fill="#a6aa3f"/>
<path d="M1937.2 842.3L1941.1 842.3L1902.0 1748.7L1898.6 1748.7z" fill="#aaae41"/>
<path d="M1940.4 842.3L1944.3 842.3L1904.8 1748.7L1901.4 1748.7z" fill="#abaf41"/>
<path d="M1943.6 842.3L1949.7 842.3L1909.6 1748.7L1904.2 1748.7z" fill="#aaae41"/>
<path d="M1949.0 842.3L1955.2 842.3L1914.4 1748.7L1908.9 1748.7z" fill="#8d9130"/>
<path d="M1954.4 842.3L1960.6 842.3L1919.1 1748.7L1913.7 1748.7z" fill="#8e9231"/>
<path d="M1959.9 842.3L1963.2 842.3L1921.4 1748.7L1918.5 1748.7z" fill="#80842f"/>
<path d="M1962.4 842.3L1968.6 842.3L1926.1 1748.7L1920.7 1748.7z" fill="#7e822f"/>
<path d="M1967.9 842.3L1975.7 842.3L1932.3 1748.7L1925.5 1748.7z" fill="#9fa33d"/>
<path d="M1974.9 842.3L1978.9 842.3L1935.1 1748.7L1931.6 1748.7z" fill="#9ea23d"/>
<path d="M1978.1 842.3L1983.0 842.3L1938.7 1748.7L1934.4 1748.7z" fill="#9ea23d"/>
<path d="M1982.3 842.3L1985.6 842.3L1941.0 1748.7L1938.1 1748.7z" fill="#999e3e"/>
<path d="M1984.8 842.3L1992.6 842.3L1947.2 1748.7L1940.3 1748.7z" fill="#939b48"/>
<path d="M1991.9 842.3L1999.7 842.3L1953.3 1748.7L1946.5 1748.7z" fill="#929a47"/>
<path d="M1998.9 842.3L2003.8 842.3L1957.0 1748.7L1952.7 1748.7z" fill="#979f49"/>
<path d="M2003.1 842.3L2006.4 842.3L1959.2 1748.7L1956.3 1748.7z" fill="#939b48"/>
<path d="M2005.6 842.3L2009.0 842.3L1961.5 1748.7L1958.6 1748.7z" fill="#559c37"/>
<path d="M2008.2 842.3L2011.5 842.3L1963.7 1748.7L1960.8 1748.7z" fill="#1ea128"/>
<path d="M2010.8 842.3L2014.1 842.3L1965.9 1748.7L1963.0 1748.7z" fill="#289c2d"/>
<path d="M2013.3 842.3L2016.6 842.3L1968.2 1748.7L1965.3 1748.7z" fill="#67834d"/>
<path d="M2015.9 842.3L2019.8 842.3L1971.0 1748.7L1967.5 1748.7z" fill="#6b7f4f"/>
<path d="M2019.1 842.3L2023.0 842.3L1973.8 1748.7L1970.3 1748.7z" fill="#24891f"/>
<path d="M2022.3 842.3L2025.6 842.3L1976.0 1748.7L1973.1 1748.7z" fill="#148b14"/>
<path d="M2024.8 842.3L2031.0 842.3L1980.8 1748.7L1975.4 1748.7z" fill="#148b14"/>
<path d="M2030.3 842.3L2038.1 842.3L1987.0 1748.7L1980.1 1748.7z" fill="#14b014"/>
<path d="M2037.3 842.3L2045.1 842.3L1993.1 1748.7L1986.3 1748.7z" fill="#14b414"/>
<path d="M2044.4 842.3L2050.6 842.3L1997.9 1748.7L1992.5 1748.7z" fill="#63bfb3"/>
<path d="M2049.8 842.3L2057.6 842.3L2004.1 1748.7L1997.2 1748.7z" fill="#69c1a9"/>
<path d="M2056.9 842.3L2060.8 842.3L2006.9 1748.7L2003.4 1748.7z" fill="#6fb667"/>
<path d="M2060.1 842.3L2065.0 842.3L2010.5 1748.7L2006.2 1748.7z" fill="#31b729"/>
<path d="M2064.2 842.3L2069.1 842.3L2014.2 1748.7L2009.9 1748.7z" fill="#76b629"/>
<path d="M2068.4 842.3L2072.3 842.3L2017.0 1748.7L2013.5 1748.7z" fill="#c4c42d"/>
<path d="M2071.6 842.3L2075.5 842.3L2019.8 1748.7L2016.3 1748.7z" fill="#c2c22d"/>
<path d="M2074.8 842.3L2078.7 842.3L2022.6 1748.7L2019.1 1748.7z" fill="#c3c32d"/>
<path d="M2078.0 842.3L2084.2 842.3L2027.3 1748.7L2021.9 1748.7z" fill="#bcbc2b"/>
<path d="M2083.4 842.3L2089.6 842.3L2032.1 1748.7L2026.7 1748.7z" fill="#bdbd2e"/>
<path d="M2088.9 842.3L2092.2 842.3L2034.3 1748.7L2031.4 1748.7z" fill="#bbc359"/>
<path d="M2091.4 842.3L2099.2 842.3L2040.5 1748.7L2033.7 1748.7z" fill="#bac259"/>
<path d="M2098.5 842.3L2103.4 842.3L2044.2 1748.7L2039.9 1748.7z" fill="#b4bc56"/>
<path d="M2102.6 842.3L2108.8 842.3L2048.9 1748.7L2043.5 1748.7z" fill="#b9c159"/>
<path d="M2108.1 842.3L2113.0 842.3L2052.6 1748.7L2048.3 1748.7z" fill="#b3bf6f"/>
<path d="M2112.2 842.3L2115.5 842.3L2054.8 1748.7L2051.9 1748.7z" fill="#b5c171"/>
<path d="M2114.8 842.3L2122.6 842.3L2061.0 1748.7L2054.2 1748.7z" fill="#b2be6f"/>
<path d="M2121.8 842.3L2125.8 842.3L2063.8 1748.7L2060.3 1748.7z" fill="#b4c070"/>
<path d="M2125.0 842.3L2132.8 842.3L2069.9 1748.7L2063.1 1748.7z" fill="#b6c271"/>
<path d="M2132.1 842.3L2136.0 842.3L2072.8 1748.7L2069.3 1748.7z" fill="#b6be5c"/>
<path d="M2135.3 842.3L2143.1 842.3L2078.9 1748.7L2072.1 1748.7z" fill="#b4bc58"/>
<path d="M2142.3 842.3L2146.3 842.3L2081.7 1748.7L2078.3 1748.7z" fill="#b0b856"/>
<path d="M2145.5 842.3L2150.4 842.3L2085.4 1748.7L2081.1 1748.7z" fill="#b1b957"/>
<path d="M2149.7 842.3L2157.5 842.3L2091.5 1748.7L2084.7 1748.7z" fill="#b3bb57"/>
<path d="M2156.7 842.3L2162.9 842.3L2096.3 1748.7L2090.9 1748.7z" fill="#b6be45"/>
<path d="M2162.1 842.3L2166.1 842.3L2099.1 1748.7L2095.6 1748.7z" fill="#b4bc44"/>
<path d="M2165.3 842.3L2171.5 842.3L2103.9 1748.7L2098.4 1748.7z" fill="#b3bb44"/>
<path d="M2170.8 842.3L2175.7 842.3L2107.5 1748.7L2103.2 1748.7z" fill="#b6be45"/>
<path d="M2174.9 842.3L2178.9 842.3L2110.3 1748.7L2106.9 1748.7z" fill="#b2ba43"/>
<path d="M2178.1 842.3L2181.5 842.3L2112.6 1748.7L2109.7 1748.7z" fill="#b1b843"/>
<path d="M2180.7 842.3L2188.5 842.3L2118.7 1748.7L2111.9 1748.7z" fill="#b7be43"/>
<path d="M2187.7 842.3L2192.7 842.3L2122.4 1748.7L2118.1 1748.7z" fill="#bcbc2f"/>
<path d="M2191.9 842.3L2198.1 842.3L2127.1 1748.7L2121.7 1748.7z" fill="#c1c130"/>
<path d="M2197.4 842.3L2201.3 842.3L2129.9 1748.7L2126.5 1748.7z" fill="#c8c622"/>
<path d="M2200.6 842.3L2204.5 842.3L2132.7 1748.7L2129.3 1748.7z" fill="#cbc714"/>
<path d="M2203.8 842.3L2208.7 842.3L2136.4 1748.7L2132.1 1748.7z" fill="#ccc814"/>
<path d="M2207.9 842.3L2215.7 842.3L2142.6 1748.7L2135.7 1748.7z" fill="#c9b80b"/>
<path d="M2215.0 842.3L2218.9 842.3L2145.4 1748.7L2141.9 1748.7z" fill="#cba700"/>
<path d="M2218.2 842.3L2223.1 842.3L2149.0 1748.7L2144.7 1748.7z" fill="#c99500"/>
<path d="M2222.3 842.3L2228.5 842.3L2153.8 1748.7L2148.4 1748.7z" fill="#c68600"/>
<path d="M2227.8 842.3L2232.7 842.3L2157.4 1748.7L2153.1 1748.7z" fill="#cc8b00"/>
<path d="M2231.9 842.3L2235.2 842.3L2159.7 1748.7L2156.8 1748.7z" fill="#c56e00"/>
<path d="M2234.5 842.3L2238.4 842.3L2162.5 1748.7L2159.0 1748.7z" fill="#ca5d00"/>
<path d="M2237.7 842.3L2245.5 842.3L2168.6 1748.7L2161.8 1748.7z" fill="#c85c00"/>
<path d="M2244.7 842.3L2250.9 842.3L2173.4 1748.7L2168.0 1748.7z" fill="#ca5d00"/>
<path d="M2250.2 842.3L2255.1 842.3L2177.0 1748.7L2172.7 1748.7z" fill="#cc5e00"/>
<path d="M2254.3 842.3L2262.1 842.3L2183.2 1748.7L2176.4 1748.7z" fill="#c75b00"/>
<path d="M2261.4 842.3L2266.3 842.3L2186.9 1748.7L2182.6 1748.7z" fill="#c88000"/>
<path d="M2265.5 842.3L2273.3 842.3L2193.0 1748.7L2186.2 1748.7z" fill="#c88000"/>
<path d="M2272.6 842.3L2277.5 842.3L2196.7 1748.7L2192.4 1748.7z" fill="#cb8200"/>
<path d="M2276.7 842.3L2284.5 842.3L2202.8 1748.7L2196.0 1748.7z" fill="#cba300"/>
<path d="M2283.8 842.3L2287.7 842.3L2205.6 1748.7L2202.2 1748.7z" fill="#cba200"/>
<path d="M2287.0 842.3L2293.2 842.3L2210.4 1748.7L2205.0 1748.7z" fill="#cba200"/>
<path d="M2292.4 842.3L2295.7 842.3L2212.6 1748.7L2209.7 1748.7z" fill="#cba200"/>
<path d="M2295.0 842.3L2302.8 842.3L2218.8 1748.7L2212.0 1748.7z" fill="#caa200"/>
<path d="M1190.8 842.3L1244.8 1748.7M1196.6 842.3L1249.8 1748.7M1209.4 842.3L1261.0 1748.7M1211.9 842.3L1263.3 1748.7M1217.4 842.3L1268.1 1748.7M1224.1 842.3L1273.9 1748.7M1233.7 842.3L1282.4 1748.7M1242.0 842.3L1289.6 1748.7M1250.0 842.3L1296.7 1748.7M1264.1 842.3L1309.0 1748.7M1279.1 842.3L1322.2 1748.7M1284.6 842.3L1326.9 1748.7M1301.2 842.3L1341.5 1748.7M1324.9 842.3L1362.3 1748.7M1332.9 842.3L1369.3 1748.7M1341.2 842.3L1376.6 1748.7M1343.8 842.3L1378.8 1748.7M1347.0 842.3L1381.6 1748.7M1351.2 842.3L1385.2 1748.7M1354.4 842.3L1388.0 1748.7M1362.7 842.3L1395.3 1748.7M1377.1 842.3L1408.0 1748.7M1386.7 842.3L1416.4 1748.7M1389.9 842.3L1419.2 1748.7M1397.9 842.3L1426.2 1748.7M1403.3 842.3L1430.9 1748.7M1424.4 842.3L1449.4 1748.7M1431.5 842.3L1455.6 1748.7M1435.6 842.3L1459.3 1748.7M1449.4 842.3L1471.3 1748.7M1456.1 842.3L1477.2 1748.7M1459.3 842.3L1480.0 1748.7M1466.4 842.3L1486.2 1748.7M1476.0 842.3L1494.6 1748.7M1481.4 842.3L1499.3 1748.7M1491.0 842.3L1507.8 1748.7M1511.2 842.3L1525.4 1748.7M1517.6 842.3L1531.0 1748.7M1520.1 842.3L1533.3 1748.7M1523.3 842.3L1536.1 1748.7M1544.8 842.3L1554.9 1748.7M1558.9 842.3L1567.2 1748.7M1568.8 842.3L1575.9 1748.7M1582.9 842.3L1588.2 1748.7M1586.1 842.3L1591.0 1748.7M1588.6 842.3L1593.3 1748.7M1612.3 842.3L1614.0 1748.7M1614.9 842.3L1616.2 1748.7M1649.4 842.3L1646.5 1748.7M1665.1 842.3L1660.3 1748.7M1688.8 842.3L1681.0 1748.7M1699.4 842.3L1690.3 1748.7M1706.4 842.3L1696.4 1748.7M1710.6 842.3L1700.1 1748.7M1717.6 842.3L1706.2 1748.7M1730.1 842.3L1717.2 1748.7M1739.7 842.3L1725.6 1748.7M1745.1 842.3L1730.4 1748.7M1752.5 842.3L1736.8 1748.7M1755.7 842.3L1739.6 1748.7M1758.2 842.3L1741.8 1748.7M1769.5 842.3L1751.7 1748.7M1780.3 842.3L1761.2 1748.7M1785.8 842.3L1766.0 1748.7M1791.5 842.3L1771.0 1748.7M1799.9 842.3L1778.3 1748.7M1802.4 842.3L1780.5 1748.7M1814.9 842.3L1791.5 1748.7M1818.1 842.3L1794.3 1748.7M1826.1 842.3L1801.3 1748.7M1845.3 842.3L1818.1 1748.7M1856.5 842.3L1827.9 1748.7M1866.1 842.3L1836.3 1748.7M1873.5 842.3L1842.8 1748.7M1877.6 842.3L1846.4 1748.7M1899.1 842.3L1865.2 1748.7M1901.6 842.3L1867.4 1748.7M1907.1 842.3L1872.2 1748.7M1909.6 842.3L1874.5 1748.7M1927.6 842.3L1890.2 1748.7M1984.8 842.3L1940.3 1748.7M1998.9 842.3L1952.7 1748.7M2008.2 842.3L1960.8 1748.7M2019.1 842.3L1970.3 1748.7M2030.3 842.3L1980.1 1748.7M2056.9 842.3L2003.4 1748.7M2060.1 842.3L2006.2 1748.7M2088.9 842.3L2031.4 1748.7M2108.1 842.3L2048.3 1748.7M2132.1 842.3L2069.3 1748.7M2145.5 842.3L2081.1 1748.7M2149.7 842.3L2084.7 1748.7M2162.1 842.3L2095.6 1748.7M2165.3 842.3L2098.4 1748.7M2170.8 842.3L2103.2 1748.7M2178.1 842.3L2109.7 1748.7M2180.7 842.3L2111.9 1748.7M2187.7 842.3L2118.1 1748.7M2200.6 842.3L2129.3 1748.7M2207.9 842.3L2135.7 1748.7M2215.0 842.3L2141.9 1748.7M2218.2 842.3L2144.7 1748.7M2222.3 842.3L2148.4 1748.7M2227.8 842.3L2153.1 1748.7M2231.9 842.3L2156.8 1748.7M2237.7 842.3L2161.8 1748.7M2244.7 842.3L2168.0 1748.7M2250.2 842.3L2172.7 1748.7M2265.5 842.3L2186.2 1748.7M2272.6 842.3L2192.4 1748.7M2276.7 842.3L2196.0 1748.7M2283.8 842.3L2202.2 1748.7M2295.0 842.3L2212.0 1748.7M2302.0 842.3L2218.2 1748.7" stroke="#302800" stroke-opacity="0.13" stroke-width="1" fill="none"/>
</g>
<polyline points="1228.3,1418.2 1226.0,1413.6 1216.2,1400.0 1211.6,1384.8 1207.0,1368.1 1201.0,1355.9 1199.5,1346.8 1199.5,1318.0 1204.0,1298.2 1210.0,1280.0 1214.0,1267.0 1225.0,1239.0 1226.0,1195.0 1234.0,1177.0 1251.0,1157.0 1269.0,1140.0 1277.0,1132.0 1299.0,1120.0 1324.0,1109.0 1347.0,1096.0 1369.0,1074.0 1384.0,1063.0 1392.7,1059.5 1392.7,1053.3 1393.9,1050.2 1396.6,1047.1 1404.3,1043.6 1416.0,1040.5 1427.6,1038.2 1439.3,1037.4 1448.6,1037.2 1458.4,1036.1 1468.3,1037.9 1480.7,1041.6 1498.0,1025.5 1513.0,1016.8 1530.4,1013.0 1540.4,1014.3 1546.0,1010.0 1560.0,999.0 1600.0,989.0 1622.0,973.0 1642.0,968.0 1662.0,961.0 1677.0,959.0 1704.0,960.0 1722.0,961.0 1840.0,959.0 1895.0,958.0 1947.0,964.0 1962.0,974.0 1998.2,984.8 1998.2,976.3 2000.8,975.1 2006.6,973.2 2018.2,972.4 2029.9,969.3 2041.5,964.3 2053.2,960.0 2088.0,948.0 2138.0,929.0 2183.0,923.0 2195.3,918.0 2212.7,906.8 2224.7,900.0 2238.0,890.1 2246.3,882.7 2262.8,871.9 2279.4,862.8 2291.0,856.2 2294.3,852.0 2295.5,846.3" fill="none" stroke="#585c52" stroke-width="1.6" stroke-linejoin="round"/>
<polygon points="1480.7,1041.6 1498.0,1025.5 1513.0,1016.8 1530.4,1013.0 1540.4,1014.3 1546.0,1010.0 1530.4,1019.3 1505.6,1032.9 1493.2,1035.4" fill="#c86800" stroke="#585c52" stroke-width="1.4"/>
<path d="M1505 1031L1527 1018" stroke="#c8c800" stroke-width="3"/>
<polygon points="1392.7,1053.3 1393.9,1050.2 1396.6,1047.1 1404.3,1043.6 1416.0,1040.5 1427.6,1038.2 1439.3,1037.4 1448.6,1037.2 1458.4,1036.1 1468.3,1037.9 1480.7,1041.6 1473.3,1045.3 1449.4,1055.2 1439.3,1058.3 1431.5,1061.1 1423.0,1063.4 1416.0,1062.6 1408.2,1062.6 1400.5,1061.8 1395.8,1058.7 1393.1,1055.2" fill="#c4a400" stroke="#585c52" stroke-width="1.6" stroke-linejoin="round"/>
<polygon points="2011.4,991.3 2013.9,1006.2 2017.6,1018.6 2023.9,1024.8 2030.1,1023.6 2031.3,998.8 2029.0,996.2 2022.1,993.8" fill="#4f9672" stroke="#585c52" stroke-width="1.4" stroke-linejoin="round"/>
<polygon points="2025.5,1000.0 2031.3,998.8 2030.1,1023.6 2025.0,1024.5" fill="#46bcb4"/>
<g clip-path="url(#c18)">
<path d="M1998.4 952.3L2006.1 952.3L2003.5 1000.3L1995.9 1000.3z" fill="#a2c361"/>
<path d="M2005.3 952.3L2008.6 952.3L2006.0 1000.3L2002.8 1000.3z" fill="#b8bf48"/>
<path d="M2007.9 952.3L2013.9 952.3L2011.4 1000.3L2005.3 1000.3z" fill="#babe45"/>
<path d="M2013.2 952.3L2019.3 952.3L2016.7 1000.3L2010.6 1000.3z" fill="#babe45"/>
<path d="M2018.6 952.3L2026.2 952.3L2023.6 1000.3L2016.0 1000.3z" fill="#c3c314"/>
<path d="M2025.5 952.3L2033.2 952.3L2030.5 1000.3L2022.8 1000.3z" fill="#c5c514"/>
<path d="M2032.4 952.3L2040.1 952.3L2037.3 1000.3L2029.7 1000.3z" fill="#c4c414"/>
<path d="M2039.4 952.3L2044.2 952.3L2041.4 1000.3L2036.6 1000.3z" fill="#c5c514"/>
<path d="M2043.5 952.3L2047.4 952.3L2044.5 1000.3L2040.7 1000.3z" fill="#c7c714"/>
<path d="M2046.6 952.3L2050.5 952.3L2047.7 1000.3L2043.8 1000.3z" fill="#c2c214"/>
<path d="M2049.8 952.3L2053.7 952.3L2050.8 1000.3L2047.0 1000.3z" fill="#c1c114"/>
<path d="M2052.9 952.3L2057.8 952.3L2054.9 1000.3L2050.1 1000.3z" fill="#c7c714"/>
<path d="M2057.0 952.3L2064.7 952.3L2061.8 1000.3L2054.2 1000.3z" fill="#c4c414"/>
<path d="M2064.0 952.3L2070.1 952.3L2067.1 1000.3L2061.0 1000.3z" fill="#c3c314"/>
<path d="M2007.9 952.3L2005.3 1000.3M2018.6 952.3L2016.0 1000.3M2057.0 952.3L2054.2 1000.3M2064.0 952.3L2061.0 1000.3M2069.3 952.3L2066.4 1000.3" stroke="#302800" stroke-opacity="0.13" stroke-width="1" fill="none"/>
</g>
<polyline points="2058.6,989.5 2049.3,993.0 2041.5,994.9 2033.8,996.3 2027.9,996.1 2022.1,993.8 2014.3,989.9 2006.6,986.0 2000.4,983.3 1998.2,984.8 1998.2,976.3 2000.8,975.1 2006.6,973.2 2018.2,972.4 2029.9,969.3 2041.5,964.3 2053.2,960.0" fill="none" stroke="#585c52" stroke-width="1.6" stroke-linejoin="round" stroke-linecap="round"/>
<polyline points="2030.3,1001.5 2058.6,989.5" fill="none" stroke="#585c52" stroke-width="1.6" stroke-linejoin="round" stroke-linecap="round"/>
<path d="M2940.0 188.1L2904.7 397.6" stroke="#a0a0a0" stroke-width="1.4" fill="none"/>
<path d="M2615.0 231.0L2589.0 432.8" stroke="#a0a0a0" stroke-width="1.4" fill="none"/>
<path d="M2233.0 436.0L2216.9 627.0" stroke="#a0a0a0" stroke-width="1.4" fill="none"/>
<path d="M2255.8 701.1L2239.3 889.4" stroke="#a0a0a0" stroke-width="1.4" fill="none"/>
<path d="M2061.5 808.1L2049.9 992.5" stroke="#a0a0a0" stroke-width="1.4" fill="none"/>
<path d="M1818.7 775.4L1813.3 958.7" stroke="#a0a0a0" stroke-width="1.4" fill="none"/>
<path d="M1402.4 869.7L1406.7 1041.6" stroke="#a0a0a0" stroke-width="1.4" fill="none"/>
<path d="M1445.6 873.9L1449.7 1055.3" stroke="#a0a0a0" stroke-width="1.4" fill="none"/>
<path d="M1097.1 1167.9L1108.0 1330.0" stroke="#a0a0a0" stroke-width="1.4" fill="none"/>
<path d="M1215.0 1242.9L1226.0 1414.0" stroke="#a0a0a0" stroke-width="1.4" fill="none"/>
<path d="M1137.3 1324.5L1149.3 1492.6" stroke="#a0a0a0" stroke-width="1.4" fill="none"/>
<path d="M874.0 1393.7L893.6 1650.9" stroke="#a0a0a0" stroke-width="1.4" fill="none"/>
<path d="M968.4 1418.1L982.8 1578.2" stroke="#a0a0a0" stroke-width="1.4" fill="none"/>
<path d="M853.4 1520.3L870.2 1662.6" stroke="#a0a0a0" stroke-width="1.4" fill="none"/>
<path d="M816.2 1571.9L834.0 1712.0" stroke="#a0a0a0" stroke-width="1.4" fill="none"/>
<text transform="translate(2940.0 175.6) scale(1.09 1)" font-size="37.3" text-anchor="middle">18.6%</text>
<text x="2940.0" y="213.4" font-size="37.3" text-anchor="middle">11m</text>
<text transform="translate(2615.0 218.5) scale(1.09 1)" font-size="37.3" text-anchor="middle">17.2%</text>
<text x="2615.0" y="256.3" font-size="37.3" text-anchor="middle">8m</text>
<text transform="translate(2233.0 423.5) scale(1.09 1)" font-size="37.3" text-anchor="middle">16.5%</text>
<text x="2233.0" y="461.3" font-size="37.3" text-anchor="middle">11m</text>
<text transform="translate(2255.8 688.6) scale(1.09 1)" font-size="37.3" text-anchor="middle">11.7%</text>
<text x="2255.8" y="726.4" font-size="37.3" text-anchor="middle">11m</text>
<text transform="translate(2061.5 795.6) scale(1.09 1)" font-size="37.3" text-anchor="middle">5.4%</text>
<text x="2061.5" y="833.4" font-size="37.3" text-anchor="middle">17m</text>
<text transform="translate(1818.7 762.9) scale(1.09 1)" font-size="37.3" text-anchor="middle">4.9%</text>
<text x="1818.7" y="800.7" font-size="37.3" text-anchor="middle">34m</text>
<text transform="translate(1402.4 857.2) scale(1.09 1)" font-size="37.3" text-anchor="middle">11.6%</text>
<text x="1402.4" y="895.0" font-size="37.3" text-anchor="middle">12m</text>
<text transform="translate(1445.6 861.4) scale(1.09 1)" font-size="37.3" text-anchor="middle">10.4%</text>
<text x="1445.6" y="899.2" font-size="37.3" text-anchor="middle">13m</text>
<text transform="translate(1097.1 1155.4) scale(1.09 1)" font-size="37.3" text-anchor="middle">10.1%</text>
<text x="1097.1" y="1193.2" font-size="37.3" text-anchor="middle">5m</text>
<text transform="translate(1215.0 1230.4) scale(1.09 1)" font-size="37.3" text-anchor="middle">9.3%</text>
<text x="1215.0" y="1268.2" font-size="37.3" text-anchor="middle">12m</text>
<text transform="translate(1137.3 1312.0) scale(1.09 1)" font-size="37.3" text-anchor="middle">10.7%</text>
<text x="1137.3" y="1349.8" font-size="37.3" text-anchor="middle">7m</text>
<text transform="translate(874.0 1381.2) scale(1.09 1)" font-size="37.3" text-anchor="middle">5.6%</text>
<text x="874.0" y="1419.0" font-size="37.3" text-anchor="middle">38m</text>
<text transform="translate(968.4 1405.6) scale(1.09 1)" font-size="37.3" text-anchor="middle">12.0%</text>
<text x="968.4" y="1443.4" font-size="37.3" text-anchor="middle">9m</text>
<text transform="translate(853.4 1507.8) scale(1.09 1)" font-size="37.3" text-anchor="middle">10.6%</text>
<text x="853.4" y="1545.6" font-size="37.3" text-anchor="middle">18m</text>
<text transform="translate(816.2 1559.4) scale(1.09 1)" font-size="37.3" text-anchor="middle">8.3%</text>
<text x="816.2" y="1597.2" font-size="37.3" text-anchor="middle">17m</text>
<text class="t" transform="translate(47.6 103.5) scale(0.968 1)" font-size="99.5">Monte Zoncolan from Sutrio</text>
<text class="t" transform="translate(3790.5 66.3) scale(0.97 1)" font-size="74" text-anchor="end">13.5 km at 8.5%</text>
<rect x="3758.4" y="1646.4" width="48" height="480" fill="url(#lg)" stroke="#b8c4d8" stroke-width="1"/>
<text x="3638.8" y="1659.9" font-size="41.5" textLength="94.7" lengthAdjust="spacingAndGlyphs">25%</text>
<text x="3641.5" y="1803.7" font-size="41.5" textLength="92.0" lengthAdjust="spacingAndGlyphs">10%</text>
<text x="3666.7" y="1899.6" font-size="41.5" textLength="66.8" lengthAdjust="spacingAndGlyphs">0%</text>
<text x="3624.1" y="1995.4" font-size="41.5" textLength="109.4" lengthAdjust="spacingAndGlyphs">-10%</text>
<text x="3367.1" y="2139.2" font-size="41.5" textLength="366.4" lengthAdjust="spacingAndGlyphs">(Grid: 1 km) -25%</text>
<text class="t" y="2122.0" font-size="220.6" font-weight="bold" stroke-width="12.0" stroke-linejoin="miter" stroke-miterlimit="2.5"><tspan x="17.1" textLength="132.50" lengthAdjust="spacingAndGlyphs" fill="#000" stroke="#000">v</tspan><tspan x="125.1" textLength="126.43" lengthAdjust="spacingAndGlyphs" fill="#000" stroke="#000">e</tspan><tspan x="242.7" textLength="64.08" lengthAdjust="spacingAndGlyphs" fill="#000" stroke="#000" font-size="232.0">l</tspan><tspan x="298.2" textLength="131.11" lengthAdjust="spacingAndGlyphs" fill="#000" stroke="#000">o</tspan><tspan x="402.0" textLength="133.77" lengthAdjust="spacingAndGlyphs" fill="#fb0730" stroke="#fb0730">v</tspan><tspan x="520.4" textLength="65.70" lengthAdjust="spacingAndGlyphs" fill="#fb0730" stroke="#fb0730" font-size="232.0">i</tspan><tspan x="572.0" textLength="125.04" lengthAdjust="spacingAndGlyphs" fill="#fb0730" stroke="#fb0730">e</tspan><tspan x="685.7" textLength="183.77" lengthAdjust="spacingAndGlyphs" fill="#fb0730" stroke="#fb0730">w</tspan><tspan x="853.4" textLength="127.47" lengthAdjust="spacingAndGlyphs" fill="#fb0730" stroke="#fb0730">e</tspan><tspan x="970.6" textLength="91.99" lengthAdjust="spacingAndGlyphs" fill="#fb0730" stroke="#fb0730">r</tspan></text>
<rect x="526" y="1938" width="54" height="55.4" fill="#fff"/><circle cx="553" cy="1969.6" r="22.4" fill="#fb0730"/>
<text class="t" x="1141" y="2027.5" font-size="37" letter-spacing="0.6" stroke="#000" stroke-width="1">POWERED BY</text>
<text class="t" y="2124.0" font-size="98.7" font-weight="bold" stroke-width="5.0" stroke-linejoin="miter" stroke-miterlimit="2.5"><tspan x="1138.2" textLength="71.17" lengthAdjust="spacingAndGlyphs" fill="#fc4c02" stroke="#fc4c02">S</tspan><tspan x="1207.1" textLength="65.23" lengthAdjust="spacingAndGlyphs" fill="#fc4c02" stroke="#fc4c02">T</tspan><tspan x="1270.8" textLength="79.39" lengthAdjust="spacingAndGlyphs" fill="#fc4c02" stroke="#fc4c02">R</tspan><tspan x="1343.5" textLength="75.01" lengthAdjust="spacingAndGlyphs" fill="#fc4c02" stroke="#fc4c02">A</tspan><tspan x="1398.7" textLength="73.14" lengthAdjust="spacingAndGlyphs" fill="#fc4c02" stroke="#fc4c02">V</tspan><tspan x="1449.2" textLength="77.49" lengthAdjust="spacingAndGlyphs" fill="#fc4c02" stroke="#fc4c02">A</tspan></text>
</svg>
</body></html>
